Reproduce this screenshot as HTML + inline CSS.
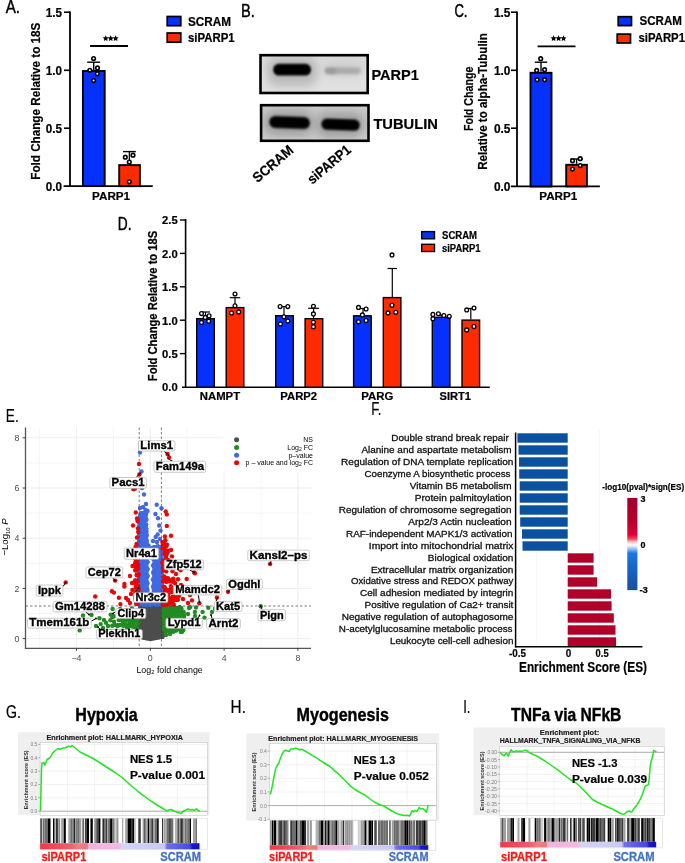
<!DOCTYPE html>
<html><head><meta charset="utf-8"><style>
html,body{margin:0;padding:0;background:#fff;}
svg{display:block;font-family:"Liberation Sans", sans-serif;will-change:transform;}
</style></head><body>
<svg width="685" height="863" viewBox="0 0 685 863">
<rect width="685" height="863" fill="#fff"/>
<text x="5.7" y="12.9" font-size="17.5" textLength="14.3" lengthAdjust="spacingAndGlyphs" fill="#000" stroke="#000" stroke-width="0.45">A.</text>
<line x1="70.0" y1="11.4" x2="70.0" y2="187.0" stroke="#000" stroke-width="1.8"/>
<line x1="63.6" y1="186.2" x2="152.7" y2="186.2" stroke="#000" stroke-width="1.8"/>
<line x1="64.0" y1="12.2" x2="70.0" y2="12.2" stroke="#000" stroke-width="1.6"/>
<line x1="64.0" y1="70.3" x2="70.0" y2="70.3" stroke="#000" stroke-width="1.6"/>
<line x1="64.0" y1="128.2" x2="70.0" y2="128.2" stroke="#000" stroke-width="1.6"/>
<text x="62.0" y="16.7" font-size="12" font-weight="bold" text-anchor="end" textLength="16.2" lengthAdjust="spacingAndGlyphs" fill="#000" stroke="#000" stroke-width="0.2">1.5</text>
<text x="62.0" y="74.8" font-size="12" font-weight="bold" text-anchor="end" textLength="16.2" lengthAdjust="spacingAndGlyphs" fill="#000" stroke="#000" stroke-width="0.2">1.0</text>
<text x="62.0" y="132.7" font-size="12" font-weight="bold" text-anchor="end" textLength="16.2" lengthAdjust="spacingAndGlyphs" fill="#000" stroke="#000" stroke-width="0.2">0.5</text>
<text x="62.0" y="190.7" font-size="12" font-weight="bold" text-anchor="end" textLength="16.2" lengthAdjust="spacingAndGlyphs" fill="#000" stroke="#000" stroke-width="0.2">0.0</text>
<text x="39.8" y="179.7" font-size="12.5" font-weight="bold" textLength="157.0" lengthAdjust="spacingAndGlyphs" fill="#000" transform="rotate(-90 39.8 179.7)" stroke="#000" stroke-width="0.2">Fold Change Relative to 18S</text>
<rect x="82.9" y="71.0" width="21.8" height="115.1" fill="#0630fb" stroke="#000" stroke-width="1.9"/>
<rect x="119.2" y="165.1" width="20.7" height="21.1" fill="#fe2a00" stroke="#000" stroke-width="1.9"/>
<line x1="93.7" y1="70.1" x2="93.7" y2="62.2" stroke="#000" stroke-width="1.4"/>
<line x1="87.2" y1="62.2" x2="100.2" y2="62.2" stroke="#000" stroke-width="1.4"/>
<line x1="129.4" y1="164.2" x2="129.4" y2="151.6" stroke="#000" stroke-width="1.4"/>
<line x1="123.0" y1="151.6" x2="135.8" y2="151.6" stroke="#000" stroke-width="1.4"/>
<circle cx="93.6" cy="58.5" r="1.80" fill="#fff" stroke="#000" stroke-width="1.6"/>
<circle cx="89.8" cy="70.3" r="1.80" fill="#fff" stroke="#000" stroke-width="1.6"/>
<circle cx="97.5" cy="67.9" r="1.80" fill="#fff" stroke="#000" stroke-width="1.6"/>
<circle cx="97.3" cy="73.8" r="1.80" fill="#fff" stroke="#000" stroke-width="1.6"/>
<circle cx="93.6" cy="80.6" r="1.80" fill="#fff" stroke="#000" stroke-width="1.6"/>
<circle cx="125.3" cy="157.2" r="1.80" fill="#fff" stroke="#000" stroke-width="1.6"/>
<circle cx="129.3" cy="162.0" r="1.80" fill="#fff" stroke="#000" stroke-width="1.6"/>
<circle cx="133.0" cy="155.2" r="1.80" fill="#fff" stroke="#000" stroke-width="1.6"/>
<circle cx="129.3" cy="181.8" r="1.80" fill="#fff" stroke="#000" stroke-width="1.6"/>
<line x1="90.1" y1="46.0" x2="128.0" y2="46.0" stroke="#000" stroke-width="1.8"/>
<polygon points="105.70,35.30 106.61,37.15 108.65,37.44 107.17,38.88 107.52,40.91 105.70,39.95 103.88,40.91 104.23,38.88 102.75,37.44 104.79,37.15" fill="#000"/>
<polygon points="110.70,35.30 111.61,37.15 113.65,37.44 112.17,38.88 112.52,40.91 110.70,39.95 108.88,40.91 109.23,38.88 107.75,37.44 109.79,37.15" fill="#000"/>
<polygon points="115.60,35.30 116.51,37.15 118.55,37.44 117.07,38.88 117.42,40.91 115.60,39.95 113.78,40.91 114.13,38.88 112.65,37.44 114.69,37.15" fill="#000"/>
<text x="111.1" y="199.9" font-size="11.7" font-weight="bold" text-anchor="middle" textLength="38.0" lengthAdjust="spacingAndGlyphs" fill="#000" stroke="#000" stroke-width="0.2">PARP1</text>
<rect x="167.2" y="16.5" width="13.6" height="9.2" fill="#0630fb" stroke="#000" stroke-width="1.7"/>
<rect x="167.2" y="33.0" width="13.6" height="9.2" fill="#fe2a00" stroke="#000" stroke-width="1.7"/>
<text x="188.0" y="26.0" font-size="12" font-weight="bold" textLength="43.0" lengthAdjust="spacingAndGlyphs" fill="#000" stroke="#000" stroke-width="0.2">SCRAM</text>
<text x="188.0" y="42.1" font-size="12" font-weight="bold" textLength="46.7" lengthAdjust="spacingAndGlyphs" fill="#000" stroke="#000" stroke-width="0.2">siPARP1</text>
<text x="240.9" y="16.9" font-size="17.5" textLength="13.8" lengthAdjust="spacingAndGlyphs" fill="#000" stroke="#000" stroke-width="0.45">B.</text>
<defs>
<filter id="bl08" x="-50%" y="-100%" width="200%" height="300%"><feGaussianBlur stdDeviation="0.8"/></filter>
<filter id="bl12" x="-50%" y="-100%" width="200%" height="300%"><feGaussianBlur stdDeviation="1.2"/></filter>
<filter id="bl18" x="-50%" y="-100%" width="200%" height="300%"><feGaussianBlur stdDeviation="1.6"/></filter>
<filter id="bl4" x="-50%" y="-100%" width="200%" height="300%"><feGaussianBlur stdDeviation="4"/></filter>
<linearGradient id="blotbg" x1="0" y1="0" x2="0" y2="1"><stop offset="0" stop-color="#d8d8d8"/><stop offset="0.5" stop-color="#e4e4e4"/><stop offset="1" stop-color="#dedede"/></linearGradient>
<linearGradient id="blotbg2" x1="0" y1="0" x2="0" y2="1"><stop offset="0" stop-color="#cacaca"/><stop offset="0.5" stop-color="#c4c4c4"/><stop offset="1" stop-color="#cdcdcd"/></linearGradient>
<clipPath id="clipb1"><rect x="261.8" y="56.5" width="104.6" height="35.2"/></clipPath>
<clipPath id="clipb2"><rect x="262.4" y="107" width="104.6" height="32"/></clipPath>
</defs>
<rect x="260.5" y="55.2" width="107.2" height="37.8" fill="url(#blotbg)"/>
<g clip-path="url(#clipb1)">
<rect x="266" y="58" width="52" height="28" rx="12" fill="#9a9a9a" opacity="0.55" filter="url(#bl4)"/>
<rect x="322" y="63" width="42" height="14" rx="7" fill="#b8b8b8" opacity="0.5" filter="url(#bl4)"/>
<rect x="273.2" y="63.8" width="37.8" height="11.8" rx="5.6" fill="#000" filter="url(#bl08)"/>
<rect x="325" y="67.6" width="35.5" height="6.4" rx="3.2" fill="#aaaaaa" filter="url(#bl18)"/><rect x="325.5" y="68.2" width="11" height="5.2" rx="2.6" fill="#9c9c9c" filter="url(#bl18)"/>
</g>
<rect x="260.5" y="55.2" width="107.2" height="37.8" fill="none" stroke="#000" stroke-width="2.6"/>
<rect x="261.1" y="105.2" width="107.4" height="35.6" fill="url(#blotbg2)"/>
<g clip-path="url(#clipb2)">
<rect x="264" y="110" width="50" height="26" rx="12" fill="#8a8a8a" opacity="0.6" filter="url(#bl4)"/>
<rect x="316" y="112" width="48" height="26" rx="12" fill="#8a8a8a" opacity="0.6" filter="url(#bl4)"/>
<rect x="269.3" y="116.5" width="40.6" height="12" rx="5.8" fill="#000" filter="url(#bl08)" transform="rotate(2 289.5 122.3)"/>
<rect x="321.4" y="118.9" width="38.4" height="11.4" rx="5.5" fill="#000" filter="url(#bl08)" transform="rotate(2 340.6 124.6)"/>
</g>
<rect x="261.1" y="105.2" width="107.4" height="35.6" fill="none" stroke="#000" stroke-width="2.6"/>
<text x="371.4" y="79.8" font-size="14.8" font-weight="bold" textLength="47.5" lengthAdjust="spacingAndGlyphs" fill="#000" stroke="#000" stroke-width="0.2">PARP1</text>
<text x="373.4" y="128.5" font-size="14.8" font-weight="bold" textLength="64.5" lengthAdjust="spacingAndGlyphs" fill="#000" stroke="#000" stroke-width="0.2">TUBULIN</text>
<text x="257.6" y="183.2" font-size="14" font-weight="bold" textLength="48.5" lengthAdjust="spacingAndGlyphs" fill="#000" transform="rotate(-40.5 257.6 183.2)" stroke="#000" stroke-width="0.2">SCRAM</text>
<text x="312.2" y="184.8" font-size="14" font-weight="bold" textLength="52.0" lengthAdjust="spacingAndGlyphs" fill="#000" transform="rotate(-40 312.2 184.8)" stroke="#000" stroke-width="0.2">siPARP1</text>
<text x="454.4" y="16.6" font-size="17.5" textLength="13.1" lengthAdjust="spacingAndGlyphs" fill="#000" stroke="#000" stroke-width="0.45">C.</text>
<line x1="517.0" y1="11.4" x2="517.0" y2="187.0" stroke="#000" stroke-width="1.8"/>
<line x1="510.8" y1="186.4" x2="599.9" y2="186.4" stroke="#000" stroke-width="1.8"/>
<line x1="511.0" y1="12.2" x2="517.0" y2="12.2" stroke="#000" stroke-width="1.6"/>
<line x1="511.0" y1="70.3" x2="517.0" y2="70.3" stroke="#000" stroke-width="1.6"/>
<line x1="511.0" y1="128.2" x2="517.0" y2="128.2" stroke="#000" stroke-width="1.6"/>
<text x="510.4" y="16.7" font-size="12" font-weight="bold" text-anchor="end" textLength="16.5" lengthAdjust="spacingAndGlyphs" fill="#000" stroke="#000" stroke-width="0.2">1.5</text>
<text x="510.4" y="74.8" font-size="12" font-weight="bold" text-anchor="end" textLength="16.5" lengthAdjust="spacingAndGlyphs" fill="#000" stroke="#000" stroke-width="0.2">1.0</text>
<text x="510.4" y="132.7" font-size="12" font-weight="bold" text-anchor="end" textLength="16.5" lengthAdjust="spacingAndGlyphs" fill="#000" stroke="#000" stroke-width="0.2">0.5</text>
<text x="510.4" y="190.9" font-size="12" font-weight="bold" text-anchor="end" textLength="16.5" lengthAdjust="spacingAndGlyphs" fill="#000" stroke="#000" stroke-width="0.2">0.0</text>
<text x="473.5" y="131.1" font-size="12.3" font-weight="bold" textLength="64.4" lengthAdjust="spacingAndGlyphs" fill="#000" transform="rotate(-90 473.5 131.1)" stroke="#000" stroke-width="0.2">Fold Change</text>
<text x="487.4" y="169.8" font-size="12.3" font-weight="bold" textLength="136.7" lengthAdjust="spacingAndGlyphs" fill="#000" transform="rotate(-90 487.4 169.8)" stroke="#000" stroke-width="0.2">Relative to alpha-Tubulin</text>
<rect x="530.5" y="72.8" width="21.0" height="113.7" fill="#0630fb" stroke="#000" stroke-width="1.9"/>
<rect x="566.2" y="164.8" width="20.7" height="21.6" fill="#fe2a00" stroke="#000" stroke-width="1.9"/>
<line x1="541.0" y1="71.8" x2="541.0" y2="62.2" stroke="#000" stroke-width="1.4"/>
<line x1="534.8" y1="62.2" x2="547.2" y2="62.2" stroke="#000" stroke-width="1.4"/>
<line x1="576.6" y1="163.9" x2="576.6" y2="159.0" stroke="#000" stroke-width="1.4"/>
<line x1="570.3" y1="159.0" x2="582.9" y2="159.0" stroke="#000" stroke-width="1.4"/>
<circle cx="540.7" cy="58.7" r="1.80" fill="#fff" stroke="#000" stroke-width="1.6"/>
<circle cx="536.7" cy="70.4" r="1.80" fill="#fff" stroke="#000" stroke-width="1.6"/>
<circle cx="544.6" cy="69.7" r="1.80" fill="#fff" stroke="#000" stroke-width="1.6"/>
<circle cx="537.1" cy="79.7" r="1.80" fill="#fff" stroke="#000" stroke-width="1.6"/>
<circle cx="544.6" cy="79.7" r="1.80" fill="#fff" stroke="#000" stroke-width="1.6"/>
<circle cx="572.5" cy="160.8" r="1.80" fill="#fff" stroke="#000" stroke-width="1.6"/>
<circle cx="580.2" cy="158.7" r="1.80" fill="#fff" stroke="#000" stroke-width="1.6"/>
<circle cx="580.2" cy="165.6" r="1.80" fill="#fff" stroke="#000" stroke-width="1.6"/>
<circle cx="572.5" cy="169.1" r="1.80" fill="#fff" stroke="#000" stroke-width="1.6"/>
<line x1="537.6" y1="46.4" x2="575.5" y2="46.4" stroke="#000" stroke-width="1.8"/>
<polygon points="553.60,35.30 554.51,37.15 556.55,37.44 555.07,38.88 555.42,40.91 553.60,39.95 551.78,40.91 552.13,38.88 550.65,37.44 552.69,37.15" fill="#000"/>
<polygon points="558.60,35.30 559.51,37.15 561.55,37.44 560.07,38.88 560.42,40.91 558.60,39.95 556.78,40.91 557.13,38.88 555.65,37.44 557.69,37.15" fill="#000"/>
<polygon points="563.50,35.30 564.41,37.15 566.45,37.44 564.97,38.88 565.32,40.91 563.50,39.95 561.68,40.91 562.03,38.88 560.55,37.44 562.59,37.15" fill="#000"/>
<text x="558.3" y="199.9" font-size="11.7" font-weight="bold" text-anchor="middle" textLength="38.0" lengthAdjust="spacingAndGlyphs" fill="#000" stroke="#000" stroke-width="0.2">PARP1</text>
<rect x="618.2" y="16.7" width="13.3" height="8.9" fill="#0630fb" stroke="#000" stroke-width="1.7"/>
<rect x="617.2" y="34.1" width="13.3" height="8.9" fill="#fe2a00" stroke="#000" stroke-width="1.7"/>
<text x="639.5" y="25.4" font-size="12" font-weight="bold" textLength="42.4" lengthAdjust="spacingAndGlyphs" fill="#000" stroke="#000" stroke-width="0.2">SCRAM</text>
<text x="638.5" y="42.3" font-size="12" font-weight="bold" textLength="46.5" lengthAdjust="spacingAndGlyphs" fill="#000" stroke="#000" stroke-width="0.2">siPARP1</text>
<text x="117.8" y="229.6" font-size="17.5" textLength="13.7" lengthAdjust="spacingAndGlyphs" fill="#000" stroke="#000" stroke-width="0.45">D.</text>
<line x1="185.6" y1="219.0" x2="185.6" y2="388.0" stroke="#000" stroke-width="1.6"/>
<line x1="182.0" y1="387.2" x2="489.8" y2="387.2" stroke="#000" stroke-width="1.6"/>
<text x="177.7" y="391.4" font-size="10.3" font-weight="bold" text-anchor="end" textLength="15.6" lengthAdjust="spacingAndGlyphs" fill="#000" stroke="#000" stroke-width="0.2">0.0</text>
<line x1="179.9" y1="353.6" x2="185.6" y2="353.6" stroke="#000" stroke-width="1.4"/>
<text x="177.7" y="358.0" font-size="10.3" font-weight="bold" text-anchor="end" textLength="15.6" lengthAdjust="spacingAndGlyphs" fill="#000" stroke="#000" stroke-width="0.2">0.5</text>
<line x1="179.9" y1="320.2" x2="185.6" y2="320.2" stroke="#000" stroke-width="1.4"/>
<text x="177.7" y="324.6" font-size="10.3" font-weight="bold" text-anchor="end" textLength="15.6" lengthAdjust="spacingAndGlyphs" fill="#000" stroke="#000" stroke-width="0.2">1.0</text>
<line x1="179.9" y1="286.8" x2="185.6" y2="286.8" stroke="#000" stroke-width="1.4"/>
<text x="177.7" y="291.2" font-size="10.3" font-weight="bold" text-anchor="end" textLength="15.6" lengthAdjust="spacingAndGlyphs" fill="#000" stroke="#000" stroke-width="0.2">1.5</text>
<line x1="179.9" y1="253.4" x2="185.6" y2="253.4" stroke="#000" stroke-width="1.4"/>
<text x="177.7" y="257.8" font-size="10.3" font-weight="bold" text-anchor="end" textLength="15.6" lengthAdjust="spacingAndGlyphs" fill="#000" stroke="#000" stroke-width="0.2">2.0</text>
<line x1="179.9" y1="220.0" x2="185.6" y2="220.0" stroke="#000" stroke-width="1.4"/>
<text x="177.7" y="224.4" font-size="10.3" font-weight="bold" text-anchor="end" textLength="15.6" lengthAdjust="spacingAndGlyphs" fill="#000" stroke="#000" stroke-width="0.2">2.5</text>
<text transform="translate(156.6,381.2) scale(1.15,1) rotate(-90)" x="0" y="0" font-size="10.6" font-weight="bold" textLength="150.4" lengthAdjust="spacingAndGlyphs" stroke="#000" stroke-width="0.2">Fold Change Relative to 18S</text>
<rect x="196.7" y="318.7" width="17.6" height="68.5" fill="#0630fb" stroke="#000" stroke-width="1.4"/>
<rect x="226.2" y="307.6" width="17.6" height="79.6" fill="#fe2a00" stroke="#000" stroke-width="1.4"/>
<rect x="275.7" y="315.7" width="17.6" height="71.5" fill="#0630fb" stroke="#000" stroke-width="1.4"/>
<rect x="305.1" y="318.7" width="17.6" height="68.5" fill="#fe2a00" stroke="#000" stroke-width="1.4"/>
<rect x="353.6" y="315.8" width="17.6" height="71.4" fill="#0630fb" stroke="#000" stroke-width="1.4"/>
<rect x="383.3" y="297.6" width="17.6" height="89.6" fill="#fe2a00" stroke="#000" stroke-width="1.4"/>
<rect x="432.3" y="317.3" width="17.6" height="69.9" fill="#0630fb" stroke="#000" stroke-width="1.4"/>
<rect x="462.0" y="320.1" width="17.6" height="67.1" fill="#fe2a00" stroke="#000" stroke-width="1.4"/>
<text x="199.8" y="400.0" font-size="10.6" font-weight="bold" textLength="40.3" lengthAdjust="spacingAndGlyphs" fill="#000" stroke="#000" stroke-width="0.2">NAMPT</text>
<text x="280.3" y="400.0" font-size="10.6" font-weight="bold" textLength="36.8" lengthAdjust="spacingAndGlyphs" fill="#000" stroke="#000" stroke-width="0.2">PARP2</text>
<text x="361.2" y="400.0" font-size="10.6" font-weight="bold" textLength="32.1" lengthAdjust="spacingAndGlyphs" fill="#000" stroke="#000" stroke-width="0.2">PARG</text>
<text x="439.5" y="400.0" font-size="10.6" font-weight="bold" textLength="31.5" lengthAdjust="spacingAndGlyphs" fill="#000" stroke="#000" stroke-width="0.2">SIRT1</text>
<line x1="205.5" y1="318.0" x2="205.5" y2="312.0" stroke="#000" stroke-width="1.2"/>
<line x1="201.0" y1="312.0" x2="210.0" y2="312.0" stroke="#000" stroke-width="1.2"/>
<line x1="235.0" y1="306.9" x2="235.0" y2="297.7" stroke="#000" stroke-width="1.2"/>
<line x1="229.8" y1="297.7" x2="240.2" y2="297.7" stroke="#000" stroke-width="1.2"/>
<line x1="284.0" y1="315.0" x2="284.0" y2="306.6" stroke="#000" stroke-width="1.2"/>
<line x1="279.5" y1="306.6" x2="288.5" y2="306.6" stroke="#000" stroke-width="1.2"/>
<line x1="313.6" y1="318.0" x2="313.6" y2="308.3" stroke="#000" stroke-width="1.2"/>
<line x1="308.1" y1="308.3" x2="319.1" y2="308.3" stroke="#000" stroke-width="1.2"/>
<line x1="363.0" y1="315.1" x2="363.0" y2="308.5" stroke="#000" stroke-width="1.2"/>
<line x1="358.5" y1="308.5" x2="367.5" y2="308.5" stroke="#000" stroke-width="1.2"/>
<line x1="392.3" y1="296.9" x2="392.3" y2="268.5" stroke="#000" stroke-width="1.2"/>
<line x1="387.6" y1="268.5" x2="397.0" y2="268.5" stroke="#000" stroke-width="1.2"/>
<line x1="441.0" y1="316.6" x2="441.0" y2="315.0" stroke="#000" stroke-width="1.2"/>
<line x1="437.0" y1="315.0" x2="445.0" y2="315.0" stroke="#000" stroke-width="1.2"/>
<line x1="470.8" y1="319.4" x2="470.8" y2="308.5" stroke="#000" stroke-width="1.2"/>
<line x1="466.3" y1="308.5" x2="475.3" y2="308.5" stroke="#000" stroke-width="1.2"/>
<circle cx="201.5" cy="313.6" r="1.90" fill="#fff" stroke="#000" stroke-width="1.3"/>
<circle cx="205.2" cy="317.4" r="1.90" fill="#fff" stroke="#000" stroke-width="1.3"/>
<circle cx="209.1" cy="315.8" r="1.90" fill="#fff" stroke="#000" stroke-width="1.3"/>
<circle cx="201.5" cy="322.4" r="1.90" fill="#fff" stroke="#000" stroke-width="1.3"/>
<circle cx="208.7" cy="321.3" r="1.90" fill="#fff" stroke="#000" stroke-width="1.3"/>
<circle cx="235.0" cy="294.0" r="1.90" fill="#fff" stroke="#000" stroke-width="1.3"/>
<circle cx="235.0" cy="305.8" r="1.90" fill="#fff" stroke="#000" stroke-width="1.3"/>
<circle cx="231.5" cy="313.0" r="1.90" fill="#fff" stroke="#000" stroke-width="1.3"/>
<circle cx="238.7" cy="311.9" r="1.90" fill="#fff" stroke="#000" stroke-width="1.3"/>
<circle cx="280.1" cy="306.6" r="1.90" fill="#fff" stroke="#000" stroke-width="1.3"/>
<circle cx="287.8" cy="306.6" r="1.90" fill="#fff" stroke="#000" stroke-width="1.3"/>
<circle cx="283.9" cy="316.8" r="1.90" fill="#fff" stroke="#000" stroke-width="1.3"/>
<circle cx="280.4" cy="324.0" r="1.90" fill="#fff" stroke="#000" stroke-width="1.3"/>
<circle cx="287.8" cy="320.9" r="1.90" fill="#fff" stroke="#000" stroke-width="1.3"/>
<circle cx="313.4" cy="306.3" r="1.90" fill="#fff" stroke="#000" stroke-width="1.3"/>
<circle cx="313.4" cy="313.9" r="1.90" fill="#fff" stroke="#000" stroke-width="1.3"/>
<circle cx="313.4" cy="322.3" r="1.90" fill="#fff" stroke="#000" stroke-width="1.3"/>
<circle cx="313.4" cy="326.7" r="1.90" fill="#fff" stroke="#000" stroke-width="1.3"/>
<circle cx="358.5" cy="307.4" r="1.90" fill="#fff" stroke="#000" stroke-width="1.3"/>
<circle cx="366.1" cy="309.0" r="1.90" fill="#fff" stroke="#000" stroke-width="1.3"/>
<circle cx="362.4" cy="314.9" r="1.90" fill="#fff" stroke="#000" stroke-width="1.3"/>
<circle cx="358.5" cy="321.7" r="1.90" fill="#fff" stroke="#000" stroke-width="1.3"/>
<circle cx="366.1" cy="320.6" r="1.90" fill="#fff" stroke="#000" stroke-width="1.3"/>
<circle cx="392.0" cy="254.9" r="1.90" fill="#fff" stroke="#000" stroke-width="1.3"/>
<circle cx="392.0" cy="305.3" r="1.90" fill="#fff" stroke="#000" stroke-width="1.3"/>
<circle cx="388.0" cy="312.9" r="1.90" fill="#fff" stroke="#000" stroke-width="1.3"/>
<circle cx="395.7" cy="312.3" r="1.90" fill="#fff" stroke="#000" stroke-width="1.3"/>
<circle cx="432.9" cy="314.4" r="1.90" fill="#fff" stroke="#000" stroke-width="1.3"/>
<circle cx="438.4" cy="313.8" r="1.90" fill="#fff" stroke="#000" stroke-width="1.3"/>
<circle cx="443.9" cy="315.5" r="1.90" fill="#fff" stroke="#000" stroke-width="1.3"/>
<circle cx="449.3" cy="316.2" r="1.90" fill="#fff" stroke="#000" stroke-width="1.3"/>
<circle cx="432.9" cy="318.8" r="1.90" fill="#fff" stroke="#000" stroke-width="1.3"/>
<circle cx="466.7" cy="309.9" r="1.90" fill="#fff" stroke="#000" stroke-width="1.3"/>
<circle cx="474.0" cy="308.0" r="1.90" fill="#fff" stroke="#000" stroke-width="1.3"/>
<circle cx="466.7" cy="329.9" r="1.90" fill="#fff" stroke="#000" stroke-width="1.3"/>
<circle cx="474.0" cy="326.6" r="1.90" fill="#fff" stroke="#000" stroke-width="1.3"/>
<rect x="421.7" y="231.6" width="12.8" height="7.2" fill="#0630fb" stroke="#000" stroke-width="1.4"/>
<rect x="421.7" y="244.3" width="12.8" height="7.2" fill="#fe2a00" stroke="#000" stroke-width="1.4"/>
<text x="442.0" y="239.0" font-size="10.4" font-weight="bold" textLength="35.1" lengthAdjust="spacingAndGlyphs" fill="#000" stroke="#000" stroke-width="0.2">SCRAM</text>
<text x="442.0" y="251.8" font-size="10.4" font-weight="bold" textLength="38.6" lengthAdjust="spacingAndGlyphs" fill="#000" stroke="#000" stroke-width="0.2">siPARP1</text>
<text x="5.8" y="422.2" font-size="17.5" textLength="12.9" lengthAdjust="spacingAndGlyphs" fill="#000" stroke="#000" stroke-width="0.15">E.</text>
<line x1="39.6" y1="427.5" x2="39.6" y2="648.3" stroke="#ebebeb" stroke-width="0.5"/>
<line x1="76.5" y1="427.5" x2="76.5" y2="648.3" stroke="#ebebeb" stroke-width="0.9"/>
<line x1="113.4" y1="427.5" x2="113.4" y2="648.3" stroke="#ebebeb" stroke-width="0.5"/>
<line x1="150.3" y1="427.5" x2="150.3" y2="648.3" stroke="#ebebeb" stroke-width="0.9"/>
<line x1="187.2" y1="427.5" x2="187.2" y2="648.3" stroke="#ebebeb" stroke-width="0.5"/>
<line x1="224.1" y1="427.5" x2="224.1" y2="648.3" stroke="#ebebeb" stroke-width="0.9"/>
<line x1="261.0" y1="427.5" x2="261.0" y2="648.3" stroke="#ebebeb" stroke-width="0.5"/>
<line x1="297.9" y1="427.5" x2="297.9" y2="648.3" stroke="#ebebeb" stroke-width="0.9"/>
<line x1="25.5" y1="638.6" x2="311.0" y2="638.6" stroke="#ebebeb" stroke-width="0.9"/>
<line x1="25.5" y1="613.5" x2="311.0" y2="613.5" stroke="#ebebeb" stroke-width="0.5"/>
<line x1="25.5" y1="588.4" x2="311.0" y2="588.4" stroke="#ebebeb" stroke-width="0.9"/>
<line x1="25.5" y1="563.3" x2="311.0" y2="563.3" stroke="#ebebeb" stroke-width="0.5"/>
<line x1="25.5" y1="538.2" x2="311.0" y2="538.2" stroke="#ebebeb" stroke-width="0.9"/>
<line x1="25.5" y1="513.1" x2="311.0" y2="513.1" stroke="#ebebeb" stroke-width="0.5"/>
<line x1="25.5" y1="488.0" x2="311.0" y2="488.0" stroke="#ebebeb" stroke-width="0.9"/>
<line x1="25.5" y1="462.9" x2="311.0" y2="462.9" stroke="#ebebeb" stroke-width="0.5"/>
<line x1="25.5" y1="437.8" x2="311.0" y2="437.8" stroke="#ebebeb" stroke-width="0.9"/>
<polygon points="138.6,605 163.2,605 163.2,638.6 150.5,641.2 138.6,638.6" fill="#4d4d4d"/>
<g fill="#4d4d4d"><circle cx="149.7" cy="624.5" r="2.2"/><circle cx="160.8" cy="620.8" r="2.2"/><circle cx="151.0" cy="625.4" r="2.2"/><circle cx="143.4" cy="622.5" r="2.2"/><circle cx="153.9" cy="631.7" r="2.2"/><circle cx="141.2" cy="615.9" r="2.2"/><circle cx="141.1" cy="631.5" r="2.2"/><circle cx="155.4" cy="607.8" r="2.2"/><circle cx="162.2" cy="636.0" r="2.2"/><circle cx="154.4" cy="626.0" r="2.2"/><circle cx="142.7" cy="607.0" r="2.2"/><circle cx="151.5" cy="608.4" r="2.2"/><circle cx="143.5" cy="614.1" r="2.2"/><circle cx="139.7" cy="620.7" r="2.2"/><circle cx="149.4" cy="633.6" r="2.2"/><circle cx="151.3" cy="627.1" r="2.2"/><circle cx="150.8" cy="627.9" r="2.2"/><circle cx="149.8" cy="615.5" r="2.2"/><circle cx="162.5" cy="636.9" r="2.2"/><circle cx="158.8" cy="628.5" r="2.2"/><circle cx="146.4" cy="613.8" r="2.2"/><circle cx="145.8" cy="608.7" r="2.2"/><circle cx="157.1" cy="619.0" r="2.2"/><circle cx="159.0" cy="618.5" r="2.2"/><circle cx="161.6" cy="632.5" r="2.2"/><circle cx="139.0" cy="612.9" r="2.2"/><circle cx="160.5" cy="621.0" r="2.2"/><circle cx="162.1" cy="618.6" r="2.2"/><circle cx="140.7" cy="625.9" r="2.2"/><circle cx="157.4" cy="614.9" r="2.2"/><circle cx="141.1" cy="616.8" r="2.2"/><circle cx="161.8" cy="629.7" r="2.2"/><circle cx="141.8" cy="614.1" r="2.2"/><circle cx="141.4" cy="608.4" r="2.2"/><circle cx="157.8" cy="612.0" r="2.2"/><circle cx="152.2" cy="620.8" r="2.2"/><circle cx="143.5" cy="629.4" r="2.2"/><circle cx="142.1" cy="626.5" r="2.2"/><circle cx="141.7" cy="619.5" r="2.2"/><circle cx="144.0" cy="615.0" r="2.2"/><circle cx="161.9" cy="631.1" r="2.2"/><circle cx="146.2" cy="634.5" r="2.2"/><circle cx="144.0" cy="618.8" r="2.2"/><circle cx="159.2" cy="626.4" r="2.2"/><circle cx="141.4" cy="637.1" r="2.2"/><circle cx="144.0" cy="614.6" r="2.2"/><circle cx="157.2" cy="616.8" r="2.2"/><circle cx="146.0" cy="608.8" r="2.2"/><circle cx="141.1" cy="624.5" r="2.2"/><circle cx="144.7" cy="625.4" r="2.2"/><circle cx="147.8" cy="621.0" r="2.2"/><circle cx="161.6" cy="621.3" r="2.2"/><circle cx="152.6" cy="634.2" r="2.2"/><circle cx="143.3" cy="611.3" r="2.2"/><circle cx="160.4" cy="631.7" r="2.2"/><circle cx="144.9" cy="612.5" r="2.2"/><circle cx="156.5" cy="636.0" r="2.2"/><circle cx="143.6" cy="636.2" r="2.2"/><circle cx="159.8" cy="625.2" r="2.2"/><circle cx="148.9" cy="609.8" r="2.2"/><circle cx="139.9" cy="636.1" r="2.2"/><circle cx="144.6" cy="628.6" r="2.2"/><circle cx="145.1" cy="632.4" r="2.2"/><circle cx="153.1" cy="615.9" r="2.2"/><circle cx="143.1" cy="629.0" r="2.2"/><circle cx="140.6" cy="613.5" r="2.2"/><circle cx="152.2" cy="633.8" r="2.2"/><circle cx="153.5" cy="615.4" r="2.2"/><circle cx="160.6" cy="612.8" r="2.2"/><circle cx="139.4" cy="614.7" r="2.2"/><circle cx="149.5" cy="608.4" r="2.2"/><circle cx="143.2" cy="618.0" r="2.2"/><circle cx="152.5" cy="610.7" r="2.2"/><circle cx="147.5" cy="634.9" r="2.2"/><circle cx="162.1" cy="626.6" r="2.2"/><circle cx="155.3" cy="625.0" r="2.2"/><circle cx="142.3" cy="607.6" r="2.2"/><circle cx="139.4" cy="634.4" r="2.2"/><circle cx="155.5" cy="636.9" r="2.2"/><circle cx="139.5" cy="626.0" r="2.2"/><circle cx="150.4" cy="630.1" r="2.2"/><circle cx="146.5" cy="638.2" r="2.2"/><circle cx="140.8" cy="623.3" r="2.2"/><circle cx="156.4" cy="634.8" r="2.2"/><circle cx="156.4" cy="628.6" r="2.2"/><circle cx="157.7" cy="635.1" r="2.2"/><circle cx="147.3" cy="628.3" r="2.2"/><circle cx="160.3" cy="633.4" r="2.2"/><circle cx="148.8" cy="631.8" r="2.2"/><circle cx="159.4" cy="624.2" r="2.2"/><circle cx="153.7" cy="618.7" r="2.2"/><circle cx="152.8" cy="626.0" r="2.2"/><circle cx="140.9" cy="626.2" r="2.2"/><circle cx="162.4" cy="633.3" r="2.2"/><circle cx="156.2" cy="618.7" r="2.2"/><circle cx="156.3" cy="624.8" r="2.2"/><circle cx="149.4" cy="633.4" r="2.2"/><circle cx="141.0" cy="629.7" r="2.2"/><circle cx="139.7" cy="624.9" r="2.2"/><circle cx="150.4" cy="613.9" r="2.2"/><circle cx="155.5" cy="622.2" r="2.2"/><circle cx="153.5" cy="635.8" r="2.2"/><circle cx="145.0" cy="606.9" r="2.2"/><circle cx="146.1" cy="628.0" r="2.2"/><circle cx="143.8" cy="611.8" r="2.2"/><circle cx="160.4" cy="626.8" r="2.2"/><circle cx="149.4" cy="635.2" r="2.2"/><circle cx="146.7" cy="627.6" r="2.2"/><circle cx="143.7" cy="620.0" r="2.2"/><circle cx="158.0" cy="635.0" r="2.2"/><circle cx="159.8" cy="618.4" r="2.2"/><circle cx="152.8" cy="616.6" r="2.2"/><circle cx="142.2" cy="621.9" r="2.2"/><circle cx="158.8" cy="632.9" r="2.2"/><circle cx="155.8" cy="636.4" r="2.2"/><circle cx="145.5" cy="611.8" r="2.2"/><circle cx="149.6" cy="615.4" r="2.2"/><circle cx="144.1" cy="619.5" r="2.2"/><circle cx="153.8" cy="622.2" r="2.2"/><circle cx="146.4" cy="633.1" r="2.2"/><circle cx="162.2" cy="620.3" r="2.2"/><circle cx="140.8" cy="607.5" r="2.2"/><circle cx="159.6" cy="607.8" r="2.2"/><circle cx="155.7" cy="624.5" r="2.2"/><circle cx="146.3" cy="631.6" r="2.2"/><circle cx="139.5" cy="610.7" r="2.2"/><circle cx="149.7" cy="607.3" r="2.2"/><circle cx="158.6" cy="613.9" r="2.2"/><circle cx="142.3" cy="608.0" r="2.2"/><circle cx="153.8" cy="620.7" r="2.2"/><circle cx="153.9" cy="627.3" r="2.2"/><circle cx="158.1" cy="636.4" r="2.2"/><circle cx="155.2" cy="612.8" r="2.2"/><circle cx="150.2" cy="612.3" r="2.2"/><circle cx="139.3" cy="621.0" r="2.2"/><circle cx="155.9" cy="612.1" r="2.2"/><circle cx="145.4" cy="617.4" r="2.2"/><circle cx="155.5" cy="622.9" r="2.2"/><circle cx="153.5" cy="630.6" r="2.2"/><circle cx="148.3" cy="631.8" r="2.2"/><circle cx="160.4" cy="609.2" r="2.2"/><circle cx="161.0" cy="628.7" r="2.2"/><circle cx="142.1" cy="620.6" r="2.2"/><circle cx="153.8" cy="635.4" r="2.2"/><circle cx="147.9" cy="624.7" r="2.2"/><circle cx="159.8" cy="631.1" r="2.2"/><circle cx="161.3" cy="620.7" r="2.2"/><circle cx="154.4" cy="613.0" r="2.2"/><circle cx="156.0" cy="632.3" r="2.2"/><circle cx="154.1" cy="629.3" r="2.2"/><circle cx="144.0" cy="634.7" r="2.2"/><circle cx="162.1" cy="636.4" r="2.2"/><circle cx="151.7" cy="631.9" r="2.2"/><circle cx="146.6" cy="635.4" r="2.2"/><circle cx="159.2" cy="617.3" r="2.2"/><circle cx="141.0" cy="620.1" r="2.2"/><circle cx="152.0" cy="631.1" r="2.2"/><circle cx="150.5" cy="607.4" r="2.2"/><circle cx="158.1" cy="608.5" r="2.2"/><circle cx="157.9" cy="611.9" r="2.2"/><circle cx="146.9" cy="631.5" r="2.2"/><circle cx="142.3" cy="611.1" r="2.2"/><circle cx="151.2" cy="629.8" r="2.2"/><circle cx="158.8" cy="627.9" r="2.2"/><circle cx="161.3" cy="621.6" r="2.2"/><circle cx="161.4" cy="609.1" r="2.2"/><circle cx="144.2" cy="623.0" r="2.2"/><circle cx="145.8" cy="629.5" r="2.2"/><circle cx="154.1" cy="623.1" r="2.2"/><circle cx="158.9" cy="623.9" r="2.2"/><circle cx="146.4" cy="618.6" r="2.2"/><circle cx="158.9" cy="634.4" r="2.2"/><circle cx="143.9" cy="633.1" r="2.2"/><circle cx="161.9" cy="622.5" r="2.2"/><circle cx="152.5" cy="612.9" r="2.2"/><circle cx="151.6" cy="622.7" r="2.2"/><circle cx="153.3" cy="607.4" r="2.2"/><circle cx="161.9" cy="622.3" r="2.2"/><circle cx="148.5" cy="632.1" r="2.2"/><circle cx="152.3" cy="622.2" r="2.2"/><circle cx="155.3" cy="608.6" r="2.2"/><circle cx="151.7" cy="619.8" r="2.2"/><circle cx="161.6" cy="634.8" r="2.2"/><circle cx="145.4" cy="621.4" r="2.2"/><circle cx="142.0" cy="620.0" r="2.2"/><circle cx="158.3" cy="634.5" r="2.2"/><circle cx="150.2" cy="616.7" r="2.2"/><circle cx="143.5" cy="625.8" r="2.2"/><circle cx="160.8" cy="610.5" r="2.2"/><circle cx="157.4" cy="607.2" r="2.2"/><circle cx="143.6" cy="613.6" r="2.2"/><circle cx="155.2" cy="616.7" r="2.2"/><circle cx="147.4" cy="626.2" r="2.2"/><circle cx="141.5" cy="629.1" r="2.2"/><circle cx="141.9" cy="622.3" r="2.2"/><circle cx="144.9" cy="612.7" r="2.2"/><circle cx="151.5" cy="620.5" r="2.2"/><circle cx="147.9" cy="619.7" r="2.2"/><circle cx="151.5" cy="611.6" r="2.2"/><circle cx="143.8" cy="626.3" r="2.2"/><circle cx="154.1" cy="623.3" r="2.2"/><circle cx="159.1" cy="625.5" r="2.2"/><circle cx="159.2" cy="613.7" r="2.2"/><circle cx="156.5" cy="632.0" r="2.2"/><circle cx="160.3" cy="616.2" r="2.2"/><circle cx="146.4" cy="635.7" r="2.2"/><circle cx="144.1" cy="637.8" r="2.2"/><circle cx="159.9" cy="610.6" r="2.2"/><circle cx="144.6" cy="629.3" r="2.2"/><circle cx="145.1" cy="609.6" r="2.2"/><circle cx="158.6" cy="619.6" r="2.2"/><circle cx="157.6" cy="610.4" r="2.2"/><circle cx="148.5" cy="628.4" r="2.2"/><circle cx="139.4" cy="612.7" r="2.2"/><circle cx="155.1" cy="635.3" r="2.2"/><circle cx="161.9" cy="610.0" r="2.2"/><circle cx="150.9" cy="630.9" r="2.2"/><circle cx="150.9" cy="628.6" r="2.2"/><circle cx="143.5" cy="608.7" r="2.2"/><circle cx="141.5" cy="607.7" r="2.2"/><circle cx="152.0" cy="623.0" r="2.2"/><circle cx="152.4" cy="611.2" r="2.2"/><circle cx="143.4" cy="612.9" r="2.2"/><circle cx="158.8" cy="637.2" r="2.2"/><circle cx="160.9" cy="609.4" r="2.2"/><circle cx="140.5" cy="635.8" r="2.2"/><circle cx="149.9" cy="631.1" r="2.2"/><circle cx="146.7" cy="621.3" r="2.2"/><circle cx="151.2" cy="620.3" r="2.2"/><circle cx="153.2" cy="606.9" r="2.2"/><circle cx="155.5" cy="633.1" r="2.2"/><circle cx="143.3" cy="620.7" r="2.2"/><circle cx="156.4" cy="619.2" r="2.2"/><circle cx="143.6" cy="611.7" r="2.2"/><circle cx="151.1" cy="607.0" r="2.2"/><circle cx="160.1" cy="631.2" r="2.2"/><circle cx="155.6" cy="633.6" r="2.2"/><circle cx="153.9" cy="619.4" r="2.2"/><circle cx="153.2" cy="622.6" r="2.2"/><circle cx="162.2" cy="631.1" r="2.2"/><circle cx="145.1" cy="635.2" r="2.2"/><circle cx="156.6" cy="630.9" r="2.2"/><circle cx="158.2" cy="619.1" r="2.2"/><circle cx="160.2" cy="633.6" r="2.2"/><circle cx="155.4" cy="630.7" r="2.2"/><circle cx="157.1" cy="619.2" r="2.2"/><circle cx="156.1" cy="608.7" r="2.2"/><circle cx="147.1" cy="621.4" r="2.2"/><circle cx="139.3" cy="617.4" r="2.2"/><circle cx="154.1" cy="626.3" r="2.2"/><circle cx="144.5" cy="636.2" r="2.2"/><circle cx="154.7" cy="617.2" r="2.2"/><circle cx="154.6" cy="624.5" r="2.2"/><circle cx="151.6" cy="619.0" r="2.2"/><circle cx="162.6" cy="626.1" r="2.2"/><circle cx="155.5" cy="630.5" r="2.2"/><circle cx="162.1" cy="607.2" r="2.2"/><circle cx="153.5" cy="630.0" r="2.2"/><circle cx="145.1" cy="619.1" r="2.2"/><circle cx="140.2" cy="612.5" r="2.2"/><circle cx="147.9" cy="609.6" r="2.2"/><circle cx="144.9" cy="635.0" r="2.2"/><circle cx="152.0" cy="622.8" r="2.2"/><circle cx="161.8" cy="623.9" r="2.2"/><circle cx="162.5" cy="626.0" r="2.2"/><circle cx="158.1" cy="608.9" r="2.2"/><circle cx="153.1" cy="630.7" r="2.2"/><circle cx="140.1" cy="635.1" r="2.2"/><circle cx="142.8" cy="621.2" r="2.2"/><circle cx="143.0" cy="621.9" r="2.2"/><circle cx="153.4" cy="608.4" r="2.2"/><circle cx="161.3" cy="619.4" r="2.2"/><circle cx="151.4" cy="625.7" r="2.2"/><circle cx="147.6" cy="615.6" r="2.2"/><circle cx="154.5" cy="624.3" r="2.2"/><circle cx="145.7" cy="629.1" r="2.2"/><circle cx="146.0" cy="606.9" r="2.2"/><circle cx="144.8" cy="607.8" r="2.2"/><circle cx="142.7" cy="630.0" r="2.2"/><circle cx="148.2" cy="635.2" r="2.2"/><circle cx="156.7" cy="608.1" r="2.2"/><circle cx="162.3" cy="635.3" r="2.2"/><circle cx="140.7" cy="634.4" r="2.2"/><circle cx="149.1" cy="621.8" r="2.2"/><circle cx="162.0" cy="614.0" r="2.2"/><circle cx="151.4" cy="636.7" r="2.2"/><circle cx="156.1" cy="621.2" r="2.2"/><circle cx="162.1" cy="631.5" r="2.2"/><circle cx="153.2" cy="610.2" r="2.2"/><circle cx="153.7" cy="621.0" r="2.2"/><circle cx="143.8" cy="608.1" r="2.2"/><circle cx="151.5" cy="610.5" r="2.2"/><circle cx="149.5" cy="628.0" r="2.2"/><circle cx="149.8" cy="614.9" r="2.2"/><circle cx="152.7" cy="619.9" r="2.2"/><circle cx="157.4" cy="623.1" r="2.2"/><circle cx="162.5" cy="635.5" r="2.2"/><circle cx="156.3" cy="614.0" r="2.2"/><circle cx="141.7" cy="634.2" r="2.2"/><circle cx="157.5" cy="626.0" r="2.2"/><circle cx="147.5" cy="615.1" r="2.2"/><circle cx="155.2" cy="624.4" r="2.2"/><circle cx="153.0" cy="626.7" r="2.2"/><circle cx="156.8" cy="612.5" r="2.2"/><circle cx="144.9" cy="637.3" r="2.2"/><circle cx="160.6" cy="633.6" r="2.2"/><circle cx="139.9" cy="608.4" r="2.2"/><circle cx="145.4" cy="619.9" r="2.2"/><circle cx="153.7" cy="609.8" r="2.2"/><circle cx="151.8" cy="608.8" r="2.2"/><circle cx="141.0" cy="627.4" r="2.2"/><circle cx="152.0" cy="626.7" r="2.2"/><circle cx="147.8" cy="621.8" r="2.2"/><circle cx="144.0" cy="617.3" r="2.2"/><circle cx="156.6" cy="632.8" r="2.2"/><circle cx="140.8" cy="610.2" r="2.2"/><circle cx="158.1" cy="625.9" r="2.2"/><circle cx="157.1" cy="613.2" r="2.2"/><circle cx="149.0" cy="614.8" r="2.2"/><circle cx="158.1" cy="618.0" r="2.2"/><circle cx="154.4" cy="637.9" r="2.2"/><circle cx="146.7" cy="623.9" r="2.2"/><circle cx="156.6" cy="635.4" r="2.2"/><circle cx="149.1" cy="618.3" r="2.2"/><circle cx="141.3" cy="633.6" r="2.2"/><circle cx="140.9" cy="609.1" r="2.2"/><circle cx="152.3" cy="622.0" r="2.2"/><circle cx="155.2" cy="615.9" r="2.2"/><circle cx="157.3" cy="608.9" r="2.2"/><circle cx="144.0" cy="627.2" r="2.2"/><circle cx="140.9" cy="615.9" r="2.2"/><circle cx="156.1" cy="628.3" r="2.2"/><circle cx="145.7" cy="611.0" r="2.2"/><circle cx="147.4" cy="629.6" r="2.2"/><circle cx="147.6" cy="610.2" r="2.2"/><circle cx="155.7" cy="624.4" r="2.2"/><circle cx="160.7" cy="635.4" r="2.2"/><circle cx="160.6" cy="620.0" r="2.2"/><circle cx="158.0" cy="616.0" r="2.2"/><circle cx="146.5" cy="619.2" r="2.2"/><circle cx="161.1" cy="634.0" r="2.2"/><circle cx="144.9" cy="617.9" r="2.2"/><circle cx="147.6" cy="618.1" r="2.2"/><circle cx="148.3" cy="618.9" r="2.2"/><circle cx="143.6" cy="624.1" r="2.2"/><circle cx="157.8" cy="623.4" r="2.2"/><circle cx="158.7" cy="624.0" r="2.2"/><circle cx="143.2" cy="630.2" r="2.2"/><circle cx="159.8" cy="615.2" r="2.2"/><circle cx="139.5" cy="622.3" r="2.2"/><circle cx="151.8" cy="624.7" r="2.2"/><circle cx="161.8" cy="626.4" r="2.2"/><circle cx="158.0" cy="608.5" r="2.2"/><circle cx="151.9" cy="631.8" r="2.2"/><circle cx="141.0" cy="609.0" r="2.2"/><circle cx="156.4" cy="634.7" r="2.2"/><circle cx="141.0" cy="626.1" r="2.2"/><circle cx="142.4" cy="629.7" r="2.2"/><circle cx="154.3" cy="614.3" r="2.2"/><circle cx="144.2" cy="630.5" r="2.2"/><circle cx="151.3" cy="631.1" r="2.2"/><circle cx="148.3" cy="617.3" r="2.2"/><circle cx="161.9" cy="627.1" r="2.2"/><circle cx="150.7" cy="623.8" r="2.2"/><circle cx="156.0" cy="628.8" r="2.2"/><circle cx="160.6" cy="619.1" r="2.2"/><circle cx="158.5" cy="627.2" r="2.2"/><circle cx="159.1" cy="631.5" r="2.2"/><circle cx="158.7" cy="634.1" r="2.2"/><circle cx="161.6" cy="626.1" r="2.2"/><circle cx="151.4" cy="629.3" r="2.2"/><circle cx="157.9" cy="619.6" r="2.2"/><circle cx="148.9" cy="611.2" r="2.2"/><circle cx="156.5" cy="637.6" r="2.2"/><circle cx="147.9" cy="611.8" r="2.2"/><circle cx="143.8" cy="619.8" r="2.2"/><circle cx="145.9" cy="637.2" r="2.2"/><circle cx="140.4" cy="616.0" r="2.2"/><circle cx="141.7" cy="626.6" r="2.2"/><circle cx="157.3" cy="612.1" r="2.2"/><circle cx="140.5" cy="620.6" r="2.2"/><circle cx="152.8" cy="635.6" r="2.2"/><circle cx="139.9" cy="609.8" r="2.2"/><circle cx="143.4" cy="613.3" r="2.2"/><circle cx="144.6" cy="629.0" r="2.2"/><circle cx="153.0" cy="613.6" r="2.2"/><circle cx="143.4" cy="615.3" r="2.2"/><circle cx="143.1" cy="630.1" r="2.2"/><circle cx="146.4" cy="623.9" r="2.2"/><circle cx="158.3" cy="621.4" r="2.2"/><circle cx="145.1" cy="634.5" r="2.2"/><circle cx="160.6" cy="617.0" r="2.2"/><circle cx="151.9" cy="637.2" r="2.2"/><circle cx="150.4" cy="613.6" r="2.2"/><circle cx="140.2" cy="635.6" r="2.2"/><circle cx="157.9" cy="618.5" r="2.2"/><circle cx="151.5" cy="623.1" r="2.2"/><circle cx="145.5" cy="637.7" r="2.2"/><circle cx="154.5" cy="614.0" r="2.2"/><circle cx="139.3" cy="621.0" r="2.2"/><circle cx="147.8" cy="631.9" r="2.2"/><circle cx="155.8" cy="625.6" r="2.2"/><circle cx="142.7" cy="611.4" r="2.2"/><circle cx="146.6" cy="614.7" r="2.2"/><circle cx="159.5" cy="622.5" r="2.2"/><circle cx="154.0" cy="638.1" r="2.2"/><circle cx="145.3" cy="623.3" r="2.2"/><circle cx="142.6" cy="630.5" r="2.2"/><circle cx="139.0" cy="631.6" r="2.2"/><circle cx="159.0" cy="632.0" r="2.2"/><circle cx="140.9" cy="614.8" r="2.2"/><circle cx="155.9" cy="609.6" r="2.2"/><circle cx="150.3" cy="621.6" r="2.2"/><circle cx="161.5" cy="624.5" r="2.2"/><circle cx="159.2" cy="615.9" r="2.2"/><circle cx="157.6" cy="619.5" r="2.2"/><circle cx="160.6" cy="609.3" r="2.2"/><circle cx="158.5" cy="613.0" r="2.2"/><circle cx="151.8" cy="623.4" r="2.2"/><circle cx="142.7" cy="632.4" r="2.2"/></g>
<g fill="#228b22"><circle cx="114.0" cy="621.7" r="2.2"/><circle cx="134.7" cy="617.0" r="2.2"/><circle cx="125.8" cy="618.1" r="2.2"/><circle cx="114.8" cy="624.9" r="2.2"/><circle cx="119.6" cy="619.7" r="2.2"/><circle cx="130.8" cy="620.4" r="2.2"/><circle cx="133.6" cy="620.9" r="2.2"/><circle cx="128.4" cy="618.8" r="2.2"/><circle cx="120.6" cy="615.8" r="2.2"/><circle cx="127.3" cy="615.1" r="2.2"/><circle cx="130.1" cy="622.6" r="2.2"/><circle cx="127.5" cy="625.3" r="2.2"/><circle cx="127.4" cy="627.0" r="2.2"/><circle cx="137.7" cy="619.5" r="2.2"/><circle cx="128.5" cy="619.0" r="2.2"/><circle cx="121.7" cy="618.9" r="2.2"/><circle cx="120.1" cy="618.6" r="2.2"/><circle cx="132.9" cy="623.8" r="2.2"/><circle cx="134.1" cy="619.2" r="2.2"/><circle cx="128.4" cy="617.0" r="2.2"/><circle cx="119.0" cy="614.6" r="2.2"/><circle cx="136.3" cy="617.8" r="2.2"/><circle cx="128.3" cy="627.3" r="2.2"/><circle cx="112.4" cy="617.1" r="2.2"/><circle cx="123.5" cy="616.2" r="2.2"/><circle cx="130.9" cy="613.5" r="2.2"/><circle cx="128.3" cy="625.8" r="2.2"/><circle cx="112.2" cy="625.7" r="2.2"/><circle cx="110.4" cy="620.3" r="2.2"/><circle cx="136.4" cy="626.9" r="2.2"/><circle cx="126.4" cy="615.0" r="2.2"/><circle cx="133.1" cy="614.4" r="2.2"/><circle cx="125.9" cy="614.6" r="2.2"/><circle cx="138.4" cy="622.2" r="2.2"/><circle cx="135.7" cy="628.3" r="2.2"/><circle cx="131.7" cy="623.3" r="2.2"/><circle cx="123.5" cy="625.4" r="2.2"/><circle cx="129.1" cy="615.5" r="2.2"/><circle cx="125.2" cy="619.6" r="2.2"/><circle cx="124.7" cy="624.4" r="2.2"/><circle cx="129.7" cy="622.1" r="2.2"/><circle cx="132.6" cy="626.2" r="2.2"/><circle cx="122.6" cy="620.4" r="2.2"/><circle cx="126.1" cy="617.5" r="2.2"/><circle cx="132.3" cy="618.3" r="2.2"/><circle cx="134.2" cy="625.9" r="2.2"/><circle cx="135.3" cy="614.1" r="2.2"/><circle cx="117.6" cy="625.3" r="2.2"/><circle cx="129.1" cy="619.6" r="2.2"/><circle cx="124.9" cy="616.3" r="2.2"/><circle cx="123.2" cy="617.1" r="2.2"/><circle cx="129.3" cy="614.7" r="2.2"/><circle cx="113.9" cy="616.2" r="2.2"/><circle cx="126.6" cy="613.0" r="2.2"/><circle cx="138.2" cy="626.4" r="2.2"/><circle cx="120.9" cy="615.5" r="2.2"/><circle cx="137.9" cy="615.8" r="2.2"/><circle cx="131.6" cy="626.1" r="2.2"/><circle cx="136.8" cy="616.3" r="2.2"/><circle cx="135.7" cy="627.6" r="2.2"/><circle cx="123.6" cy="615.0" r="2.2"/><circle cx="120.1" cy="616.9" r="2.2"/><circle cx="130.6" cy="625.4" r="2.2"/><circle cx="122.5" cy="620.3" r="2.2"/><circle cx="123.4" cy="618.9" r="2.2"/><circle cx="123.0" cy="624.0" r="2.2"/><circle cx="130.3" cy="618.2" r="2.2"/><circle cx="126.2" cy="615.3" r="2.2"/><circle cx="136.9" cy="626.4" r="2.2"/><circle cx="118.9" cy="615.2" r="2.2"/><circle cx="134.0" cy="619.1" r="2.2"/><circle cx="131.9" cy="616.7" r="2.2"/><circle cx="130.7" cy="625.7" r="2.2"/><circle cx="132.0" cy="624.8" r="2.2"/><circle cx="123.5" cy="625.7" r="2.2"/><circle cx="117.5" cy="626.0" r="2.2"/><circle cx="127.2" cy="628.3" r="2.2"/><circle cx="136.8" cy="615.7" r="2.2"/><circle cx="138.4" cy="616.2" r="2.2"/><circle cx="133.0" cy="614.9" r="2.2"/><circle cx="118.7" cy="620.1" r="2.2"/><circle cx="129.5" cy="616.3" r="2.2"/><circle cx="135.7" cy="626.8" r="2.2"/><circle cx="124.6" cy="613.8" r="2.2"/><circle cx="137.0" cy="622.5" r="2.2"/><circle cx="133.4" cy="614.1" r="2.2"/><circle cx="126.2" cy="617.7" r="2.2"/><circle cx="124.1" cy="619.0" r="2.2"/><circle cx="123.7" cy="613.3" r="2.2"/><circle cx="135.1" cy="618.8" r="2.2"/><circle cx="122.7" cy="621.4" r="2.2"/><circle cx="110.7" cy="614.6" r="2.2"/><circle cx="125.9" cy="620.9" r="2.2"/><circle cx="119.8" cy="625.0" r="2.2"/><circle cx="132.7" cy="626.4" r="2.2"/><circle cx="173.0" cy="620.3" r="2.2"/><circle cx="175.4" cy="620.1" r="2.2"/><circle cx="178.9" cy="622.4" r="2.2"/><circle cx="175.8" cy="629.7" r="2.2"/><circle cx="164.5" cy="618.9" r="2.2"/><circle cx="171.2" cy="630.7" r="2.2"/><circle cx="166.9" cy="621.1" r="2.2"/><circle cx="166.5" cy="625.8" r="2.2"/><circle cx="173.5" cy="625.4" r="2.2"/><circle cx="169.8" cy="629.1" r="2.2"/><circle cx="163.6" cy="612.6" r="2.2"/><circle cx="178.5" cy="629.0" r="2.2"/><circle cx="169.1" cy="609.0" r="2.2"/><circle cx="182.7" cy="620.2" r="2.2"/><circle cx="164.2" cy="619.0" r="2.2"/><circle cx="170.4" cy="609.6" r="2.2"/><circle cx="172.6" cy="613.8" r="2.2"/><circle cx="177.3" cy="609.7" r="2.2"/><circle cx="170.3" cy="617.3" r="2.2"/><circle cx="173.2" cy="617.9" r="2.2"/><circle cx="175.7" cy="630.5" r="2.2"/><circle cx="182.6" cy="629.7" r="2.2"/><circle cx="168.2" cy="613.1" r="2.2"/><circle cx="172.9" cy="623.1" r="2.2"/><circle cx="175.9" cy="615.7" r="2.2"/><circle cx="183.8" cy="614.8" r="2.2"/><circle cx="163.9" cy="609.3" r="2.2"/><circle cx="167.8" cy="625.3" r="2.2"/><circle cx="180.7" cy="608.0" r="2.2"/><circle cx="168.4" cy="613.1" r="2.2"/><circle cx="165.6" cy="631.2" r="2.2"/><circle cx="169.1" cy="620.1" r="2.2"/><circle cx="177.1" cy="615.1" r="2.2"/><circle cx="176.6" cy="610.7" r="2.2"/><circle cx="183.4" cy="612.3" r="2.2"/><circle cx="168.1" cy="631.0" r="2.2"/><circle cx="183.0" cy="630.1" r="2.2"/><circle cx="165.0" cy="625.3" r="2.2"/><circle cx="164.8" cy="625.3" r="2.2"/><circle cx="173.5" cy="629.3" r="2.2"/><circle cx="183.8" cy="618.2" r="2.2"/><circle cx="177.3" cy="623.6" r="2.2"/><circle cx="177.7" cy="616.2" r="2.2"/><circle cx="176.6" cy="608.7" r="2.2"/><circle cx="182.0" cy="625.1" r="2.2"/><circle cx="173.0" cy="612.1" r="2.2"/><circle cx="172.7" cy="624.0" r="2.2"/><circle cx="174.7" cy="609.7" r="2.2"/><circle cx="163.6" cy="616.9" r="2.2"/><circle cx="168.5" cy="612.7" r="2.2"/><circle cx="168.0" cy="617.4" r="2.2"/><circle cx="163.9" cy="628.7" r="2.2"/><circle cx="176.0" cy="625.3" r="2.2"/><circle cx="176.1" cy="615.9" r="2.2"/><circle cx="170.5" cy="608.8" r="2.2"/><circle cx="177.1" cy="608.4" r="2.2"/><circle cx="175.9" cy="627.2" r="2.2"/><circle cx="183.2" cy="627.3" r="2.2"/><circle cx="172.9" cy="607.4" r="2.2"/><circle cx="176.1" cy="623.0" r="2.2"/><circle cx="181.2" cy="622.3" r="2.2"/><circle cx="170.9" cy="607.1" r="2.2"/><circle cx="180.5" cy="622.6" r="2.2"/><circle cx="183.7" cy="621.8" r="2.2"/><circle cx="181.0" cy="626.3" r="2.2"/><circle cx="173.0" cy="629.4" r="2.2"/><circle cx="171.6" cy="607.3" r="2.2"/><circle cx="170.2" cy="615.8" r="2.2"/><circle cx="183.8" cy="616.9" r="2.2"/><circle cx="169.1" cy="624.3" r="2.2"/><circle cx="165.5" cy="614.6" r="2.2"/><circle cx="171.6" cy="610.1" r="2.2"/><circle cx="175.8" cy="617.6" r="2.2"/><circle cx="179.9" cy="615.5" r="2.2"/><circle cx="183.5" cy="611.9" r="2.2"/><circle cx="174.4" cy="612.7" r="2.2"/><circle cx="163.8" cy="614.5" r="2.2"/><circle cx="181.9" cy="614.3" r="2.2"/><circle cx="173.5" cy="620.1" r="2.2"/><circle cx="169.0" cy="620.4" r="2.2"/><circle cx="164.8" cy="615.7" r="2.2"/><circle cx="169.3" cy="627.4" r="2.2"/><circle cx="166.2" cy="625.7" r="2.2"/><circle cx="180.7" cy="631.7" r="2.2"/><circle cx="166.7" cy="621.2" r="2.2"/><circle cx="176.3" cy="622.1" r="2.2"/><circle cx="166.3" cy="631.2" r="2.2"/><circle cx="174.0" cy="613.7" r="2.2"/><circle cx="183.6" cy="616.6" r="2.2"/><circle cx="164.9" cy="623.7" r="2.2"/><circle cx="168.8" cy="612.5" r="2.2"/><circle cx="169.7" cy="622.2" r="2.2"/><circle cx="170.1" cy="623.6" r="2.2"/><circle cx="182.1" cy="631.8" r="2.2"/><circle cx="182.4" cy="613.3" r="2.2"/><circle cx="180.4" cy="609.2" r="2.2"/><circle cx="175.4" cy="608.9" r="2.2"/><circle cx="165.5" cy="630.7" r="2.2"/><circle cx="166.1" cy="624.9" r="2.2"/><circle cx="174.3" cy="607.0" r="2.2"/><circle cx="179.8" cy="608.5" r="2.2"/><circle cx="172.6" cy="607.7" r="2.2"/><circle cx="177.8" cy="608.0" r="2.2"/><circle cx="174.3" cy="630.1" r="2.2"/><circle cx="177.4" cy="609.9" r="2.2"/><circle cx="179.3" cy="621.5" r="2.2"/><circle cx="172.0" cy="620.1" r="2.2"/><circle cx="169.2" cy="614.2" r="2.2"/><circle cx="181.7" cy="615.7" r="2.2"/><circle cx="179.3" cy="616.2" r="2.2"/><circle cx="167.4" cy="607.0" r="2.2"/><circle cx="183.3" cy="625.8" r="2.2"/><circle cx="175.6" cy="608.6" r="2.2"/><circle cx="166.8" cy="608.2" r="2.2"/><circle cx="176.1" cy="622.6" r="2.2"/><circle cx="183.1" cy="614.4" r="2.2"/><circle cx="168.3" cy="612.5" r="2.2"/><circle cx="166.5" cy="607.7" r="2.2"/><circle cx="173.6" cy="617.5" r="2.2"/><circle cx="171.0" cy="630.8" r="2.2"/><circle cx="169.9" cy="627.7" r="2.2"/><circle cx="174.4" cy="609.6" r="2.2"/><circle cx="164.1" cy="622.2" r="2.2"/><circle cx="181.4" cy="608.3" r="2.2"/><circle cx="177.9" cy="612.8" r="2.2"/><circle cx="177.6" cy="627.8" r="2.2"/><circle cx="168.5" cy="610.9" r="2.2"/><circle cx="183.3" cy="629.9" r="2.2"/><circle cx="174.6" cy="608.3" r="2.2"/><circle cx="171.1" cy="629.8" r="2.2"/><circle cx="164.9" cy="614.4" r="2.2"/><circle cx="164.4" cy="629.0" r="2.2"/><circle cx="170.7" cy="609.1" r="2.2"/><circle cx="170.8" cy="612.1" r="2.2"/><circle cx="172.4" cy="622.4" r="2.2"/><circle cx="177.0" cy="609.4" r="2.2"/><circle cx="174.5" cy="608.4" r="2.2"/><circle cx="172.6" cy="627.2" r="2.2"/><circle cx="168.9" cy="627.6" r="2.2"/><circle cx="168.5" cy="616.8" r="2.2"/><circle cx="179.7" cy="607.1" r="2.2"/><circle cx="174.9" cy="620.4" r="2.2"/><circle cx="168.1" cy="612.0" r="2.2"/><circle cx="173.4" cy="614.0" r="2.2"/><circle cx="174.8" cy="609.2" r="2.2"/><circle cx="177.7" cy="617.4" r="2.2"/><circle cx="164.5" cy="610.0" r="2.2"/><circle cx="182.7" cy="628.2" r="2.2"/><circle cx="171.5" cy="631.6" r="2.2"/><circle cx="167.0" cy="625.2" r="2.2"/><circle cx="182.8" cy="612.2" r="2.2"/><circle cx="163.6" cy="610.2" r="2.2"/><circle cx="165.2" cy="627.1" r="2.2"/><circle cx="175.9" cy="618.9" r="2.2"/><circle cx="165.8" cy="623.1" r="2.2"/><circle cx="166.3" cy="610.3" r="2.2"/><circle cx="175.7" cy="623.1" r="2.2"/><circle cx="169.7" cy="610.6" r="2.2"/><circle cx="173.6" cy="607.7" r="2.2"/><circle cx="181.3" cy="624.0" r="2.2"/><circle cx="173.5" cy="629.8" r="2.2"/><circle cx="180.6" cy="627.7" r="2.2"/><circle cx="167.9" cy="615.6" r="2.2"/><circle cx="164.7" cy="626.1" r="2.2"/><circle cx="173.2" cy="631.7" r="2.2"/><circle cx="169.4" cy="617.8" r="2.2"/><circle cx="181.3" cy="631.2" r="2.2"/><circle cx="176.1" cy="608.6" r="2.2"/><circle cx="166.5" cy="621.2" r="2.2"/><circle cx="164.8" cy="618.5" r="2.2"/><circle cx="165.1" cy="617.4" r="2.2"/><circle cx="180.3" cy="625.5" r="2.2"/><circle cx="172.9" cy="618.0" r="2.2"/><circle cx="164.6" cy="626.7" r="2.2"/><circle cx="175.2" cy="617.2" r="2.2"/><circle cx="166.5" cy="618.5" r="2.2"/><circle cx="164.8" cy="610.0" r="2.2"/><circle cx="165.1" cy="617.6" r="2.2"/><circle cx="166.3" cy="627.7" r="2.2"/><circle cx="166.8" cy="613.9" r="2.2"/><circle cx="180.7" cy="621.6" r="2.2"/><circle cx="176.7" cy="622.8" r="2.2"/><circle cx="164.5" cy="612.0" r="2.2"/><circle cx="172.3" cy="628.1" r="2.2"/><circle cx="182.8" cy="621.8" r="2.2"/><circle cx="168.8" cy="608.2" r="2.2"/><circle cx="175.0" cy="617.2" r="2.2"/><circle cx="182.6" cy="612.2" r="2.2"/><circle cx="167.7" cy="607.4" r="2.2"/><circle cx="164.1" cy="627.2" r="2.2"/><circle cx="181.4" cy="610.8" r="2.2"/><circle cx="163.8" cy="621.4" r="2.2"/><circle cx="168.6" cy="622.4" r="2.2"/><circle cx="175.9" cy="614.2" r="2.2"/><circle cx="179.1" cy="613.5" r="2.2"/><circle cx="181.3" cy="624.0" r="2.2"/><circle cx="181.8" cy="615.6" r="2.2"/><circle cx="183.1" cy="621.6" r="2.2"/><circle cx="168.8" cy="623.2" r="2.2"/><circle cx="169.9" cy="609.8" r="2.2"/><circle cx="164.3" cy="622.3" r="2.2"/><circle cx="168.5" cy="609.5" r="2.2"/><circle cx="179.4" cy="610.5" r="2.2"/><circle cx="179.0" cy="613.8" r="2.2"/><circle cx="170.9" cy="630.3" r="2.2"/><circle cx="180.5" cy="627.9" r="2.2"/><circle cx="175.9" cy="630.4" r="2.2"/><circle cx="176.3" cy="621.6" r="2.2"/><circle cx="170.1" cy="616.5" r="2.2"/><circle cx="83.0" cy="615.5" r="2.2"/><circle cx="79.7" cy="630.4" r="2.2"/><circle cx="91.5" cy="614.9" r="2.2"/><circle cx="99.4" cy="618.2" r="2.2"/><circle cx="100.7" cy="624.1" r="2.2"/><circle cx="106.0" cy="622.8" r="2.2"/><circle cx="112.6" cy="609.0" r="2.2"/><circle cx="104.0" cy="620.0" r="2.2"/><circle cx="96.0" cy="626.0" r="2.2"/><circle cx="108.0" cy="626.0" r="2.2"/><circle cx="103.0" cy="628.0" r="2.2"/><circle cx="88.0" cy="620.0" r="2.2"/><circle cx="110.0" cy="631.0" r="2.2"/><circle cx="118.0" cy="632.0" r="2.2"/><circle cx="124.0" cy="631.0" r="2.2"/><circle cx="130.0" cy="632.0" r="2.2"/><circle cx="120.0" cy="609.0" r="2.2"/><circle cx="127.0" cy="610.0" r="2.2"/><circle cx="132.0" cy="608.5" r="2.2"/><circle cx="190.1" cy="607.1" r="2.2"/><circle cx="194.9" cy="611.9" r="2.2"/><circle cx="202.6" cy="611.9" r="2.2"/><circle cx="208.3" cy="607.7" r="2.2"/><circle cx="204.5" cy="617.6" r="2.2"/><circle cx="199.7" cy="620.5" r="2.2"/><circle cx="260.7" cy="606.2" r="2.2"/><circle cx="188.0" cy="614.0" r="2.2"/><circle cx="191.0" cy="621.0" r="2.2"/><circle cx="188.0" cy="626.0" r="2.2"/><circle cx="195.0" cy="616.0" r="2.2"/><circle cx="212.0" cy="612.0" r="2.2"/><circle cx="215.0" cy="608.5" r="2.2"/><circle cx="170.0" cy="634.0" r="2.2"/><circle cx="166.0" cy="635.0" r="2.2"/><circle cx="189.0" cy="608.0" r="2.2"/><circle cx="196.0" cy="607.5" r="2.2"/></g>
<g fill="#4169e1"><circle cx="142.0" cy="540.9" r="2.2"/><circle cx="139.6" cy="540.4" r="2.2"/><circle cx="143.7" cy="578.5" r="2.2"/><circle cx="142.5" cy="575.9" r="2.2"/><circle cx="139.9" cy="548.7" r="2.2"/><circle cx="143.6" cy="601.9" r="2.2"/><circle cx="147.4" cy="572.8" r="2.2"/><circle cx="138.9" cy="547.1" r="2.2"/><circle cx="146.2" cy="534.1" r="2.2"/><circle cx="144.7" cy="554.6" r="2.2"/><circle cx="138.9" cy="604.2" r="2.2"/><circle cx="145.2" cy="539.0" r="2.2"/><circle cx="142.7" cy="562.2" r="2.2"/><circle cx="141.9" cy="543.4" r="2.2"/><circle cx="142.9" cy="574.0" r="2.2"/><circle cx="141.5" cy="530.6" r="2.2"/><circle cx="146.4" cy="542.6" r="2.2"/><circle cx="148.6" cy="564.3" r="2.2"/><circle cx="146.3" cy="542.8" r="2.2"/><circle cx="140.3" cy="520.8" r="2.2"/><circle cx="145.8" cy="577.9" r="2.2"/><circle cx="140.7" cy="549.4" r="2.2"/><circle cx="147.5" cy="567.1" r="2.2"/><circle cx="139.7" cy="533.1" r="2.2"/><circle cx="140.4" cy="523.5" r="2.2"/><circle cx="143.0" cy="518.8" r="2.2"/><circle cx="148.4" cy="551.7" r="2.2"/><circle cx="144.1" cy="572.2" r="2.2"/><circle cx="146.8" cy="588.4" r="2.2"/><circle cx="142.8" cy="542.8" r="2.2"/><circle cx="143.1" cy="513.4" r="2.2"/><circle cx="143.0" cy="577.1" r="2.2"/><circle cx="149.0" cy="585.4" r="2.2"/><circle cx="145.7" cy="568.6" r="2.2"/><circle cx="139.0" cy="542.8" r="2.2"/><circle cx="142.4" cy="572.5" r="2.2"/><circle cx="139.9" cy="547.1" r="2.2"/><circle cx="144.1" cy="585.3" r="2.2"/><circle cx="147.4" cy="568.9" r="2.2"/><circle cx="140.4" cy="583.3" r="2.2"/><circle cx="148.2" cy="563.0" r="2.2"/><circle cx="142.5" cy="558.5" r="2.2"/><circle cx="140.3" cy="578.3" r="2.2"/><circle cx="149.1" cy="560.0" r="2.2"/><circle cx="146.2" cy="589.7" r="2.2"/><circle cx="140.9" cy="599.9" r="2.2"/><circle cx="145.3" cy="530.4" r="2.2"/><circle cx="139.7" cy="534.7" r="2.2"/><circle cx="144.8" cy="576.8" r="2.2"/><circle cx="142.2" cy="598.4" r="2.2"/><circle cx="142.6" cy="555.1" r="2.2"/><circle cx="140.1" cy="602.5" r="2.2"/><circle cx="140.2" cy="596.1" r="2.2"/><circle cx="144.5" cy="564.1" r="2.2"/><circle cx="144.6" cy="536.6" r="2.2"/><circle cx="148.3" cy="604.3" r="2.2"/><circle cx="147.3" cy="567.9" r="2.2"/><circle cx="140.1" cy="588.7" r="2.2"/><circle cx="141.8" cy="595.4" r="2.2"/><circle cx="141.3" cy="565.3" r="2.2"/><circle cx="144.5" cy="519.1" r="2.2"/><circle cx="139.1" cy="528.7" r="2.2"/><circle cx="149.1" cy="599.4" r="2.2"/><circle cx="145.6" cy="540.6" r="2.2"/><circle cx="145.8" cy="580.6" r="2.2"/><circle cx="142.8" cy="567.0" r="2.2"/><circle cx="140.9" cy="555.5" r="2.2"/><circle cx="140.3" cy="547.9" r="2.2"/><circle cx="144.7" cy="528.2" r="2.2"/><circle cx="144.2" cy="536.5" r="2.2"/><circle cx="144.7" cy="542.9" r="2.2"/><circle cx="145.5" cy="515.5" r="2.2"/><circle cx="145.8" cy="525.5" r="2.2"/><circle cx="148.8" cy="567.8" r="2.2"/><circle cx="143.7" cy="550.3" r="2.2"/><circle cx="145.3" cy="576.1" r="2.2"/><circle cx="146.7" cy="581.9" r="2.2"/><circle cx="143.9" cy="604.5" r="2.2"/><circle cx="147.5" cy="591.5" r="2.2"/><circle cx="143.1" cy="552.4" r="2.2"/><circle cx="144.7" cy="596.2" r="2.2"/><circle cx="144.3" cy="560.8" r="2.2"/><circle cx="143.3" cy="596.1" r="2.2"/><circle cx="142.1" cy="517.1" r="2.2"/><circle cx="146.3" cy="595.7" r="2.2"/><circle cx="146.4" cy="567.6" r="2.2"/><circle cx="146.6" cy="540.3" r="2.2"/><circle cx="145.0" cy="518.5" r="2.2"/><circle cx="140.1" cy="553.6" r="2.2"/><circle cx="144.0" cy="548.9" r="2.2"/><circle cx="139.3" cy="576.6" r="2.2"/><circle cx="144.3" cy="534.2" r="2.2"/><circle cx="142.0" cy="548.8" r="2.2"/><circle cx="141.3" cy="518.4" r="2.2"/><circle cx="148.3" cy="601.9" r="2.2"/><circle cx="145.7" cy="592.6" r="2.2"/><circle cx="143.2" cy="586.9" r="2.2"/><circle cx="141.1" cy="581.4" r="2.2"/><circle cx="144.7" cy="596.0" r="2.2"/><circle cx="139.8" cy="585.7" r="2.2"/><circle cx="140.1" cy="562.0" r="2.2"/><circle cx="141.3" cy="539.8" r="2.2"/><circle cx="142.2" cy="517.8" r="2.2"/><circle cx="148.1" cy="587.8" r="2.2"/><circle cx="142.9" cy="545.2" r="2.2"/><circle cx="144.9" cy="516.3" r="2.2"/><circle cx="139.1" cy="595.6" r="2.2"/><circle cx="142.0" cy="558.4" r="2.2"/><circle cx="148.5" cy="602.9" r="2.2"/><circle cx="143.7" cy="531.2" r="2.2"/><circle cx="141.9" cy="597.8" r="2.2"/><circle cx="143.7" cy="528.0" r="2.2"/><circle cx="147.9" cy="604.6" r="2.2"/><circle cx="140.9" cy="570.8" r="2.2"/><circle cx="140.8" cy="593.9" r="2.2"/><circle cx="139.3" cy="521.9" r="2.2"/><circle cx="146.3" cy="541.1" r="2.2"/><circle cx="148.2" cy="592.9" r="2.2"/><circle cx="146.2" cy="524.5" r="2.2"/><circle cx="146.0" cy="599.2" r="2.2"/><circle cx="143.4" cy="519.3" r="2.2"/><circle cx="141.1" cy="540.6" r="2.2"/><circle cx="146.2" cy="530.3" r="2.2"/><circle cx="140.7" cy="533.9" r="2.2"/><circle cx="145.7" cy="585.5" r="2.2"/><circle cx="142.7" cy="573.6" r="2.2"/><circle cx="148.0" cy="566.9" r="2.2"/><circle cx="141.2" cy="540.0" r="2.2"/><circle cx="148.4" cy="574.0" r="2.2"/><circle cx="141.7" cy="571.5" r="2.2"/><circle cx="139.7" cy="603.4" r="2.2"/><circle cx="143.4" cy="561.1" r="2.2"/><circle cx="144.3" cy="516.2" r="2.2"/><circle cx="145.0" cy="538.5" r="2.2"/><circle cx="141.4" cy="586.7" r="2.2"/><circle cx="139.7" cy="538.5" r="2.2"/><circle cx="146.7" cy="534.9" r="2.2"/><circle cx="141.7" cy="563.0" r="2.2"/><circle cx="140.7" cy="595.4" r="2.2"/><circle cx="143.6" cy="581.8" r="2.2"/><circle cx="142.8" cy="598.4" r="2.2"/><circle cx="144.0" cy="528.7" r="2.2"/><circle cx="144.6" cy="572.0" r="2.2"/><circle cx="142.5" cy="573.2" r="2.2"/><circle cx="146.9" cy="560.1" r="2.2"/><circle cx="144.1" cy="590.6" r="2.2"/><circle cx="145.9" cy="560.4" r="2.2"/><circle cx="145.1" cy="533.9" r="2.2"/><circle cx="143.4" cy="583.9" r="2.2"/><circle cx="147.0" cy="585.6" r="2.2"/><circle cx="141.3" cy="557.5" r="2.2"/><circle cx="141.1" cy="565.9" r="2.2"/><circle cx="144.0" cy="515.3" r="2.2"/><circle cx="145.0" cy="578.5" r="2.2"/><circle cx="144.8" cy="593.2" r="2.2"/><circle cx="140.7" cy="526.1" r="2.2"/><circle cx="139.0" cy="558.1" r="2.2"/><circle cx="143.3" cy="553.1" r="2.2"/><circle cx="141.5" cy="586.3" r="2.2"/><circle cx="139.6" cy="596.4" r="2.2"/><circle cx="144.7" cy="562.5" r="2.2"/><circle cx="140.3" cy="540.9" r="2.2"/><circle cx="139.2" cy="541.2" r="2.2"/><circle cx="145.3" cy="560.9" r="2.2"/><circle cx="141.6" cy="566.7" r="2.2"/><circle cx="139.7" cy="588.3" r="2.2"/><circle cx="140.6" cy="535.7" r="2.2"/><circle cx="140.5" cy="576.2" r="2.2"/><circle cx="147.4" cy="585.2" r="2.2"/><circle cx="139.4" cy="550.2" r="2.2"/><circle cx="142.6" cy="532.1" r="2.2"/><circle cx="143.9" cy="582.8" r="2.2"/><circle cx="143.5" cy="581.3" r="2.2"/><circle cx="139.2" cy="534.4" r="2.2"/><circle cx="142.9" cy="539.7" r="2.2"/><circle cx="143.2" cy="519.1" r="2.2"/><circle cx="139.2" cy="604.6" r="2.2"/><circle cx="146.7" cy="580.3" r="2.2"/><circle cx="141.2" cy="535.5" r="2.2"/><circle cx="144.5" cy="534.5" r="2.2"/><circle cx="143.6" cy="598.7" r="2.2"/><circle cx="142.6" cy="543.3" r="2.2"/><circle cx="149.0" cy="568.8" r="2.2"/><circle cx="139.2" cy="549.5" r="2.2"/><circle cx="145.6" cy="517.4" r="2.2"/><circle cx="142.4" cy="576.6" r="2.2"/><circle cx="147.8" cy="566.9" r="2.2"/><circle cx="148.0" cy="555.0" r="2.2"/><circle cx="142.9" cy="590.4" r="2.2"/><circle cx="142.8" cy="584.7" r="2.2"/><circle cx="141.0" cy="544.3" r="2.2"/><circle cx="140.7" cy="563.1" r="2.2"/><circle cx="140.5" cy="530.9" r="2.2"/><circle cx="141.0" cy="555.5" r="2.2"/><circle cx="142.0" cy="553.6" r="2.2"/><circle cx="149.1" cy="575.2" r="2.2"/><circle cx="142.8" cy="518.8" r="2.2"/><circle cx="146.0" cy="545.7" r="2.2"/><circle cx="141.7" cy="513.7" r="2.2"/><circle cx="140.7" cy="536.4" r="2.2"/><circle cx="142.9" cy="597.9" r="2.2"/><circle cx="146.2" cy="537.0" r="2.2"/><circle cx="142.6" cy="526.3" r="2.2"/><circle cx="148.5" cy="545.5" r="2.2"/><circle cx="146.8" cy="579.3" r="2.2"/><circle cx="142.1" cy="547.8" r="2.2"/><circle cx="139.7" cy="594.1" r="2.2"/><circle cx="142.2" cy="583.7" r="2.2"/><circle cx="144.2" cy="517.1" r="2.2"/><circle cx="142.9" cy="534.2" r="2.2"/><circle cx="139.2" cy="526.0" r="2.2"/><circle cx="145.0" cy="515.0" r="2.2"/><circle cx="142.0" cy="551.4" r="2.2"/><circle cx="144.5" cy="524.6" r="2.2"/><circle cx="146.1" cy="536.2" r="2.2"/><circle cx="146.3" cy="574.0" r="2.2"/><circle cx="140.3" cy="531.0" r="2.2"/><circle cx="141.7" cy="578.3" r="2.2"/><circle cx="143.0" cy="547.9" r="2.2"/><circle cx="141.8" cy="544.1" r="2.2"/><circle cx="141.0" cy="515.8" r="2.2"/><circle cx="139.1" cy="570.6" r="2.2"/><circle cx="144.7" cy="587.2" r="2.2"/><circle cx="145.8" cy="597.5" r="2.2"/><circle cx="141.0" cy="576.1" r="2.2"/><circle cx="145.7" cy="600.8" r="2.2"/><circle cx="145.4" cy="520.4" r="2.2"/><circle cx="143.2" cy="548.5" r="2.2"/><circle cx="139.4" cy="547.7" r="2.2"/><circle cx="142.2" cy="558.2" r="2.2"/><circle cx="141.7" cy="526.7" r="2.2"/><circle cx="143.0" cy="556.2" r="2.2"/><circle cx="140.5" cy="573.9" r="2.2"/><circle cx="141.3" cy="520.7" r="2.2"/><circle cx="142.4" cy="551.3" r="2.2"/><circle cx="140.4" cy="566.2" r="2.2"/><circle cx="146.1" cy="563.4" r="2.2"/><circle cx="146.1" cy="514.1" r="2.2"/><circle cx="142.9" cy="545.9" r="2.2"/><circle cx="139.5" cy="549.6" r="2.2"/><circle cx="139.4" cy="558.1" r="2.2"/><circle cx="144.9" cy="555.6" r="2.2"/><circle cx="142.2" cy="535.6" r="2.2"/><circle cx="139.0" cy="544.3" r="2.2"/><circle cx="148.1" cy="564.6" r="2.2"/><circle cx="141.5" cy="574.1" r="2.2"/><circle cx="140.7" cy="555.6" r="2.2"/><circle cx="145.2" cy="600.8" r="2.2"/><circle cx="142.6" cy="565.6" r="2.2"/><circle cx="148.6" cy="583.7" r="2.2"/><circle cx="145.3" cy="569.7" r="2.2"/><circle cx="143.1" cy="550.6" r="2.2"/><circle cx="141.7" cy="589.2" r="2.2"/><circle cx="147.9" cy="547.5" r="2.2"/><circle cx="140.2" cy="559.2" r="2.2"/><circle cx="142.0" cy="545.5" r="2.2"/><circle cx="140.8" cy="533.3" r="2.2"/><circle cx="145.9" cy="533.8" r="2.2"/><circle cx="138.8" cy="562.6" r="2.2"/><circle cx="142.9" cy="534.3" r="2.2"/><circle cx="143.9" cy="572.5" r="2.2"/><circle cx="144.5" cy="570.1" r="2.2"/><circle cx="144.6" cy="589.3" r="2.2"/><circle cx="142.4" cy="594.4" r="2.2"/><circle cx="142.1" cy="578.6" r="2.2"/><circle cx="146.0" cy="575.8" r="2.2"/><circle cx="148.8" cy="588.7" r="2.2"/><circle cx="140.5" cy="569.8" r="2.2"/><circle cx="143.9" cy="564.4" r="2.2"/><circle cx="142.6" cy="538.6" r="2.2"/><circle cx="146.6" cy="561.7" r="2.2"/><circle cx="141.3" cy="535.2" r="2.2"/><circle cx="142.2" cy="528.5" r="2.2"/><circle cx="144.1" cy="523.7" r="2.2"/><circle cx="139.5" cy="518.4" r="2.2"/><circle cx="139.9" cy="577.5" r="2.2"/><circle cx="140.0" cy="554.0" r="2.2"/><circle cx="146.8" cy="556.7" r="2.2"/><circle cx="140.5" cy="592.6" r="2.2"/><circle cx="141.4" cy="559.2" r="2.2"/><circle cx="147.1" cy="548.5" r="2.2"/><circle cx="146.2" cy="535.4" r="2.2"/><circle cx="146.2" cy="542.4" r="2.2"/><circle cx="142.3" cy="582.6" r="2.2"/><circle cx="147.6" cy="589.1" r="2.2"/><circle cx="144.7" cy="551.1" r="2.2"/><circle cx="146.2" cy="569.9" r="2.2"/><circle cx="147.4" cy="586.5" r="2.2"/><circle cx="140.1" cy="547.1" r="2.2"/><circle cx="145.8" cy="533.5" r="2.2"/><circle cx="140.7" cy="513.3" r="2.2"/><circle cx="144.9" cy="599.5" r="2.2"/><circle cx="146.0" cy="551.0" r="2.2"/><circle cx="145.4" cy="548.9" r="2.2"/><circle cx="148.5" cy="604.0" r="2.2"/><circle cx="139.3" cy="578.3" r="2.2"/><circle cx="140.0" cy="515.9" r="2.2"/><circle cx="141.8" cy="580.0" r="2.2"/><circle cx="142.2" cy="514.5" r="2.2"/><circle cx="144.4" cy="556.9" r="2.2"/><circle cx="142.7" cy="540.8" r="2.2"/><circle cx="147.1" cy="590.0" r="2.2"/><circle cx="141.8" cy="548.4" r="2.2"/><circle cx="145.2" cy="583.2" r="2.2"/><circle cx="149.0" cy="548.2" r="2.2"/><circle cx="146.0" cy="562.8" r="2.2"/><circle cx="140.6" cy="522.0" r="2.2"/><circle cx="143.9" cy="523.2" r="2.2"/><circle cx="142.2" cy="513.8" r="2.2"/><circle cx="144.7" cy="525.4" r="2.2"/><circle cx="145.3" cy="537.5" r="2.2"/><circle cx="141.2" cy="556.8" r="2.2"/><circle cx="142.6" cy="536.1" r="2.2"/><circle cx="139.3" cy="518.0" r="2.2"/><circle cx="139.6" cy="529.0" r="2.2"/><circle cx="143.8" cy="604.7" r="2.2"/><circle cx="140.9" cy="592.7" r="2.2"/><circle cx="143.8" cy="550.6" r="2.2"/><circle cx="147.2" cy="548.8" r="2.2"/><circle cx="139.4" cy="563.2" r="2.2"/><circle cx="145.6" cy="569.9" r="2.2"/><circle cx="141.7" cy="599.3" r="2.2"/><circle cx="147.8" cy="604.5" r="2.2"/><circle cx="143.4" cy="589.5" r="2.2"/><circle cx="146.3" cy="528.4" r="2.2"/><circle cx="139.1" cy="527.7" r="2.2"/><circle cx="140.0" cy="518.9" r="2.2"/><circle cx="142.5" cy="582.1" r="2.2"/><circle cx="142.0" cy="559.8" r="2.2"/><circle cx="138.9" cy="531.5" r="2.2"/><circle cx="144.3" cy="587.3" r="2.2"/><circle cx="147.0" cy="580.4" r="2.2"/><circle cx="143.0" cy="586.7" r="2.2"/><circle cx="147.4" cy="583.4" r="2.2"/><circle cx="148.7" cy="549.4" r="2.2"/><circle cx="146.1" cy="535.3" r="2.2"/><circle cx="144.8" cy="533.1" r="2.2"/><circle cx="142.8" cy="546.3" r="2.2"/><circle cx="145.6" cy="587.4" r="2.2"/><circle cx="142.6" cy="571.3" r="2.2"/><circle cx="142.5" cy="538.0" r="2.2"/><circle cx="139.8" cy="543.1" r="2.2"/><circle cx="146.5" cy="531.7" r="2.2"/><circle cx="146.5" cy="562.8" r="2.2"/><circle cx="145.9" cy="528.5" r="2.2"/><circle cx="139.9" cy="525.3" r="2.2"/><circle cx="142.4" cy="552.1" r="2.2"/><circle cx="138.9" cy="558.7" r="2.2"/><circle cx="143.0" cy="541.9" r="2.2"/><circle cx="144.4" cy="600.6" r="2.2"/><circle cx="140.9" cy="593.9" r="2.2"/><circle cx="142.1" cy="582.1" r="2.2"/><circle cx="139.9" cy="603.8" r="2.2"/><circle cx="143.3" cy="601.5" r="2.2"/><circle cx="141.1" cy="550.0" r="2.2"/><circle cx="146.1" cy="528.5" r="2.2"/><circle cx="141.6" cy="575.0" r="2.2"/><circle cx="140.7" cy="545.2" r="2.2"/><circle cx="145.4" cy="547.2" r="2.2"/><circle cx="145.5" cy="531.7" r="2.2"/><circle cx="145.2" cy="594.5" r="2.2"/><circle cx="147.7" cy="570.5" r="2.2"/><circle cx="144.1" cy="564.8" r="2.2"/><circle cx="140.0" cy="589.9" r="2.2"/><circle cx="146.0" cy="554.1" r="2.2"/><circle cx="145.7" cy="551.0" r="2.2"/><circle cx="142.8" cy="533.4" r="2.2"/><circle cx="145.0" cy="565.3" r="2.2"/><circle cx="144.2" cy="515.0" r="2.2"/><circle cx="145.3" cy="553.6" r="2.2"/><circle cx="145.0" cy="567.3" r="2.2"/><circle cx="143.7" cy="604.3" r="2.2"/><circle cx="146.5" cy="541.1" r="2.2"/><circle cx="146.5" cy="604.0" r="2.2"/><circle cx="143.0" cy="592.7" r="2.2"/><circle cx="140.1" cy="604.1" r="2.2"/><circle cx="143.9" cy="533.8" r="2.2"/><circle cx="147.5" cy="572.4" r="2.2"/><circle cx="148.6" cy="589.1" r="2.2"/><circle cx="147.1" cy="559.6" r="2.2"/><circle cx="147.8" cy="578.2" r="2.2"/><circle cx="141.4" cy="587.1" r="2.2"/><circle cx="143.5" cy="561.9" r="2.2"/><circle cx="141.7" cy="571.9" r="2.2"/><circle cx="139.6" cy="563.6" r="2.2"/><circle cx="147.0" cy="557.6" r="2.2"/><circle cx="141.3" cy="586.4" r="2.2"/><circle cx="147.7" cy="583.7" r="2.2"/><circle cx="144.5" cy="596.2" r="2.2"/><circle cx="142.6" cy="521.3" r="2.2"/><circle cx="139.2" cy="544.2" r="2.2"/><circle cx="147.8" cy="589.6" r="2.2"/><circle cx="140.0" cy="528.9" r="2.2"/><circle cx="142.8" cy="591.0" r="2.2"/><circle cx="145.2" cy="595.9" r="2.2"/><circle cx="139.5" cy="603.9" r="2.2"/><circle cx="141.0" cy="570.5" r="2.2"/><circle cx="147.9" cy="579.7" r="2.2"/><circle cx="140.8" cy="574.2" r="2.2"/><circle cx="143.3" cy="513.4" r="2.2"/><circle cx="142.3" cy="541.3" r="2.2"/><circle cx="145.3" cy="537.9" r="2.2"/><circle cx="145.1" cy="576.6" r="2.2"/><circle cx="140.7" cy="523.9" r="2.2"/><circle cx="146.0" cy="555.4" r="2.2"/><circle cx="140.1" cy="522.8" r="2.2"/><circle cx="148.6" cy="568.7" r="2.2"/><circle cx="142.5" cy="530.2" r="2.2"/><circle cx="149.1" cy="576.3" r="2.2"/><circle cx="146.5" cy="545.5" r="2.2"/><circle cx="142.0" cy="550.0" r="2.2"/><circle cx="140.3" cy="570.7" r="2.2"/><circle cx="143.2" cy="588.3" r="2.2"/><circle cx="143.1" cy="554.5" r="2.2"/><circle cx="144.1" cy="599.6" r="2.2"/><circle cx="142.4" cy="577.4" r="2.2"/><circle cx="141.2" cy="565.9" r="2.2"/><circle cx="141.8" cy="593.2" r="2.2"/><circle cx="141.8" cy="591.5" r="2.2"/><circle cx="145.8" cy="554.3" r="2.2"/><circle cx="148.5" cy="548.0" r="2.2"/><circle cx="146.5" cy="567.9" r="2.2"/><circle cx="143.5" cy="518.0" r="2.2"/><circle cx="143.2" cy="538.2" r="2.2"/><circle cx="143.4" cy="600.8" r="2.2"/><circle cx="141.8" cy="576.6" r="2.2"/><circle cx="145.8" cy="534.8" r="2.2"/><circle cx="143.1" cy="524.3" r="2.2"/><circle cx="143.2" cy="543.8" r="2.2"/><circle cx="147.3" cy="591.1" r="2.2"/><circle cx="144.9" cy="562.8" r="2.2"/><circle cx="139.8" cy="595.4" r="2.2"/><circle cx="139.7" cy="545.8" r="2.2"/><circle cx="142.7" cy="579.2" r="2.2"/><circle cx="145.8" cy="544.0" r="2.2"/><circle cx="148.1" cy="600.3" r="2.2"/><circle cx="139.0" cy="570.9" r="2.2"/><circle cx="143.7" cy="545.6" r="2.2"/><circle cx="143.6" cy="541.4" r="2.2"/><circle cx="145.8" cy="568.3" r="2.2"/><circle cx="148.9" cy="602.8" r="2.2"/><circle cx="149.1" cy="548.7" r="2.2"/><circle cx="147.4" cy="572.4" r="2.2"/><circle cx="146.1" cy="604.8" r="2.2"/><circle cx="139.5" cy="555.0" r="2.2"/><circle cx="143.0" cy="573.0" r="2.2"/><circle cx="141.1" cy="604.0" r="2.2"/><circle cx="141.0" cy="546.4" r="2.2"/><circle cx="140.3" cy="548.7" r="2.2"/><circle cx="146.5" cy="519.8" r="2.2"/><circle cx="140.5" cy="572.4" r="2.2"/><circle cx="145.3" cy="581.0" r="2.2"/><circle cx="141.4" cy="587.4" r="2.2"/><circle cx="146.4" cy="584.2" r="2.2"/><circle cx="140.0" cy="555.6" r="2.2"/><circle cx="139.0" cy="592.0" r="2.2"/><circle cx="148.6" cy="595.3" r="2.2"/><circle cx="139.1" cy="544.7" r="2.2"/><circle cx="144.4" cy="561.6" r="2.2"/><circle cx="140.0" cy="585.4" r="2.2"/><circle cx="141.9" cy="559.2" r="2.2"/><circle cx="140.1" cy="564.8" r="2.2"/><circle cx="140.1" cy="520.2" r="2.2"/><circle cx="144.1" cy="539.3" r="2.2"/><circle cx="143.1" cy="517.0" r="2.2"/><circle cx="141.1" cy="554.0" r="2.2"/><circle cx="144.6" cy="554.7" r="2.2"/><circle cx="148.9" cy="560.8" r="2.2"/><circle cx="143.0" cy="568.9" r="2.2"/><circle cx="147.8" cy="601.6" r="2.2"/><circle cx="143.1" cy="513.0" r="2.2"/><circle cx="140.4" cy="588.1" r="2.2"/><circle cx="146.4" cy="578.3" r="2.2"/><circle cx="140.4" cy="561.4" r="2.2"/><circle cx="139.1" cy="522.3" r="2.2"/><circle cx="141.9" cy="601.9" r="2.2"/><circle cx="145.5" cy="590.8" r="2.2"/><circle cx="139.3" cy="550.7" r="2.2"/><circle cx="152.6" cy="561.4" r="2.2"/><circle cx="153.0" cy="600.2" r="2.2"/><circle cx="155.3" cy="574.9" r="2.2"/><circle cx="158.7" cy="598.3" r="2.2"/><circle cx="161.7" cy="579.5" r="2.2"/><circle cx="157.1" cy="599.3" r="2.2"/><circle cx="155.9" cy="563.7" r="2.2"/><circle cx="159.6" cy="561.2" r="2.2"/><circle cx="155.7" cy="571.3" r="2.2"/><circle cx="156.8" cy="567.2" r="2.2"/><circle cx="156.3" cy="572.6" r="2.2"/><circle cx="152.3" cy="595.3" r="2.2"/><circle cx="152.4" cy="577.1" r="2.2"/><circle cx="157.5" cy="569.6" r="2.2"/><circle cx="154.1" cy="551.9" r="2.2"/><circle cx="155.7" cy="564.6" r="2.2"/><circle cx="156.9" cy="559.6" r="2.2"/><circle cx="159.7" cy="574.8" r="2.2"/><circle cx="151.9" cy="570.0" r="2.2"/><circle cx="161.9" cy="546.4" r="2.2"/><circle cx="158.0" cy="602.7" r="2.2"/><circle cx="155.6" cy="581.3" r="2.2"/><circle cx="155.7" cy="563.8" r="2.2"/><circle cx="158.2" cy="580.8" r="2.2"/><circle cx="155.1" cy="575.4" r="2.2"/><circle cx="157.2" cy="590.5" r="2.2"/><circle cx="152.4" cy="551.5" r="2.2"/><circle cx="154.4" cy="561.9" r="2.2"/><circle cx="160.2" cy="571.1" r="2.2"/><circle cx="160.8" cy="569.7" r="2.2"/><circle cx="154.8" cy="586.1" r="2.2"/><circle cx="152.7" cy="604.1" r="2.2"/><circle cx="160.5" cy="565.4" r="2.2"/><circle cx="155.1" cy="594.3" r="2.2"/><circle cx="160.1" cy="583.9" r="2.2"/><circle cx="152.4" cy="591.1" r="2.2"/><circle cx="152.3" cy="582.9" r="2.2"/><circle cx="157.6" cy="600.7" r="2.2"/><circle cx="158.5" cy="547.3" r="2.2"/><circle cx="161.6" cy="590.4" r="2.2"/><circle cx="157.9" cy="546.3" r="2.2"/><circle cx="159.5" cy="570.7" r="2.2"/><circle cx="158.9" cy="604.0" r="2.2"/><circle cx="161.4" cy="550.4" r="2.2"/><circle cx="160.0" cy="572.0" r="2.2"/><circle cx="159.7" cy="568.3" r="2.2"/><circle cx="156.5" cy="571.8" r="2.2"/><circle cx="153.0" cy="564.9" r="2.2"/><circle cx="159.5" cy="550.2" r="2.2"/><circle cx="153.0" cy="595.2" r="2.2"/><circle cx="158.8" cy="578.3" r="2.2"/><circle cx="153.0" cy="553.0" r="2.2"/><circle cx="155.1" cy="602.3" r="2.2"/><circle cx="157.7" cy="600.4" r="2.2"/><circle cx="154.0" cy="570.5" r="2.2"/><circle cx="157.4" cy="595.5" r="2.2"/><circle cx="153.1" cy="597.5" r="2.2"/><circle cx="156.8" cy="547.9" r="2.2"/><circle cx="156.3" cy="568.3" r="2.2"/><circle cx="158.9" cy="600.8" r="2.2"/><circle cx="157.0" cy="586.7" r="2.2"/><circle cx="155.9" cy="591.9" r="2.2"/><circle cx="152.9" cy="589.8" r="2.2"/><circle cx="153.5" cy="580.6" r="2.2"/><circle cx="153.9" cy="566.4" r="2.2"/><circle cx="153.5" cy="566.6" r="2.2"/><circle cx="158.0" cy="576.7" r="2.2"/><circle cx="155.9" cy="579.9" r="2.2"/><circle cx="160.6" cy="567.1" r="2.2"/><circle cx="157.9" cy="574.3" r="2.2"/><circle cx="162.1" cy="565.4" r="2.2"/><circle cx="159.1" cy="559.8" r="2.2"/><circle cx="154.5" cy="589.1" r="2.2"/><circle cx="157.8" cy="561.2" r="2.2"/><circle cx="152.5" cy="594.7" r="2.2"/><circle cx="155.8" cy="588.3" r="2.2"/><circle cx="156.3" cy="582.4" r="2.2"/><circle cx="157.7" cy="603.6" r="2.2"/><circle cx="161.4" cy="572.9" r="2.2"/><circle cx="156.9" cy="559.6" r="2.2"/><circle cx="159.7" cy="552.0" r="2.2"/><circle cx="155.0" cy="596.0" r="2.2"/><circle cx="152.2" cy="587.2" r="2.2"/><circle cx="157.8" cy="578.5" r="2.2"/><circle cx="155.3" cy="554.9" r="2.2"/><circle cx="161.8" cy="591.1" r="2.2"/><circle cx="160.3" cy="551.8" r="2.2"/><circle cx="160.0" cy="558.9" r="2.2"/><circle cx="153.9" cy="577.6" r="2.2"/><circle cx="158.2" cy="553.1" r="2.2"/><circle cx="159.8" cy="580.4" r="2.2"/><circle cx="161.2" cy="600.5" r="2.2"/><circle cx="159.0" cy="567.5" r="2.2"/><circle cx="161.8" cy="588.4" r="2.2"/><circle cx="154.9" cy="596.6" r="2.2"/><circle cx="159.4" cy="561.6" r="2.2"/><circle cx="154.4" cy="547.2" r="2.2"/><circle cx="157.4" cy="561.0" r="2.2"/><circle cx="154.9" cy="560.9" r="2.2"/><circle cx="153.2" cy="574.6" r="2.2"/><circle cx="154.7" cy="562.8" r="2.2"/><circle cx="154.7" cy="576.0" r="2.2"/><circle cx="161.0" cy="555.4" r="2.2"/><circle cx="160.8" cy="596.4" r="2.2"/><circle cx="158.2" cy="578.1" r="2.2"/><circle cx="159.5" cy="577.5" r="2.2"/><circle cx="158.7" cy="600.2" r="2.2"/><circle cx="159.9" cy="561.3" r="2.2"/><circle cx="152.4" cy="601.3" r="2.2"/><circle cx="155.6" cy="592.4" r="2.2"/><circle cx="154.3" cy="572.7" r="2.2"/><circle cx="155.7" cy="589.0" r="2.2"/><circle cx="161.7" cy="575.8" r="2.2"/><circle cx="157.7" cy="566.6" r="2.2"/><circle cx="154.2" cy="602.0" r="2.2"/><circle cx="153.0" cy="601.5" r="2.2"/><circle cx="158.7" cy="550.2" r="2.2"/><circle cx="161.3" cy="552.0" r="2.2"/><circle cx="157.7" cy="553.1" r="2.2"/><circle cx="162.2" cy="564.2" r="2.2"/><circle cx="161.0" cy="549.6" r="2.2"/><circle cx="158.8" cy="550.0" r="2.2"/><circle cx="152.1" cy="579.7" r="2.2"/><circle cx="162.1" cy="586.4" r="2.2"/><circle cx="160.8" cy="592.3" r="2.2"/><circle cx="157.3" cy="550.6" r="2.2"/><circle cx="157.3" cy="556.9" r="2.2"/><circle cx="157.3" cy="566.9" r="2.2"/><circle cx="157.0" cy="557.7" r="2.2"/><circle cx="159.2" cy="570.6" r="2.2"/><circle cx="156.9" cy="550.6" r="2.2"/><circle cx="156.9" cy="578.9" r="2.2"/><circle cx="162.0" cy="579.1" r="2.2"/><circle cx="153.2" cy="563.7" r="2.2"/><circle cx="155.3" cy="587.4" r="2.2"/><circle cx="161.7" cy="603.6" r="2.2"/><circle cx="161.8" cy="600.6" r="2.2"/><circle cx="160.8" cy="601.2" r="2.2"/><circle cx="152.0" cy="574.9" r="2.2"/><circle cx="158.0" cy="586.5" r="2.2"/><circle cx="158.2" cy="582.2" r="2.2"/><circle cx="161.6" cy="551.1" r="2.2"/><circle cx="157.3" cy="602.6" r="2.2"/><circle cx="152.1" cy="552.6" r="2.2"/><circle cx="160.9" cy="602.5" r="2.2"/><circle cx="152.1" cy="547.9" r="2.2"/><circle cx="160.5" cy="586.6" r="2.2"/><circle cx="157.3" cy="580.2" r="2.2"/><circle cx="159.8" cy="593.7" r="2.2"/><circle cx="151.8" cy="550.0" r="2.2"/><circle cx="160.1" cy="603.5" r="2.2"/><circle cx="160.6" cy="570.0" r="2.2"/><circle cx="155.3" cy="566.5" r="2.2"/><circle cx="152.0" cy="591.4" r="2.2"/><circle cx="154.6" cy="580.6" r="2.2"/><circle cx="157.3" cy="565.8" r="2.2"/><circle cx="158.9" cy="572.8" r="2.2"/><circle cx="154.3" cy="598.0" r="2.2"/><circle cx="153.6" cy="554.8" r="2.2"/><circle cx="154.5" cy="574.3" r="2.2"/><circle cx="160.0" cy="565.6" r="2.2"/><circle cx="154.3" cy="584.6" r="2.2"/><circle cx="154.5" cy="576.8" r="2.2"/><circle cx="154.5" cy="597.7" r="2.2"/><circle cx="153.7" cy="559.7" r="2.2"/><circle cx="155.0" cy="565.4" r="2.2"/><circle cx="159.4" cy="585.8" r="2.2"/><circle cx="160.1" cy="577.9" r="2.2"/><circle cx="152.6" cy="591.0" r="2.2"/><circle cx="154.4" cy="558.9" r="2.2"/><circle cx="156.2" cy="604.4" r="2.2"/><circle cx="155.7" cy="567.0" r="2.2"/><circle cx="161.4" cy="604.4" r="2.2"/><circle cx="155.9" cy="554.0" r="2.2"/><circle cx="160.1" cy="592.2" r="2.2"/><circle cx="155.4" cy="592.6" r="2.2"/><circle cx="155.8" cy="562.9" r="2.2"/><circle cx="158.0" cy="589.7" r="2.2"/><circle cx="156.8" cy="594.3" r="2.2"/><circle cx="151.9" cy="575.4" r="2.2"/><circle cx="155.8" cy="549.8" r="2.2"/><circle cx="161.4" cy="554.5" r="2.2"/><circle cx="154.0" cy="597.8" r="2.2"/><circle cx="161.9" cy="601.0" r="2.2"/><circle cx="155.4" cy="600.9" r="2.2"/><circle cx="153.3" cy="588.2" r="2.2"/><circle cx="161.7" cy="557.4" r="2.2"/><circle cx="153.2" cy="586.0" r="2.2"/><circle cx="161.1" cy="588.9" r="2.2"/><circle cx="161.8" cy="572.8" r="2.2"/><circle cx="155.7" cy="553.1" r="2.2"/><circle cx="154.7" cy="601.4" r="2.2"/><circle cx="152.6" cy="556.9" r="2.2"/><circle cx="155.4" cy="548.9" r="2.2"/><circle cx="155.0" cy="556.8" r="2.2"/><circle cx="153.1" cy="577.1" r="2.2"/><circle cx="157.5" cy="579.5" r="2.2"/><circle cx="159.8" cy="577.1" r="2.2"/><circle cx="161.7" cy="550.8" r="2.2"/><circle cx="154.1" cy="550.5" r="2.2"/><circle cx="155.0" cy="590.9" r="2.2"/><circle cx="161.5" cy="575.7" r="2.2"/><circle cx="153.5" cy="565.5" r="2.2"/><circle cx="157.8" cy="563.4" r="2.2"/><circle cx="160.1" cy="603.4" r="2.2"/><circle cx="156.6" cy="581.6" r="2.2"/><circle cx="160.7" cy="573.4" r="2.2"/><circle cx="153.8" cy="601.7" r="2.2"/><circle cx="162.1" cy="547.4" r="2.2"/><circle cx="159.8" cy="569.6" r="2.2"/><circle cx="152.3" cy="555.6" r="2.2"/><circle cx="153.6" cy="589.4" r="2.2"/><circle cx="154.0" cy="547.2" r="2.2"/><circle cx="154.1" cy="593.2" r="2.2"/><circle cx="157.0" cy="584.5" r="2.2"/><circle cx="156.7" cy="556.8" r="2.2"/><circle cx="152.0" cy="564.0" r="2.2"/><circle cx="152.2" cy="561.4" r="2.2"/><circle cx="158.3" cy="567.8" r="2.2"/><circle cx="156.8" cy="582.8" r="2.2"/><circle cx="155.1" cy="567.0" r="2.2"/><circle cx="161.1" cy="580.3" r="2.2"/><circle cx="156.2" cy="577.9" r="2.2"/><circle cx="156.6" cy="565.6" r="2.2"/><circle cx="161.4" cy="559.8" r="2.2"/><circle cx="161.6" cy="596.3" r="2.2"/><circle cx="161.1" cy="555.6" r="2.2"/><circle cx="157.1" cy="604.1" r="2.2"/><circle cx="154.8" cy="556.1" r="2.2"/><circle cx="159.4" cy="559.9" r="2.2"/><circle cx="157.9" cy="555.3" r="2.2"/><circle cx="161.7" cy="562.8" r="2.2"/><circle cx="152.8" cy="586.6" r="2.2"/><circle cx="155.4" cy="579.0" r="2.2"/><circle cx="157.0" cy="600.4" r="2.2"/><circle cx="157.2" cy="568.4" r="2.2"/><circle cx="151.8" cy="575.3" r="2.2"/><circle cx="154.6" cy="579.9" r="2.2"/><circle cx="158.4" cy="573.3" r="2.2"/><circle cx="152.7" cy="575.4" r="2.2"/><circle cx="156.9" cy="583.8" r="2.2"/><circle cx="162.0" cy="562.5" r="2.2"/><circle cx="156.4" cy="551.0" r="2.2"/><circle cx="160.2" cy="559.8" r="2.2"/><circle cx="160.5" cy="593.1" r="2.2"/><circle cx="154.5" cy="599.3" r="2.2"/><circle cx="157.1" cy="571.1" r="2.2"/><circle cx="157.6" cy="601.8" r="2.2"/><circle cx="156.9" cy="574.5" r="2.2"/><circle cx="154.9" cy="595.6" r="2.2"/><circle cx="157.1" cy="566.2" r="2.2"/><circle cx="153.9" cy="558.7" r="2.2"/><circle cx="160.6" cy="593.4" r="2.2"/><circle cx="162.1" cy="600.1" r="2.2"/><circle cx="159.0" cy="593.0" r="2.2"/><circle cx="159.3" cy="593.8" r="2.2"/><circle cx="160.2" cy="556.4" r="2.2"/><circle cx="160.4" cy="563.9" r="2.2"/><circle cx="154.4" cy="600.3" r="2.2"/><circle cx="152.0" cy="576.2" r="2.2"/><circle cx="155.4" cy="592.7" r="2.2"/><circle cx="158.2" cy="599.8" r="2.2"/><circle cx="161.6" cy="584.0" r="2.2"/><circle cx="152.5" cy="585.4" r="2.2"/><circle cx="152.9" cy="603.9" r="2.2"/><circle cx="160.9" cy="564.3" r="2.2"/><circle cx="153.8" cy="587.0" r="2.2"/><circle cx="159.8" cy="604.1" r="2.2"/><circle cx="158.3" cy="553.4" r="2.2"/><circle cx="159.4" cy="549.5" r="2.2"/><circle cx="160.9" cy="591.3" r="2.2"/><circle cx="160.0" cy="597.5" r="2.2"/><circle cx="157.8" cy="601.7" r="2.2"/><circle cx="158.5" cy="575.0" r="2.2"/><circle cx="155.8" cy="566.8" r="2.2"/><circle cx="152.0" cy="555.5" r="2.2"/><circle cx="160.2" cy="559.5" r="2.2"/><circle cx="158.7" cy="591.7" r="2.2"/><circle cx="159.1" cy="576.4" r="2.2"/><circle cx="155.1" cy="562.1" r="2.2"/><circle cx="153.8" cy="584.2" r="2.2"/><circle cx="159.0" cy="601.6" r="2.2"/><circle cx="155.3" cy="600.7" r="2.2"/><circle cx="161.4" cy="563.1" r="2.2"/><circle cx="161.8" cy="582.5" r="2.2"/><circle cx="161.9" cy="591.7" r="2.2"/><circle cx="155.3" cy="562.5" r="2.2"/><circle cx="157.3" cy="574.8" r="2.2"/><circle cx="152.2" cy="596.9" r="2.2"/><circle cx="157.4" cy="573.9" r="2.2"/><circle cx="159.6" cy="560.7" r="2.2"/><circle cx="153.9" cy="580.3" r="2.2"/><circle cx="154.3" cy="565.3" r="2.2"/><circle cx="152.5" cy="549.1" r="2.2"/><circle cx="155.5" cy="577.1" r="2.2"/><circle cx="161.8" cy="583.7" r="2.2"/><circle cx="156.2" cy="570.0" r="2.2"/><circle cx="154.3" cy="574.0" r="2.2"/><circle cx="161.9" cy="553.2" r="2.2"/><circle cx="156.3" cy="586.5" r="2.2"/><circle cx="159.8" cy="578.7" r="2.2"/><circle cx="158.5" cy="601.4" r="2.2"/><circle cx="161.3" cy="560.8" r="2.2"/><circle cx="157.5" cy="604.8" r="2.2"/><circle cx="157.3" cy="557.2" r="2.2"/><circle cx="159.8" cy="549.4" r="2.2"/><circle cx="153.4" cy="578.5" r="2.2"/><circle cx="154.7" cy="588.5" r="2.2"/><circle cx="159.4" cy="564.8" r="2.2"/><circle cx="159.9" cy="584.2" r="2.2"/><circle cx="159.2" cy="572.9" r="2.2"/><circle cx="156.3" cy="552.3" r="2.2"/><circle cx="156.8" cy="602.3" r="2.2"/><circle cx="161.1" cy="549.3" r="2.2"/><circle cx="152.5" cy="561.9" r="2.2"/><circle cx="159.1" cy="571.8" r="2.2"/><circle cx="153.1" cy="571.1" r="2.2"/><circle cx="157.8" cy="589.9" r="2.2"/><circle cx="156.0" cy="584.3" r="2.2"/><circle cx="159.0" cy="582.3" r="2.2"/><circle cx="152.3" cy="587.9" r="2.2"/><circle cx="153.1" cy="549.2" r="2.2"/><circle cx="156.8" cy="547.0" r="2.2"/><circle cx="152.6" cy="569.1" r="2.2"/><circle cx="156.7" cy="552.2" r="2.2"/><circle cx="161.8" cy="596.3" r="2.2"/><circle cx="156.9" cy="580.7" r="2.2"/><circle cx="155.1" cy="604.0" r="2.2"/><circle cx="153.1" cy="563.9" r="2.2"/><circle cx="154.1" cy="597.1" r="2.2"/><circle cx="157.1" cy="570.2" r="2.2"/><circle cx="156.0" cy="598.3" r="2.2"/><circle cx="154.5" cy="592.7" r="2.2"/><circle cx="159.2" cy="572.5" r="2.2"/><circle cx="155.6" cy="571.8" r="2.2"/><circle cx="156.6" cy="564.6" r="2.2"/><circle cx="158.4" cy="570.3" r="2.2"/><circle cx="155.0" cy="591.6" r="2.2"/><circle cx="156.6" cy="573.9" r="2.2"/><circle cx="161.0" cy="572.8" r="2.2"/><circle cx="155.7" cy="599.0" r="2.2"/><circle cx="162.1" cy="592.4" r="2.2"/><circle cx="156.0" cy="585.6" r="2.2"/><circle cx="159.6" cy="563.5" r="2.2"/><circle cx="159.4" cy="602.0" r="2.2"/><circle cx="158.7" cy="585.5" r="2.2"/><circle cx="156.4" cy="584.6" r="2.2"/><circle cx="154.2" cy="591.5" r="2.2"/><circle cx="157.5" cy="603.8" r="2.2"/><circle cx="155.4" cy="588.0" r="2.2"/><circle cx="152.0" cy="570.6" r="2.2"/><circle cx="159.8" cy="561.3" r="2.2"/><circle cx="158.2" cy="559.0" r="2.2"/><circle cx="156.0" cy="604.6" r="2.2"/><circle cx="153.9" cy="599.9" r="2.2"/><circle cx="152.4" cy="580.4" r="2.2"/><circle cx="160.4" cy="595.4" r="2.2"/><circle cx="155.9" cy="580.8" r="2.2"/><circle cx="159.3" cy="590.9" r="2.2"/><circle cx="159.6" cy="580.2" r="2.2"/><circle cx="154.4" cy="587.6" r="2.2"/><circle cx="157.7" cy="578.1" r="2.2"/><circle cx="162.2" cy="554.1" r="2.2"/><circle cx="160.0" cy="565.2" r="2.2"/><circle cx="159.4" cy="602.1" r="2.2"/><circle cx="154.7" cy="579.5" r="2.2"/><circle cx="157.3" cy="575.2" r="2.2"/><circle cx="153.6" cy="582.9" r="2.2"/><circle cx="161.2" cy="585.1" r="2.2"/><circle cx="154.8" cy="593.6" r="2.2"/><circle cx="156.2" cy="554.6" r="2.2"/><circle cx="158.2" cy="573.2" r="2.2"/><circle cx="157.4" cy="604.5" r="2.2"/><circle cx="157.8" cy="602.3" r="2.2"/><circle cx="155.5" cy="590.8" r="2.2"/><circle cx="152.6" cy="563.7" r="2.2"/><circle cx="159.1" cy="586.7" r="2.2"/><circle cx="160.5" cy="568.4" r="2.2"/><circle cx="154.7" cy="567.1" r="2.2"/><circle cx="157.4" cy="547.4" r="2.2"/><circle cx="150.1" cy="599.5" r="2.2"/><circle cx="149.4" cy="594.0" r="2.2"/><circle cx="151.6" cy="603.9" r="2.2"/><circle cx="149.7" cy="591.8" r="2.2"/><circle cx="149.4" cy="590.4" r="2.2"/><circle cx="151.4" cy="600.8" r="2.2"/><circle cx="149.8" cy="596.8" r="2.2"/><circle cx="151.1" cy="589.4" r="2.2"/><circle cx="151.5" cy="602.8" r="2.2"/><circle cx="149.6" cy="600.3" r="2.2"/><circle cx="151.1" cy="594.4" r="2.2"/><circle cx="151.6" cy="592.5" r="2.2"/><circle cx="150.4" cy="594.0" r="2.2"/><circle cx="150.3" cy="602.0" r="2.2"/><circle cx="150.7" cy="598.7" r="2.2"/><circle cx="152.0" cy="592.6" r="2.2"/><circle cx="149.7" cy="598.9" r="2.2"/><circle cx="149.5" cy="604.4" r="2.2"/><circle cx="150.0" cy="596.0" r="2.2"/><circle cx="150.3" cy="602.2" r="2.2"/><circle cx="151.7" cy="599.8" r="2.2"/><circle cx="149.5" cy="594.7" r="2.2"/><circle cx="151.1" cy="592.5" r="2.2"/><circle cx="151.6" cy="603.0" r="2.2"/><circle cx="149.7" cy="594.8" r="2.2"/><circle cx="149.7" cy="600.5" r="2.2"/><circle cx="149.1" cy="600.1" r="2.2"/><circle cx="149.2" cy="602.5" r="2.2"/><circle cx="150.6" cy="598.3" r="2.2"/><circle cx="149.3" cy="589.7" r="2.2"/><circle cx="150.1" cy="604.8" r="2.2"/><circle cx="150.8" cy="602.8" r="2.2"/><circle cx="149.2" cy="590.6" r="2.2"/><circle cx="149.1" cy="600.2" r="2.2"/><circle cx="149.5" cy="593.4" r="2.2"/><circle cx="151.0" cy="600.1" r="2.2"/><circle cx="150.0" cy="596.5" r="2.2"/><circle cx="149.9" cy="598.0" r="2.2"/><circle cx="150.1" cy="594.8" r="2.2"/><circle cx="149.7" cy="593.7" r="2.2"/><circle cx="149.8" cy="589.3" r="2.2"/><circle cx="149.9" cy="598.5" r="2.2"/><circle cx="149.8" cy="590.8" r="2.2"/><circle cx="151.5" cy="596.5" r="2.2"/><circle cx="150.5" cy="594.0" r="2.2"/><circle cx="151.7" cy="601.1" r="2.2"/><circle cx="150.9" cy="599.6" r="2.2"/><circle cx="151.1" cy="597.0" r="2.2"/><circle cx="150.2" cy="595.2" r="2.2"/><circle cx="150.5" cy="596.5" r="2.2"/><circle cx="150.6" cy="597.5" r="2.2"/><circle cx="151.4" cy="603.3" r="2.2"/><circle cx="149.7" cy="589.4" r="2.2"/><circle cx="149.9" cy="589.5" r="2.2"/><circle cx="151.4" cy="598.9" r="2.2"/><circle cx="149.9" cy="592.1" r="2.2"/><circle cx="151.6" cy="602.4" r="2.2"/><circle cx="151.1" cy="600.1" r="2.2"/><circle cx="151.2" cy="596.3" r="2.2"/><circle cx="150.2" cy="597.8" r="2.2"/><circle cx="151.6" cy="604.9" r="2.2"/><circle cx="151.8" cy="602.4" r="2.2"/><circle cx="149.2" cy="593.0" r="2.2"/><circle cx="151.9" cy="597.7" r="2.2"/><circle cx="150.5" cy="594.0" r="2.2"/><circle cx="151.6" cy="597.3" r="2.2"/><circle cx="152.0" cy="590.2" r="2.2"/><circle cx="152.0" cy="589.2" r="2.2"/><circle cx="149.4" cy="595.2" r="2.2"/><circle cx="150.9" cy="590.8" r="2.2"/><circle cx="150.7" cy="604.0" r="2.2"/><circle cx="150.3" cy="601.2" r="2.2"/><circle cx="150.8" cy="598.3" r="2.2"/><circle cx="149.5" cy="596.4" r="2.2"/><circle cx="151.7" cy="599.8" r="2.2"/><circle cx="149.7" cy="596.2" r="2.2"/><circle cx="150.6" cy="594.4" r="2.2"/><circle cx="150.7" cy="599.1" r="2.2"/><circle cx="149.1" cy="592.5" r="2.2"/><circle cx="151.0" cy="592.4" r="2.2"/><circle cx="156.7" cy="504.8" r="2.2"/><circle cx="161.5" cy="508.3" r="2.2"/><circle cx="155.4" cy="514.0" r="2.2"/><circle cx="158.0" cy="518.2" r="2.2"/><circle cx="159.2" cy="525.5" r="2.2"/><circle cx="160.5" cy="530.6" r="2.2"/><circle cx="157.6" cy="534.5" r="2.2"/><circle cx="155.7" cy="537.0" r="2.2"/><circle cx="140.0" cy="452.5" r="2.2"/><circle cx="141.5" cy="471.5" r="2.2"/><circle cx="142.0" cy="488.0" r="2.2"/><circle cx="144.0" cy="494.5" r="2.2"/><circle cx="143.0" cy="481.0" r="2.2"/><circle cx="146.0" cy="504.0" r="2.2"/><circle cx="140.0" cy="508.0" r="2.2"/><circle cx="143.0" cy="507.0" r="2.2"/><circle cx="145.5" cy="510.0" r="2.2"/><circle cx="147.5" cy="511.0" r="2.2"/><circle cx="153.0" cy="541.0" r="2.2"/><circle cx="157.0" cy="542.0" r="2.2"/><circle cx="160.0" cy="539.0" r="2.2"/></g>
<path d="M151.2,556 L149.4,559 L151.4,562 L149.3,565.5 L151.3,569 L149.5,572.5 L151.2,576 L149.4,579.5 L151.0,583 L149.7,586.5 L150.8,590 L150.3,593" fill="none" stroke="#fff" stroke-width="2.1" stroke-linejoin="miter"/>
<g fill="#e60808"><circle cx="135.1" cy="593.7" r="2.2"/><circle cx="136.1" cy="603.4" r="2.2"/><circle cx="137.0" cy="561.0" r="2.2"/><circle cx="137.3" cy="569.0" r="2.2"/><circle cx="138.1" cy="591.8" r="2.2"/><circle cx="137.8" cy="558.8" r="2.2"/><circle cx="134.9" cy="595.5" r="2.2"/><circle cx="135.4" cy="566.0" r="2.2"/><circle cx="134.9" cy="564.1" r="2.2"/><circle cx="136.7" cy="603.4" r="2.2"/><circle cx="136.1" cy="568.8" r="2.2"/><circle cx="138.1" cy="565.1" r="2.2"/><circle cx="137.3" cy="586.5" r="2.2"/><circle cx="138.5" cy="558.2" r="2.2"/><circle cx="137.1" cy="575.0" r="2.2"/><circle cx="138.1" cy="568.5" r="2.2"/><circle cx="137.7" cy="565.2" r="2.2"/><circle cx="136.8" cy="603.9" r="2.2"/><circle cx="135.8" cy="569.8" r="2.2"/><circle cx="138.5" cy="589.4" r="2.2"/><circle cx="135.1" cy="565.2" r="2.2"/><circle cx="135.7" cy="570.4" r="2.2"/><circle cx="138.2" cy="590.7" r="2.2"/><circle cx="138.7" cy="589.1" r="2.2"/><circle cx="137.3" cy="575.0" r="2.2"/><circle cx="137.7" cy="580.4" r="2.2"/><circle cx="135.0" cy="580.4" r="2.2"/><circle cx="136.3" cy="582.3" r="2.2"/><circle cx="135.0" cy="557.4" r="2.2"/><circle cx="138.7" cy="574.4" r="2.2"/><circle cx="136.1" cy="563.3" r="2.2"/><circle cx="137.2" cy="601.3" r="2.2"/><circle cx="135.5" cy="580.8" r="2.2"/><circle cx="136.8" cy="593.9" r="2.2"/><circle cx="137.1" cy="567.8" r="2.2"/><circle cx="135.6" cy="591.9" r="2.2"/><circle cx="135.1" cy="598.8" r="2.2"/><circle cx="134.9" cy="565.4" r="2.2"/><circle cx="136.7" cy="597.8" r="2.2"/><circle cx="137.3" cy="592.9" r="2.2"/><circle cx="137.8" cy="591.8" r="2.2"/><circle cx="135.0" cy="596.9" r="2.2"/><circle cx="135.4" cy="564.0" r="2.2"/><circle cx="135.0" cy="557.4" r="2.2"/><circle cx="138.3" cy="574.9" r="2.2"/><circle cx="135.1" cy="558.3" r="2.2"/><circle cx="138.2" cy="585.8" r="2.2"/><circle cx="138.5" cy="557.9" r="2.2"/><circle cx="135.3" cy="570.2" r="2.2"/><circle cx="135.6" cy="561.6" r="2.2"/><circle cx="135.6" cy="587.7" r="2.2"/><circle cx="135.5" cy="564.3" r="2.2"/><circle cx="136.9" cy="574.6" r="2.2"/><circle cx="135.4" cy="584.1" r="2.2"/><circle cx="136.8" cy="575.2" r="2.2"/><circle cx="135.8" cy="512.5" r="2.2"/><circle cx="137.0" cy="518.5" r="2.2"/><circle cx="137.5" cy="521.0" r="2.2"/><circle cx="133.0" cy="525.5" r="2.2"/><circle cx="138.0" cy="528.5" r="2.2"/><circle cx="137.0" cy="537.5" r="2.2"/><circle cx="136.5" cy="544.0" r="2.2"/><circle cx="138.2" cy="532.0" r="2.2"/><circle cx="135.5" cy="547.0" r="2.2"/><circle cx="164.8" cy="544.5" r="2.2"/><circle cx="165.5" cy="554.3" r="2.2"/><circle cx="164.0" cy="542.6" r="2.2"/><circle cx="166.9" cy="579.3" r="2.2"/><circle cx="164.3" cy="576.4" r="2.2"/><circle cx="167.2" cy="550.4" r="2.2"/><circle cx="164.3" cy="587.0" r="2.2"/><circle cx="164.2" cy="586.9" r="2.2"/><circle cx="167.0" cy="544.6" r="2.2"/><circle cx="163.8" cy="560.6" r="2.2"/><circle cx="166.2" cy="591.8" r="2.2"/><circle cx="165.9" cy="600.7" r="2.2"/><circle cx="163.3" cy="567.0" r="2.2"/><circle cx="166.7" cy="590.6" r="2.2"/><circle cx="162.9" cy="604.2" r="2.2"/><circle cx="166.2" cy="597.0" r="2.2"/><circle cx="164.2" cy="580.4" r="2.2"/><circle cx="167.3" cy="599.0" r="2.2"/><circle cx="165.3" cy="598.5" r="2.2"/><circle cx="167.5" cy="595.3" r="2.2"/><circle cx="165.7" cy="603.0" r="2.2"/><circle cx="163.0" cy="567.6" r="2.2"/><circle cx="165.2" cy="550.4" r="2.2"/><circle cx="166.4" cy="545.9" r="2.2"/><circle cx="165.6" cy="559.8" r="2.2"/><circle cx="164.0" cy="580.5" r="2.2"/><circle cx="163.3" cy="570.4" r="2.2"/><circle cx="166.8" cy="604.7" r="2.2"/><circle cx="163.7" cy="565.2" r="2.2"/><circle cx="165.9" cy="554.0" r="2.2"/><circle cx="166.7" cy="554.6" r="2.2"/><circle cx="165.2" cy="563.6" r="2.2"/><circle cx="162.3" cy="542.1" r="2.2"/><circle cx="162.3" cy="562.8" r="2.2"/><circle cx="163.7" cy="605.0" r="2.2"/><circle cx="165.6" cy="546.1" r="2.2"/><circle cx="166.0" cy="556.8" r="2.2"/><circle cx="164.8" cy="587.9" r="2.2"/><circle cx="166.8" cy="601.4" r="2.2"/><circle cx="164.5" cy="562.2" r="2.2"/><circle cx="164.4" cy="561.9" r="2.2"/><circle cx="166.2" cy="571.4" r="2.2"/><circle cx="165.9" cy="551.6" r="2.2"/><circle cx="166.4" cy="603.4" r="2.2"/><circle cx="163.4" cy="581.2" r="2.2"/><circle cx="163.1" cy="544.2" r="2.2"/><circle cx="164.5" cy="553.6" r="2.2"/><circle cx="166.1" cy="578.3" r="2.2"/><circle cx="165.8" cy="603.5" r="2.2"/><circle cx="162.6" cy="548.2" r="2.2"/><circle cx="165.5" cy="590.6" r="2.2"/><circle cx="175.7" cy="596.8" r="2.2"/><circle cx="172.1" cy="601.5" r="2.2"/><circle cx="169.8" cy="581.1" r="2.2"/><circle cx="173.3" cy="578.7" r="2.2"/><circle cx="168.0" cy="578.8" r="2.2"/><circle cx="167.1" cy="579.8" r="2.2"/><circle cx="171.9" cy="581.5" r="2.2"/><circle cx="172.8" cy="600.7" r="2.2"/><circle cx="169.5" cy="581.3" r="2.2"/><circle cx="173.7" cy="598.0" r="2.2"/><circle cx="176.5" cy="593.2" r="2.2"/><circle cx="172.6" cy="601.7" r="2.2"/><circle cx="173.8" cy="604.8" r="2.2"/><circle cx="168.7" cy="599.3" r="2.2"/><circle cx="173.2" cy="590.9" r="2.2"/><circle cx="165.1" cy="591.1" r="2.2"/><circle cx="168.4" cy="594.5" r="2.2"/><circle cx="171.6" cy="592.0" r="2.2"/><circle cx="165.8" cy="581.6" r="2.2"/><circle cx="172.9" cy="596.8" r="2.2"/><circle cx="177.9" cy="599.8" r="2.2"/><circle cx="168.8" cy="590.5" r="2.2"/><circle cx="171.6" cy="600.1" r="2.2"/><circle cx="170.1" cy="603.3" r="2.2"/><circle cx="171.3" cy="588.9" r="2.2"/><circle cx="171.2" cy="587.8" r="2.2"/><circle cx="178.0" cy="579.3" r="2.2"/><circle cx="170.2" cy="580.2" r="2.2"/><circle cx="173.8" cy="582.1" r="2.2"/><circle cx="166.9" cy="589.6" r="2.2"/><circle cx="172.8" cy="599.0" r="2.2"/><circle cx="170.8" cy="586.1" r="2.2"/><circle cx="169.8" cy="602.4" r="2.2"/><circle cx="167.8" cy="578.3" r="2.2"/><circle cx="176.5" cy="591.3" r="2.2"/><circle cx="166.7" cy="581.7" r="2.2"/><circle cx="176.6" cy="598.6" r="2.2"/><circle cx="165.8" cy="596.6" r="2.2"/><circle cx="167.8" cy="590.3" r="2.2"/><circle cx="172.9" cy="579.4" r="2.2"/><circle cx="177.2" cy="587.2" r="2.2"/><circle cx="166.9" cy="599.5" r="2.2"/><circle cx="166.4" cy="579.0" r="2.2"/><circle cx="173.5" cy="590.9" r="2.2"/><circle cx="176.7" cy="599.7" r="2.2"/><circle cx="167.7" cy="579.2" r="2.2"/><circle cx="172.8" cy="590.9" r="2.2"/><circle cx="168.9" cy="603.2" r="2.2"/><circle cx="167.7" cy="595.7" r="2.2"/><circle cx="166.0" cy="603.4" r="2.2"/><circle cx="177.3" cy="595.0" r="2.2"/><circle cx="169.2" cy="597.9" r="2.2"/><circle cx="176.7" cy="599.9" r="2.2"/><circle cx="165.5" cy="591.9" r="2.2"/><circle cx="65.7" cy="582.4" r="2.2"/><circle cx="115.1" cy="580.6" r="2.2"/><circle cx="124.4" cy="584.0" r="2.2"/><circle cx="124.4" cy="586.6" r="2.2"/><circle cx="111.9" cy="591.2" r="2.2"/><circle cx="113.9" cy="592.6" r="2.2"/><circle cx="95.2" cy="596.5" r="2.2"/><circle cx="118.9" cy="597.8" r="2.2"/><circle cx="120.4" cy="604.1" r="2.2"/><circle cx="132.3" cy="589.9" r="2.2"/><circle cx="128.0" cy="600.0" r="2.2"/><circle cx="130.0" cy="603.0" r="2.2"/><circle cx="126.0" cy="598.0" r="2.2"/><circle cx="131.0" cy="594.0" r="2.2"/><circle cx="132.0" cy="583.0" r="2.2"/><circle cx="130.0" cy="576.0" r="2.2"/><circle cx="132.5" cy="566.0" r="2.2"/><circle cx="139.4" cy="474.5" r="2.2"/><circle cx="139.0" cy="464.0" r="2.2"/><circle cx="133.5" cy="489.3" r="2.2"/><circle cx="135.0" cy="488.5" r="2.2"/><circle cx="165.7" cy="511.5" r="2.2"/><circle cx="166.8" cy="514.4" r="2.2"/><circle cx="166.8" cy="525.9" r="2.2"/><circle cx="171.0" cy="535.8" r="2.2"/><circle cx="164.9" cy="536.4" r="2.2"/><circle cx="165.3" cy="540.2" r="2.2"/><circle cx="164.3" cy="547.8" r="2.2"/><circle cx="167.6" cy="552.2" r="2.2"/><circle cx="172.0" cy="556.4" r="2.2"/><circle cx="172.5" cy="571.3" r="2.2"/><circle cx="180.6" cy="570.2" r="2.2"/><circle cx="186.7" cy="579.0" r="2.2"/><circle cx="194.9" cy="573.3" r="2.2"/><circle cx="190.1" cy="595.0" r="2.2"/><circle cx="199.3" cy="603.3" r="2.2"/><circle cx="192.0" cy="600.4" r="2.2"/><circle cx="216.9" cy="597.5" r="2.2"/><circle cx="228.0" cy="591.8" r="2.2"/><circle cx="270.1" cy="563.9" r="2.2"/><circle cx="167.5" cy="454.0" r="2.2"/><circle cx="169.0" cy="457.5" r="2.2"/><circle cx="194.2" cy="572.4" r="2.2"/><circle cx="177.0" cy="563.0" r="2.2"/><circle cx="183.0" cy="567.0" r="2.2"/><circle cx="186.0" cy="590.0" r="2.2"/><circle cx="183.0" cy="599.0" r="2.2"/><circle cx="188.0" cy="603.0" r="2.2"/><circle cx="181.0" cy="585.0" r="2.2"/><circle cx="176.0" cy="574.0" r="2.2"/><circle cx="170.0" cy="566.0" r="2.2"/><circle cx="168.0" cy="560.0" r="2.2"/><circle cx="171.0" cy="550.0" r="2.2"/><circle cx="175.0" cy="583.0" r="2.2"/><circle cx="179.0" cy="596.0" r="2.2"/></g>
<line x1="139.2" y1="427.5" x2="139.2" y2="648.3" stroke="#444" stroke-width="0.7" stroke-dasharray="2.5,2"/>
<line x1="161.4" y1="427.5" x2="161.4" y2="648.3" stroke="#444" stroke-width="0.7" stroke-dasharray="2.5,2"/>
<line x1="25.5" y1="606.0" x2="311.0" y2="606.0" stroke="#444" stroke-width="0.7" stroke-dasharray="2.5,2"/>
<line x1="25.5" y1="427.5" x2="25.5" y2="648.9" stroke="#555" stroke-width="1.3"/>
<line x1="24.9" y1="648.3" x2="311.0" y2="648.3" stroke="#555" stroke-width="1.3"/>
<line x1="22.6" y1="638.6" x2="25.5" y2="638.6" stroke="#333" stroke-width="0.9"/>
<text x="19.3" y="641.8" font-size="8.8" font-weight="normal" text-anchor="end" fill="#4d4d4d">0</text>
<line x1="22.6" y1="588.4" x2="25.5" y2="588.4" stroke="#333" stroke-width="0.9"/>
<text x="19.3" y="591.6" font-size="8.8" font-weight="normal" text-anchor="end" fill="#4d4d4d">2</text>
<line x1="22.6" y1="538.2" x2="25.5" y2="538.2" stroke="#333" stroke-width="0.9"/>
<text x="19.3" y="541.4" font-size="8.8" font-weight="normal" text-anchor="end" fill="#4d4d4d">4</text>
<line x1="22.6" y1="488.0" x2="25.5" y2="488.0" stroke="#333" stroke-width="0.9"/>
<text x="19.3" y="491.2" font-size="8.8" font-weight="normal" text-anchor="end" fill="#4d4d4d">6</text>
<line x1="22.6" y1="437.8" x2="25.5" y2="437.8" stroke="#333" stroke-width="0.9"/>
<text x="19.3" y="441.0" font-size="8.8" font-weight="normal" text-anchor="end" fill="#4d4d4d">8</text>
<line x1="76.5" y1="648.3" x2="76.5" y2="650.8" stroke="#333" stroke-width="0.9"/>
<text x="76.5" y="661.0" font-size="8.8" font-weight="normal" text-anchor="middle" fill="#4d4d4d">−4</text>
<line x1="150.3" y1="648.3" x2="150.3" y2="650.8" stroke="#333" stroke-width="0.9"/>
<text x="150.3" y="661.0" font-size="8.8" font-weight="normal" text-anchor="middle" fill="#4d4d4d">0</text>
<line x1="224.1" y1="648.3" x2="224.1" y2="650.8" stroke="#333" stroke-width="0.9"/>
<text x="224.1" y="661.0" font-size="8.8" font-weight="normal" text-anchor="middle" fill="#4d4d4d">4</text>
<line x1="297.9" y1="648.3" x2="297.9" y2="650.8" stroke="#333" stroke-width="0.9"/>
<text x="297.9" y="661.0" font-size="8.8" font-weight="normal" text-anchor="middle" fill="#4d4d4d">8</text>
<text x="8.3" y="537" font-size="9.6" transform="rotate(-90 8.3 537)" text-anchor="middle" fill="#000">−Log<tspan font-size="5.8" dy="1.8">10</tspan><tspan dy="-1.8"> </tspan><tspan font-style="italic">P</tspan></text>
<text x="169.6" y="672.6" font-size="8.9" text-anchor="middle" fill="#000">Log<tspan font-size="5.8" dy="1.8">2</tspan><tspan dy="-1.8"> fold change</tspan></text>
<rect x="223.0" y="426.8" width="90.0" height="45.8" fill="#fff"/>
<circle cx="236.6" cy="439.8" r="2.50" fill="#4d4d4d"/>
<circle cx="236.6" cy="447.5" r="2.50" fill="#228b22"/>
<circle cx="236.6" cy="455.2" r="2.50" fill="#4169e1"/>
<circle cx="236.6" cy="462.7" r="2.50" fill="#e60808"/>
<text x="313" y="442.4" font-size="7" text-anchor="end" fill="#000">NS</text>
<text x="313" y="450" font-size="7" text-anchor="end" fill="#000">Log<tspan font-size="5" dy="1.4">2</tspan><tspan dy="-1.4"> FC</tspan></text>
<text x="313" y="457.7" font-size="7" text-anchor="end" fill="#000">p–value</text>
<text x="313" y="465" font-size="7" text-anchor="end" fill="#000">p – value and log<tspan font-size="5" dy="1.4">2</tspan><tspan dy="-1.4"> FC</tspan></text>
<line x1="164.2" y1="451.4" x2="168.6" y2="455.0" stroke="#000" stroke-width="1.0"/>
<circle cx="168.6" cy="455.0" r="0.90" fill="#000"/>
<line x1="168.5" y1="458.7" x2="171.5" y2="460.9" stroke="#000" stroke-width="1.0"/>
<circle cx="171.5" cy="460.9" r="0.90" fill="#000"/>
<line x1="136.5" y1="477.2" x2="140.1" y2="473.3" stroke="#000" stroke-width="1.0"/>
<circle cx="140.1" cy="473.3" r="0.90" fill="#000"/>
<line x1="190.0" y1="570.1" x2="194.2" y2="572.4" stroke="#000" stroke-width="1.0"/>
<circle cx="194.2" cy="572.4" r="0.90" fill="#000"/>
<line x1="271.0" y1="561.0" x2="270.1" y2="563.9" stroke="#000" stroke-width="1.0"/>
<circle cx="270.1" cy="563.9" r="0.90" fill="#000"/>
<line x1="113.0" y1="578.2" x2="115.1" y2="580.6" stroke="#000" stroke-width="1.0"/>
<circle cx="115.1" cy="580.6" r="0.90" fill="#000"/>
<line x1="229.5" y1="589.9" x2="228.3" y2="591.7" stroke="#000" stroke-width="1.0"/>
<circle cx="228.3" cy="591.7" r="0.90" fill="#000"/>
<line x1="63.1" y1="586.5" x2="65.7" y2="582.4" stroke="#000" stroke-width="1.0"/>
<circle cx="65.7" cy="582.4" r="0.90" fill="#000"/>
<line x1="198.4" y1="595.2" x2="199.4" y2="602.2" stroke="#000" stroke-width="1.0"/>
<circle cx="199.4" cy="602.2" r="0.90" fill="#000"/>
<line x1="135.0" y1="592.4" x2="138.5" y2="588.0" stroke="#000" stroke-width="1.0"/>
<circle cx="138.5" cy="588.0" r="0.90" fill="#000"/>
<line x1="86.0" y1="612.2" x2="89.0" y2="614.5" stroke="#000" stroke-width="1.0"/>
<circle cx="89.0" cy="614.5" r="0.90" fill="#000"/>
<line x1="216.0" y1="601.3" x2="217.5" y2="597.8" stroke="#000" stroke-width="1.0"/>
<circle cx="217.5" cy="597.8" r="0.90" fill="#000"/>
<line x1="115.4" y1="612.0" x2="113.0" y2="613.5" stroke="#000" stroke-width="1.0"/>
<circle cx="113.0" cy="613.5" r="0.90" fill="#000"/>
<line x1="262.0" y1="609.2" x2="260.7" y2="606.2" stroke="#000" stroke-width="1.0"/>
<circle cx="260.7" cy="606.2" r="0.90" fill="#000"/>
<line x1="91.5" y1="621.0" x2="96.0" y2="618.5" stroke="#000" stroke-width="1.0"/>
<circle cx="96.0" cy="618.5" r="0.90" fill="#000"/>
<line x1="198.0" y1="618.0" x2="199.5" y2="615.5" stroke="#000" stroke-width="1.0"/>
<circle cx="199.5" cy="615.5" r="0.90" fill="#000"/>
<line x1="212.0" y1="618.3" x2="211.0" y2="615.0" stroke="#000" stroke-width="1.0"/>
<circle cx="211.0" cy="615.0" r="0.90" fill="#000"/>
<line x1="100.0" y1="629.2" x2="98.0" y2="627.0" stroke="#000" stroke-width="1.0"/>
<circle cx="98.0" cy="627.0" r="0.90" fill="#000"/>
<rect x="138.5" y="440.7" width="36.4" height="10.4" rx="1.6" fill="#fff" stroke="#b4b4b4" stroke-width="0.7"/>
<text x="140.3" y="449.2" font-size="11.2" font-weight="bold" textLength="32.8" lengthAdjust="spacingAndGlyphs" fill="#000" stroke="#000" stroke-width="0.35">Lims1</text>
<rect x="154.0" y="461.2" width="51.7" height="11.1" rx="1.6" fill="#fff" stroke="#b4b4b4" stroke-width="0.7"/>
<text x="155.8" y="470.4" font-size="11.2" font-weight="bold" textLength="48.1" lengthAdjust="spacingAndGlyphs" fill="#000" stroke="#000" stroke-width="0.35">Fam149a</text>
<rect x="109.8" y="477.5" width="36.6" height="10.8" rx="1.6" fill="#fff" stroke="#b4b4b4" stroke-width="0.7"/>
<text x="111.6" y="486.4" font-size="11.2" font-weight="bold" textLength="33.0" lengthAdjust="spacingAndGlyphs" fill="#000" stroke="#000" stroke-width="0.35">Pacs1</text>
<rect x="124.3" y="548.0" width="34.4" height="11.3" rx="1.6" fill="#fff" stroke="#b4b4b4" stroke-width="0.7"/>
<text x="126.1" y="557.4" font-size="11.2" font-weight="bold" textLength="30.8" lengthAdjust="spacingAndGlyphs" fill="#000" stroke="#000" stroke-width="0.35">Nr4a1</text>
<rect x="164.2" y="559.9" width="39.3" height="9.9" rx="1.6" fill="#fff" stroke="#b4b4b4" stroke-width="0.7"/>
<text x="166.0" y="567.9" font-size="11.2" font-weight="bold" textLength="35.7" lengthAdjust="spacingAndGlyphs" fill="#000" stroke="#000" stroke-width="0.35">Zfp512</text>
<rect x="247.8" y="550.1" width="61.5" height="10.6" rx="1.6" fill="#fff" stroke="#b4b4b4" stroke-width="0.7"/>
<text x="249.6" y="558.8" font-size="11.2" font-weight="bold" textLength="57.9" lengthAdjust="spacingAndGlyphs" fill="#000" stroke="#000" stroke-width="0.35">Kansl2–ps</text>
<rect x="86.0" y="566.9" width="36.7" height="11.0" rx="1.6" fill="#fff" stroke="#b4b4b4" stroke-width="0.7"/>
<text x="87.8" y="576.0" font-size="11.2" font-weight="bold" textLength="33.1" lengthAdjust="spacingAndGlyphs" fill="#000" stroke="#000" stroke-width="0.35">Cep72</text>
<rect x="226.5" y="579.2" width="35.7" height="10.4" rx="1.6" fill="#fff" stroke="#b4b4b4" stroke-width="0.7"/>
<text x="228.3" y="587.7" font-size="11.2" font-weight="bold" textLength="32.1" lengthAdjust="spacingAndGlyphs" fill="#000" stroke="#000" stroke-width="0.35">Ogdhl</text>
<rect x="36.2" y="585.0" width="26.6" height="11.1" rx="1.6" fill="#fff" stroke="#b4b4b4" stroke-width="0.7"/>
<text x="38.0" y="594.2" font-size="11.2" font-weight="bold" textLength="23.0" lengthAdjust="spacingAndGlyphs" fill="#000" stroke="#000" stroke-width="0.35">Ippk</text>
<rect x="173.4" y="585.5" width="48.5" height="9.4" rx="1.6" fill="#fff" stroke="#b4b4b4" stroke-width="0.7"/>
<text x="175.2" y="593.0" font-size="11.2" font-weight="bold" textLength="44.9" lengthAdjust="spacingAndGlyphs" fill="#000" stroke="#000" stroke-width="0.35">Mamdc2</text>
<rect x="133.7" y="592.7" width="34.2" height="9.9" rx="1.6" fill="#fff" stroke="#b4b4b4" stroke-width="0.7"/>
<text x="135.5" y="600.7" font-size="11.2" font-weight="bold" textLength="30.6" lengthAdjust="spacingAndGlyphs" fill="#000" stroke="#000" stroke-width="0.35">Nr3c2</text>
<rect x="53.2" y="601.3" width="53.7" height="10.6" rx="1.6" fill="#fff" stroke="#b4b4b4" stroke-width="0.7"/>
<text x="55.0" y="610.0" font-size="11.2" font-weight="bold" textLength="50.1" lengthAdjust="spacingAndGlyphs" fill="#000" stroke="#000" stroke-width="0.35">Gm14288</text>
<rect x="214.3" y="601.6" width="27.7" height="9.9" rx="1.6" fill="#fff" stroke="#b4b4b4" stroke-width="0.7"/>
<text x="216.1" y="609.6" font-size="11.2" font-weight="bold" textLength="24.1" lengthAdjust="spacingAndGlyphs" fill="#000" stroke="#000" stroke-width="0.35">Kat5</text>
<rect x="115.7" y="608.5" width="30.1" height="9.9" rx="1.6" fill="#fff" stroke="#b4b4b4" stroke-width="0.7"/>
<text x="117.5" y="616.5" font-size="11.2" font-weight="bold" textLength="26.5" lengthAdjust="spacingAndGlyphs" fill="#000" stroke="#000" stroke-width="0.35">Clip4</text>
<rect x="258.1" y="609.7" width="27.4" height="11.0" rx="1.6" fill="#fff" stroke="#b4b4b4" stroke-width="0.7"/>
<text x="259.9" y="618.8" font-size="11.2" font-weight="bold" textLength="23.8" lengthAdjust="spacingAndGlyphs" fill="#000" stroke="#000" stroke-width="0.35">Pign</text>
<rect x="27.5" y="618.3" width="63.7" height="9.9" rx="1.6" fill="#fff" stroke="#b4b4b4" stroke-width="0.7"/>
<text x="29.3" y="626.3" font-size="11.2" font-weight="bold" textLength="60.1" lengthAdjust="spacingAndGlyphs" fill="#000" stroke="#000" stroke-width="0.35">Tmem161b</text>
<rect x="165.9" y="618.3" width="36.4" height="9.9" rx="1.6" fill="#fff" stroke="#b4b4b4" stroke-width="0.7"/>
<text x="167.7" y="626.3" font-size="11.2" font-weight="bold" textLength="32.8" lengthAdjust="spacingAndGlyphs" fill="#000" stroke="#000" stroke-width="0.35">Lypd1</text>
<rect x="206.7" y="618.6" width="33.6" height="10.4" rx="1.6" fill="#fff" stroke="#b4b4b4" stroke-width="0.7"/>
<text x="208.5" y="627.1" font-size="11.2" font-weight="bold" textLength="30.0" lengthAdjust="spacingAndGlyphs" fill="#000" stroke="#000" stroke-width="0.35">Arnt2</text>
<rect x="96.4" y="629.5" width="45.9" height="9.4" rx="1.6" fill="#fff" stroke="#b4b4b4" stroke-width="0.7"/>
<text x="98.2" y="637.0" font-size="11.2" font-weight="bold" textLength="42.3" lengthAdjust="spacingAndGlyphs" fill="#000" stroke="#000" stroke-width="0.35">Plekhh1</text>
<text x="371.2" y="415.0" font-size="17.5" textLength="10.3" lengthAdjust="spacingAndGlyphs" fill="#000" stroke="#000" stroke-width="0.2">F.</text>
<line x1="536.4" y1="430.0" x2="536.4" y2="646.0" stroke="#f0f0f0" stroke-width="0.6"/>
<line x1="599.5" y1="430.0" x2="599.5" y2="646.0" stroke="#f0f0f0" stroke-width="0.6"/>
<rect x="517.4" y="433.3" width="50.3" height="9.4" fill="#0a52a0"/>
<text x="391.3" y="441.0" font-size="9.6" font-weight="normal" textLength="117.4" lengthAdjust="spacingAndGlyphs" fill="#111" stroke="#111" stroke-width="0.3">Double strand break repair</text>
<rect x="518.5" y="445.3" width="49.2" height="9.4" fill="#0a52a0"/>
<text x="361.5" y="452.9" font-size="9.6" font-weight="normal" textLength="150.1" lengthAdjust="spacingAndGlyphs" fill="#111" stroke="#111" stroke-width="0.3">Alanine and aspartate metabolism</text>
<rect x="519.0" y="457.3" width="48.7" height="9.4" fill="#0a52a0"/>
<text x="341.1" y="464.9" font-size="9.6" font-weight="normal" textLength="172.3" lengthAdjust="spacingAndGlyphs" fill="#111" stroke="#111" stroke-width="0.3">Regulation of DNA template replication</text>
<rect x="519.2" y="469.3" width="48.5" height="9.4" fill="#0a52a0"/>
<text x="364.5" y="476.9" font-size="9.6" font-weight="normal" textLength="145.9" lengthAdjust="spacingAndGlyphs" fill="#111" stroke="#111" stroke-width="0.3">Coenzyme A biosynthetic process</text>
<rect x="519.7" y="481.3" width="48.0" height="9.4" fill="#0a52a0"/>
<text x="409.7" y="488.8" font-size="9.6" font-weight="normal" textLength="101.9" lengthAdjust="spacingAndGlyphs" fill="#111" stroke="#111" stroke-width="0.3">Vitamin B5 metabolism</text>
<rect x="519.7" y="493.3" width="48.0" height="9.4" fill="#0a52a0"/>
<text x="414.7" y="500.8" font-size="9.6" font-weight="normal" textLength="96.9" lengthAdjust="spacingAndGlyphs" fill="#111" stroke="#111" stroke-width="0.3">Protein palmitoylation</text>
<rect x="519.7" y="505.3" width="48.0" height="9.4" fill="#0a52a0"/>
<text x="338.8" y="512.7" font-size="9.6" font-weight="normal" textLength="172.8" lengthAdjust="spacingAndGlyphs" fill="#111" stroke="#111" stroke-width="0.3">Regulation of chromosome segregation</text>
<rect x="520.2" y="517.3" width="47.5" height="9.4" fill="#0a52a0"/>
<text x="408.2" y="524.6" font-size="9.6" font-weight="normal" textLength="103.4" lengthAdjust="spacingAndGlyphs" fill="#111" stroke="#111" stroke-width="0.3">Arp2/3 Actin nucleation</text>
<rect x="522.0" y="529.3" width="45.7" height="9.4" fill="#0a52a0"/>
<text x="346.1" y="536.6" font-size="9.6" font-weight="normal" textLength="166.4" lengthAdjust="spacingAndGlyphs" fill="#111" stroke="#111" stroke-width="0.3">RAF-independent MAPK1/3 activation</text>
<rect x="522.5" y="541.3" width="45.2" height="9.4" fill="#0a52a0"/>
<text x="368.8" y="548.5" font-size="9.6" font-weight="normal" textLength="144.6" lengthAdjust="spacingAndGlyphs" fill="#111" stroke="#111" stroke-width="0.3">Import into mitochondrial matrix</text>
<rect x="567.7" y="553.3" width="25.9" height="9.4" fill="#b0002a"/>
<text x="427.8" y="560.5" font-size="9.6" font-weight="normal" textLength="85.6" lengthAdjust="spacingAndGlyphs" fill="#111" stroke="#111" stroke-width="0.3">Biological oxidation</text>
<rect x="567.7" y="565.3" width="25.9" height="9.4" fill="#b0002a"/>
<text x="370.9" y="572.5" font-size="9.6" font-weight="normal" textLength="142.5" lengthAdjust="spacingAndGlyphs" fill="#111" stroke="#111" stroke-width="0.3">Extracellular matrix organization</text>
<rect x="567.7" y="577.3" width="29.4" height="9.4" fill="#b0002a"/>
<text x="351.0" y="584.4" font-size="9.6" font-weight="normal" textLength="162.4" lengthAdjust="spacingAndGlyphs" fill="#111" stroke="#111" stroke-width="0.3">Oxidative stress and REDOX pathway</text>
<rect x="567.7" y="589.3" width="43.3" height="9.4" fill="#b0002a"/>
<text x="360.1" y="596.4" font-size="9.6" font-weight="normal" textLength="153.3" lengthAdjust="spacingAndGlyphs" fill="#111" stroke="#111" stroke-width="0.3">Cell adhesion mediated by integrin</text>
<rect x="567.7" y="601.3" width="43.9" height="9.4" fill="#b0002a"/>
<text x="364.5" y="608.3" font-size="9.6" font-weight="normal" textLength="148.9" lengthAdjust="spacingAndGlyphs" fill="#111" stroke="#111" stroke-width="0.3">Positive regulation of Ca2+ transit</text>
<rect x="567.7" y="613.3" width="46.1" height="9.4" fill="#b0002a"/>
<text x="341.7" y="620.2" font-size="9.6" font-weight="normal" textLength="171.7" lengthAdjust="spacingAndGlyphs" fill="#111" stroke="#111" stroke-width="0.3">Negative regulation of autophagosome</text>
<rect x="567.7" y="625.3" width="47.8" height="9.4" fill="#b0002a"/>
<text x="338.8" y="632.2" font-size="9.6" font-weight="normal" textLength="173.7" lengthAdjust="spacingAndGlyphs" fill="#111" stroke="#111" stroke-width="0.3">N-acetylglucosamine metabolic process</text>
<rect x="567.7" y="637.3" width="48.4" height="9.4" fill="#b0002a"/>
<text x="389.9" y="644.1" font-size="9.6" font-weight="normal" textLength="123.5" lengthAdjust="spacingAndGlyphs" fill="#111" stroke="#111" stroke-width="0.3">Leukocyte cell-cell adhesion</text>
<line x1="515.6" y1="432.5" x2="515.6" y2="647.5" stroke="#000" stroke-width="1.5"/>
<line x1="515.0" y1="646.8" x2="642.4" y2="646.8" stroke="#000" stroke-width="1.5"/>
<text x="517.4" y="657.4" font-size="10.5" font-weight="bold" text-anchor="middle" textLength="17.0" lengthAdjust="spacingAndGlyphs" fill="#000" stroke="#000" stroke-width="0.2">-0.5</text>
<text x="568.4" y="657.4" font-size="10.5" font-weight="bold" text-anchor="middle" textLength="5.5" lengthAdjust="spacingAndGlyphs" fill="#000" stroke="#000" stroke-width="0.2">0</text>
<text x="602.1" y="657.4" font-size="10.5" font-weight="bold" text-anchor="middle" textLength="13.0" lengthAdjust="spacingAndGlyphs" fill="#000" stroke="#000" stroke-width="0.2">0.5</text>
<text x="519.0" y="672.0" font-size="14.5" font-weight="bold" textLength="128.0" lengthAdjust="spacingAndGlyphs" fill="#000" stroke="#000" stroke-width="0.2">Enrichment Score (ES)</text>
<defs><linearGradient id="cbar" x1="0" y1="0" x2="0" y2="1">
<stop offset="0" stop-color="#9e0030"/><stop offset="0.25" stop-color="#b8002c"/><stop offset="0.4" stop-color="#e0003a"/>
<stop offset="0.445" stop-color="#ee4a5a"/><stop offset="0.478" stop-color="#f8c4cc"/><stop offset="0.51" stop-color="#ffffff"/><stop offset="0.545" stop-color="#b0ccf0"/>
<stop offset="0.6" stop-color="#1a78e0"/><stop offset="0.8" stop-color="#1560c0"/><stop offset="1" stop-color="#1a4f9c"/>
</linearGradient></defs>
<rect x="627.3" y="497.9" width="10.1" height="92.2" fill="url(#cbar)"/>
<text x="640.4" y="502.3" font-size="9" font-weight="bold" textLength="5.0" lengthAdjust="spacingAndGlyphs" fill="#000" stroke="#000" stroke-width="0.2">3</text>
<text x="640.4" y="548.0" font-size="9" font-weight="bold" textLength="5.0" lengthAdjust="spacingAndGlyphs" fill="#000" stroke="#000" stroke-width="0.2">0</text>
<text x="639.4" y="592.8" font-size="9" font-weight="bold" textLength="8.5" lengthAdjust="spacingAndGlyphs" fill="#000" stroke="#000" stroke-width="0.2">-3</text>
<text x="602.3" y="490.3" font-size="9.2" font-weight="bold" textLength="81.8" lengthAdjust="spacingAndGlyphs" fill="#000" stroke="#000" stroke-width="0.2">-log10(pval)*sign(ES)</text>
<text x="6.1" y="718.0" font-size="17.5" textLength="14.9" lengthAdjust="spacingAndGlyphs" fill="#000" stroke="#000" stroke-width="0.2">G.</text>
<text x="75.3" y="720.7" font-size="17.8" font-weight="bold" textLength="62.5" lengthAdjust="spacingAndGlyphs" fill="#000" stroke="#000" stroke-width="0.4">Hypoxia</text>
<rect x="17.9" y="732.2" width="191.7" height="83.1" fill="#efefef"/>
<rect x="40.1" y="742.6" width="167.2" height="72.7" fill="#fff" stroke="#c8c8c8" stroke-width="0.6"/>
<text x="114.7" y="739.6" font-size="7.4" font-weight="bold" text-anchor="middle" textLength="136.5" lengthAdjust="spacingAndGlyphs" fill="#222" stroke="#222" stroke-width="0.2">Enrichment plot: HALLMARK_HYPOXIA</text>
<line x1="67.5" y1="742.6" x2="67.5" y2="815.3" stroke="#e4e4e4" stroke-width="0.5"/>
<line x1="94.6" y1="742.6" x2="94.6" y2="815.3" stroke="#e4e4e4" stroke-width="0.5"/>
<line x1="122.5" y1="742.6" x2="122.5" y2="815.3" stroke="#e4e4e4" stroke-width="0.5"/>
<line x1="150.0" y1="742.6" x2="150.0" y2="815.3" stroke="#e4e4e4" stroke-width="0.5"/>
<line x1="177.4" y1="742.6" x2="177.4" y2="815.3" stroke="#e4e4e4" stroke-width="0.5"/>
<line x1="40.1" y1="744.4" x2="207.3" y2="744.4" stroke="#e4e4e4" stroke-width="0.5"/>
<line x1="38.1" y1="744.4" x2="40.1" y2="744.4" stroke="#888" stroke-width="0.6"/>
<text x="37.3" y="746.3" font-size="5.2" font-weight="normal" text-anchor="end" textLength="6.9" lengthAdjust="spacingAndGlyphs" fill="#808080">0.5</text>
<line x1="40.1" y1="757.7" x2="207.3" y2="757.7" stroke="#e4e4e4" stroke-width="0.5"/>
<line x1="38.1" y1="757.7" x2="40.1" y2="757.7" stroke="#888" stroke-width="0.6"/>
<text x="37.3" y="759.6" font-size="5.2" font-weight="normal" text-anchor="end" textLength="6.9" lengthAdjust="spacingAndGlyphs" fill="#808080">0.4</text>
<line x1="40.1" y1="771.1" x2="207.3" y2="771.1" stroke="#e4e4e4" stroke-width="0.5"/>
<line x1="38.1" y1="771.1" x2="40.1" y2="771.1" stroke="#888" stroke-width="0.6"/>
<text x="37.3" y="773.0" font-size="5.2" font-weight="normal" text-anchor="end" textLength="6.9" lengthAdjust="spacingAndGlyphs" fill="#808080">0.3</text>
<line x1="40.1" y1="784.5" x2="207.3" y2="784.5" stroke="#e4e4e4" stroke-width="0.5"/>
<line x1="38.1" y1="784.5" x2="40.1" y2="784.5" stroke="#888" stroke-width="0.6"/>
<text x="37.3" y="786.4" font-size="5.2" font-weight="normal" text-anchor="end" textLength="6.9" lengthAdjust="spacingAndGlyphs" fill="#808080">0.2</text>
<line x1="40.1" y1="797.8" x2="207.3" y2="797.8" stroke="#e4e4e4" stroke-width="0.5"/>
<line x1="38.1" y1="797.8" x2="40.1" y2="797.8" stroke="#888" stroke-width="0.6"/>
<text x="37.3" y="799.7" font-size="5.2" font-weight="normal" text-anchor="end" textLength="6.9" lengthAdjust="spacingAndGlyphs" fill="#808080">0.1</text>
<line x1="40.1" y1="811.2" x2="207.3" y2="811.2" stroke="#e4e4e4" stroke-width="0.5"/>
<line x1="38.1" y1="811.2" x2="40.1" y2="811.2" stroke="#888" stroke-width="0.6"/>
<text x="37.3" y="813.1" font-size="5.2" font-weight="normal" text-anchor="end" textLength="6.9" lengthAdjust="spacingAndGlyphs" fill="#808080">0.0</text>
<line x1="40.1" y1="811.2" x2="207.3" y2="811.2" stroke="#9a9a9a" stroke-width="0.8"/>
<text x="28.0" y="779.8" font-size="5.8" font-weight="bold" text-anchor="middle" textLength="59.0" lengthAdjust="spacingAndGlyphs" fill="#333" transform="rotate(-90 28.0 779.8)">Enrichment score (ES)</text>
<path d="M40.5,811.0 L41.0,790.0 L41.5,770.0 L42.0,763.0 L43.5,762.5 L45.0,765.0 L46.0,762.0 L47.0,759.5 L49.0,758.5 L50.5,757.0 L52.0,754.0 L54.0,751.5 L56.0,750.0 L58.0,748.5 L60.0,749.5 L62.0,748.3 L65.0,747.8 L67.0,747.0 L69.0,746.3 L70.5,746.8 L72.0,745.6 L74.0,747.0 L77.0,749.5 L80.0,752.0 L84.0,754.0 L88.0,756.0 L93.0,758.5 L98.0,761.5 L102.6,764.5 L108.0,768.0 L115.0,772.5 L122.0,777.5 L130.0,784.7 L135.0,789.0 L140.7,793.6 L146.0,797.5 L151.4,801.3 L157.0,805.0 L162.0,808.0 L166.7,810.8 L169.0,810.0 L171.3,809.4 L174.0,811.0 L177.4,812.3 L179.0,812.8 L181.3,813.5 L183.0,811.5 L185.0,810.5 L188.2,808.8 L190.0,810.0 L192.0,809.5 L194.0,810.3 L196.6,808.8 L198.0,810.5 L199.7,811.3" fill="none" stroke="#1fe61f" stroke-width="1.5" stroke-linejoin="round"/>
<rect x="40.1" y="818.5" width="167.2" height="31.3" fill="#fff" stroke="#d0d0d0" stroke-width="0.5"/>
<rect x="40.30" y="818.5" width="1.60" height="24.7" fill="rgb(60,60,60)"/><rect x="41.90" y="818.5" width="1.00" height="24.7" fill="rgb(205,205,205)"/><rect x="42.90" y="818.5" width="1.60" height="24.7" fill="rgb(110,110,110)"/><rect x="44.50" y="818.5" width="2.50" height="24.7" fill="rgb(110,110,110)"/><rect x="47.00" y="818.5" width="1.00" height="24.7" fill="rgb(110,110,110)"/><rect x="48.00" y="818.5" width="2.50" height="24.7" fill="rgb(0,0,0)"/><rect x="53.00" y="818.5" width="1.60" height="24.7" fill="rgb(0,0,0)"/><rect x="54.60" y="818.5" width="0.80" height="24.7" fill="rgb(160,160,160)"/><rect x="55.40" y="818.5" width="0.80" height="24.7" fill="rgb(160,160,160)"/><rect x="56.20" y="818.5" width="1.60" height="24.7" fill="rgb(0,0,0)"/><rect x="57.80" y="818.5" width="1.00" height="24.7" fill="rgb(160,160,160)"/><rect x="58.80" y="818.5" width="1.00" height="24.7" fill="rgb(110,110,110)"/><rect x="60.80" y="818.5" width="1.00" height="24.7" fill="rgb(160,160,160)"/><rect x="61.80" y="818.5" width="2.00" height="24.7" fill="rgb(160,160,160)"/><rect x="63.80" y="818.5" width="2.00" height="24.7" fill="rgb(0,0,0)"/><rect x="68.30" y="818.5" width="1.30" height="24.7" fill="rgb(160,160,160)"/><rect x="69.60" y="818.5" width="1.00" height="24.7" fill="rgb(110,110,110)"/><rect x="70.60" y="818.5" width="2.00" height="24.7" fill="rgb(110,110,110)"/><rect x="72.60" y="818.5" width="1.30" height="24.7" fill="rgb(110,110,110)"/><rect x="73.90" y="818.5" width="1.00" height="24.7" fill="rgb(0,0,0)"/><rect x="74.90" y="818.5" width="1.00" height="24.7" fill="rgb(160,160,160)"/><rect x="75.90" y="818.5" width="1.00" height="24.7" fill="rgb(110,110,110)"/><rect x="76.90" y="818.5" width="0.80" height="24.7" fill="rgb(110,110,110)"/><rect x="77.70" y="818.5" width="2.00" height="24.7" fill="rgb(110,110,110)"/><rect x="79.70" y="818.5" width="1.60" height="24.7" fill="rgb(160,160,160)"/><rect x="82.60" y="818.5" width="1.00" height="24.7" fill="rgb(0,0,0)"/><rect x="84.90" y="818.5" width="1.60" height="24.7" fill="rgb(60,60,60)"/><rect x="86.50" y="818.5" width="2.50" height="24.7" fill="rgb(0,0,0)"/><rect x="90.00" y="818.5" width="0.80" height="24.7" fill="rgb(110,110,110)"/><rect x="90.80" y="818.5" width="2.00" height="24.7" fill="rgb(0,0,0)"/><rect x="94.40" y="818.5" width="1.00" height="24.7" fill="rgb(110,110,110)"/><rect x="95.40" y="818.5" width="2.00" height="24.7" fill="rgb(110,110,110)"/><rect x="97.40" y="818.5" width="1.00" height="24.7" fill="rgb(0,0,0)"/><rect x="98.40" y="818.5" width="2.00" height="24.7" fill="rgb(0,0,0)"/><rect x="102.40" y="818.5" width="0.80" height="24.7" fill="rgb(60,60,60)"/><rect x="103.20" y="818.5" width="1.30" height="24.7" fill="rgb(0,0,0)"/><rect x="104.50" y="818.5" width="1.00" height="24.7" fill="rgb(110,110,110)"/><rect x="105.50" y="818.5" width="1.60" height="24.7" fill="rgb(60,60,60)"/><rect x="107.10" y="818.5" width="1.00" height="24.7" fill="rgb(160,160,160)"/><rect x="108.10" y="818.5" width="2.00" height="24.7" fill="rgb(110,110,110)"/><rect x="110.10" y="818.5" width="2.50" height="24.7" fill="rgb(0,0,0)"/><rect x="112.60" y="818.5" width="0.80" height="24.7" fill="rgb(160,160,160)"/><rect x="113.40" y="818.5" width="0.80" height="24.7" fill="rgb(60,60,60)"/><rect x="114.20" y="818.5" width="1.30" height="24.7" fill="rgb(160,160,160)"/><rect x="116.50" y="818.5" width="1.00" height="24.7" fill="rgb(110,110,110)"/><rect x="117.50" y="818.5" width="0.80" height="24.7" fill="rgb(110,110,110)"/><rect x="122.40" y="818.5" width="0.80" height="24.7" fill="rgb(110,110,110)"/><rect x="125.20" y="818.5" width="2.50" height="24.7" fill="rgb(160,160,160)"/><rect x="127.70" y="818.5" width="1.30" height="24.7" fill="rgb(0,0,0)"/><rect x="129.00" y="818.5" width="2.50" height="24.7" fill="rgb(0,0,0)"/><rect x="131.50" y="818.5" width="1.30" height="24.7" fill="rgb(0,0,0)"/><rect x="132.80" y="818.5" width="1.60" height="24.7" fill="rgb(0,0,0)"/><rect x="134.40" y="818.5" width="1.60" height="24.7" fill="rgb(205,205,205)"/><rect x="138.00" y="818.5" width="1.30" height="24.7" fill="rgb(110,110,110)"/><rect x="139.30" y="818.5" width="1.30" height="24.7" fill="rgb(0,0,0)"/><rect x="142.60" y="818.5" width="1.60" height="24.7" fill="rgb(160,160,160)"/><rect x="144.20" y="818.5" width="1.30" height="24.7" fill="rgb(60,60,60)"/><rect x="145.50" y="818.5" width="1.00" height="24.7" fill="rgb(110,110,110)"/><rect x="146.50" y="818.5" width="1.30" height="24.7" fill="rgb(160,160,160)"/><rect x="147.80" y="818.5" width="1.60" height="24.7" fill="rgb(0,0,0)"/><rect x="150.40" y="818.5" width="1.00" height="24.7" fill="rgb(60,60,60)"/><rect x="151.40" y="818.5" width="1.60" height="24.7" fill="rgb(60,60,60)"/><rect x="153.00" y="818.5" width="1.60" height="24.7" fill="rgb(160,160,160)"/><rect x="154.60" y="818.5" width="2.50" height="24.7" fill="rgb(110,110,110)"/><rect x="157.10" y="818.5" width="1.60" height="24.7" fill="rgb(0,0,0)"/><rect x="162.20" y="818.5" width="1.00" height="24.7" fill="rgb(0,0,0)"/><rect x="164.00" y="818.5" width="1.30" height="24.7" fill="rgb(160,160,160)"/><rect x="165.30" y="818.5" width="1.60" height="24.7" fill="rgb(160,160,160)"/><rect x="166.90" y="818.5" width="2.50" height="24.7" fill="rgb(110,110,110)"/><rect x="169.40" y="818.5" width="1.30" height="24.7" fill="rgb(0,0,0)"/><rect x="170.70" y="818.5" width="1.30" height="24.7" fill="rgb(110,110,110)"/><rect x="172.00" y="818.5" width="1.30" height="24.7" fill="rgb(110,110,110)"/><rect x="174.90" y="818.5" width="0.80" height="24.7" fill="rgb(160,160,160)"/><rect x="175.70" y="818.5" width="1.00" height="24.7" fill="rgb(160,160,160)"/><rect x="176.70" y="818.5" width="1.00" height="24.7" fill="rgb(160,160,160)"/><rect x="177.70" y="818.5" width="1.00" height="24.7" fill="rgb(0,0,0)"/><rect x="178.70" y="818.5" width="1.00" height="24.7" fill="rgb(110,110,110)"/><rect x="179.70" y="818.5" width="0.80" height="24.7" fill="rgb(160,160,160)"/><rect x="180.50" y="818.5" width="1.30" height="24.7" fill="rgb(0,0,0)"/><rect x="181.80" y="818.5" width="0.80" height="24.7" fill="rgb(60,60,60)"/><rect x="182.60" y="818.5" width="0.80" height="24.7" fill="rgb(0,0,0)"/><rect x="184.40" y="818.5" width="2.00" height="24.7" fill="rgb(110,110,110)"/><rect x="186.40" y="818.5" width="0.80" height="24.7" fill="rgb(110,110,110)"/><rect x="187.20" y="818.5" width="2.50" height="24.7" fill="rgb(110,110,110)"/><rect x="189.70" y="818.5" width="1.30" height="24.7" fill="rgb(0,0,0)"/><rect x="193.00" y="818.5" width="2.50" height="24.7" fill="rgb(160,160,160)"/><rect x="195.50" y="818.5" width="1.50" height="24.7" fill="rgb(110,110,110)"/>
<defs><linearGradient id="Ggrad" x1="0" y1="0" x2="1" y2="0"><stop offset="0.000" stop-color="#ee3a44"/><stop offset="0.100" stop-color="#f04a58"/><stop offset="0.200" stop-color="#e86474"/><stop offset="0.240" stop-color="#f08080"/><stop offset="0.295" stop-color="#e87878"/><stop offset="0.305" stop-color="#f0b4de"/><stop offset="0.500" stop-color="#f4b8e4"/><stop offset="0.515" stop-color="#d4d4f8"/><stop offset="0.780" stop-color="#c8c8f4"/><stop offset="0.795" stop-color="#7070e8"/><stop offset="0.940" stop-color="#4848e0"/><stop offset="0.955" stop-color="#1818c8"/><stop offset="1.000" stop-color="#1010c0"/></linearGradient></defs>
<rect x="40.1" y="843.2" width="159.4" height="6.1" fill="url(#Ggrad)"/>
<text x="129.9" y="763.3" font-size="11.4" font-weight="bold" textLength="42.2" lengthAdjust="spacingAndGlyphs" fill="#000" stroke="#000" stroke-width="0.2">NES 1.5</text>
<text x="129.9" y="779.3" font-size="11.4" font-weight="bold" textLength="75.1" lengthAdjust="spacingAndGlyphs" fill="#000" stroke="#000" stroke-width="0.2">P-value 0.001</text>
<text x="41.4" y="861.0" font-size="13.2" font-weight="bold" textLength="44.9" lengthAdjust="spacingAndGlyphs" fill="#f81a1a" stroke="#f81a1a" stroke-width="0.35">siPARP1</text>
<text x="160.3" y="861.0" font-size="13.2" font-weight="bold" textLength="40.7" lengthAdjust="spacingAndGlyphs" fill="#4472c4" stroke="#4472c4" stroke-width="0.35">SCRAM</text>
<text x="230.6" y="713.3" font-size="17.5" textLength="15.3" lengthAdjust="spacingAndGlyphs" fill="#000" stroke="#000" stroke-width="0.2">H.</text>
<text x="296.5" y="720.5" font-size="17.8" font-weight="bold" textLength="92.4" lengthAdjust="spacingAndGlyphs" fill="#000" stroke="#000" stroke-width="0.4">Myogenesis</text>
<rect x="246.2" y="733.4" width="193.0" height="87.1" fill="#efefef"/>
<rect x="269.6" y="743.6" width="166.7" height="76.9" fill="#fff" stroke="#c8c8c8" stroke-width="0.6"/>
<text x="343.2" y="741.1" font-size="7.4" font-weight="bold" text-anchor="middle" textLength="149.7" lengthAdjust="spacingAndGlyphs" fill="#222" stroke="#222" stroke-width="0.2">Enrichment plot: HALLMARK_MYOGENESIS</text>
<line x1="297.0" y1="743.6" x2="297.0" y2="820.5" stroke="#e4e4e4" stroke-width="0.5"/>
<line x1="324.5" y1="743.6" x2="324.5" y2="820.5" stroke="#e4e4e4" stroke-width="0.5"/>
<line x1="352.0" y1="743.6" x2="352.0" y2="820.5" stroke="#e4e4e4" stroke-width="0.5"/>
<line x1="379.5" y1="743.6" x2="379.5" y2="820.5" stroke="#e4e4e4" stroke-width="0.5"/>
<line x1="407.0" y1="743.6" x2="407.0" y2="820.5" stroke="#e4e4e4" stroke-width="0.5"/>
<line x1="269.6" y1="751.0" x2="436.3" y2="751.0" stroke="#e4e4e4" stroke-width="0.5"/>
<line x1="267.6" y1="751.0" x2="269.6" y2="751.0" stroke="#888" stroke-width="0.6"/>
<text x="266.8" y="752.9" font-size="5.2" font-weight="normal" text-anchor="end" textLength="6.9" lengthAdjust="spacingAndGlyphs" fill="#808080">0.4</text>
<line x1="269.6" y1="764.7" x2="436.3" y2="764.7" stroke="#e4e4e4" stroke-width="0.5"/>
<line x1="267.6" y1="764.7" x2="269.6" y2="764.7" stroke="#888" stroke-width="0.6"/>
<text x="266.8" y="766.6" font-size="5.2" font-weight="normal" text-anchor="end" textLength="6.9" lengthAdjust="spacingAndGlyphs" fill="#808080">0.3</text>
<line x1="269.6" y1="778.3" x2="436.3" y2="778.3" stroke="#e4e4e4" stroke-width="0.5"/>
<line x1="267.6" y1="778.3" x2="269.6" y2="778.3" stroke="#888" stroke-width="0.6"/>
<text x="266.8" y="780.2" font-size="5.2" font-weight="normal" text-anchor="end" textLength="6.9" lengthAdjust="spacingAndGlyphs" fill="#808080">0.2</text>
<line x1="269.6" y1="792.0" x2="436.3" y2="792.0" stroke="#e4e4e4" stroke-width="0.5"/>
<line x1="267.6" y1="792.0" x2="269.6" y2="792.0" stroke="#888" stroke-width="0.6"/>
<text x="266.8" y="793.9" font-size="5.2" font-weight="normal" text-anchor="end" textLength="6.9" lengthAdjust="spacingAndGlyphs" fill="#808080">0.1</text>
<line x1="269.6" y1="805.6" x2="436.3" y2="805.6" stroke="#e4e4e4" stroke-width="0.5"/>
<line x1="267.6" y1="805.6" x2="269.6" y2="805.6" stroke="#888" stroke-width="0.6"/>
<text x="266.8" y="807.5" font-size="5.2" font-weight="normal" text-anchor="end" textLength="6.9" lengthAdjust="spacingAndGlyphs" fill="#808080">0.0</text>
<line x1="269.6" y1="819.3" x2="436.3" y2="819.3" stroke="#e4e4e4" stroke-width="0.5"/>
<line x1="267.6" y1="819.3" x2="269.6" y2="819.3" stroke="#888" stroke-width="0.6"/>
<text x="266.8" y="821.2" font-size="5.2" font-weight="normal" text-anchor="end" textLength="9.2" lengthAdjust="spacingAndGlyphs" fill="#808080">-0.1</text>
<line x1="269.6" y1="805.6" x2="436.3" y2="805.6" stroke="#9a9a9a" stroke-width="0.8"/>
<text x="256.3" y="782.0" font-size="5.8" font-weight="bold" text-anchor="middle" textLength="59.0" lengthAdjust="spacingAndGlyphs" fill="#333" transform="rotate(-90 256.3 782.0)">Enrichment score (ES)</text>
<path d="M270.3,794.4 L271.5,790.0 L273.0,782.0 L274.0,776.7 L275.6,768.7 L277.0,766.0 L278.8,763.0 L280.5,758.0 L282.8,752.6 L285.2,750.2 L287.0,750.8 L289.2,751.5 L290.8,748.9 L293.0,749.0 L295.7,748.1 L298.0,748.8 L299.5,750.0 L301.3,749.1 L305.0,751.0 L310.1,754.2 L315.0,757.0 L319.7,760.2 L325.0,763.5 L330.0,766.5 L335.0,771.1 L340.0,775.5 L345.0,780.5 L350.1,785.8 L355.0,789.5 L360.0,792.5 L365.3,795.4 L370.0,799.0 L375.0,802.5 L379.0,804.5 L383.0,805.6 L387.0,808.0 L391.0,810.5 L395.8,813.1 L398.0,814.0 L400.7,814.7 L404.0,815.5 L407.0,815.2 L409.5,816.0 L410.5,814.5 L411.9,810.7 L413.5,812.0 L415.0,810.5 L417.0,811.5 L419.1,807.5 L421.0,809.0 L423.0,808.5 L425.0,810.5 L426.4,812.3 L427.5,808.0 L428.0,805.1" fill="none" stroke="#1fe61f" stroke-width="1.5" stroke-linejoin="round"/>
<rect x="269.8" y="820.5" width="166.0" height="29.8" fill="#fff" stroke="#d0d0d0" stroke-width="0.5"/>
<rect x="270.00" y="820.5" width="2.00" height="24.7" fill="rgb(160,160,160)"/><rect x="272.00" y="820.5" width="1.00" height="24.7" fill="rgb(0,0,0)"/><rect x="273.00" y="820.5" width="0.80" height="24.7" fill="rgb(110,110,110)"/><rect x="273.80" y="820.5" width="2.50" height="24.7" fill="rgb(0,0,0)"/><rect x="277.60" y="820.5" width="1.00" height="24.7" fill="rgb(110,110,110)"/><rect x="278.60" y="820.5" width="1.30" height="24.7" fill="rgb(60,60,60)"/><rect x="279.90" y="820.5" width="2.50" height="24.7" fill="rgb(60,60,60)"/><rect x="282.40" y="820.5" width="1.60" height="24.7" fill="rgb(110,110,110)"/><rect x="284.00" y="820.5" width="1.30" height="24.7" fill="rgb(60,60,60)"/><rect x="285.30" y="820.5" width="1.30" height="24.7" fill="rgb(60,60,60)"/><rect x="286.60" y="820.5" width="0.80" height="24.7" fill="rgb(60,60,60)"/><rect x="287.40" y="820.5" width="1.00" height="24.7" fill="rgb(110,110,110)"/><rect x="290.00" y="820.5" width="1.00" height="24.7" fill="rgb(110,110,110)"/><rect x="291.00" y="820.5" width="1.00" height="24.7" fill="rgb(60,60,60)"/><rect x="292.00" y="820.5" width="2.00" height="24.7" fill="rgb(110,110,110)"/><rect x="294.00" y="820.5" width="2.00" height="24.7" fill="rgb(110,110,110)"/><rect x="296.00" y="820.5" width="1.60" height="24.7" fill="rgb(0,0,0)"/><rect x="297.60" y="820.5" width="2.50" height="24.7" fill="rgb(160,160,160)"/><rect x="300.10" y="820.5" width="1.60" height="24.7" fill="rgb(60,60,60)"/><rect x="301.70" y="820.5" width="2.50" height="24.7" fill="rgb(0,0,0)"/><rect x="304.20" y="820.5" width="1.60" height="24.7" fill="rgb(0,0,0)"/><rect x="306.80" y="820.5" width="2.50" height="24.7" fill="rgb(160,160,160)"/><rect x="310.30" y="820.5" width="1.30" height="24.7" fill="rgb(110,110,110)"/><rect x="315.70" y="820.5" width="1.00" height="24.7" fill="rgb(160,160,160)"/><rect x="316.70" y="820.5" width="1.00" height="24.7" fill="rgb(160,160,160)"/><rect x="317.70" y="820.5" width="1.30" height="24.7" fill="rgb(160,160,160)"/><rect x="319.00" y="820.5" width="1.00" height="24.7" fill="rgb(110,110,110)"/><rect x="320.00" y="820.5" width="1.00" height="24.7" fill="rgb(110,110,110)"/><rect x="321.00" y="820.5" width="2.50" height="24.7" fill="rgb(0,0,0)"/><rect x="323.50" y="820.5" width="1.60" height="24.7" fill="rgb(160,160,160)"/><rect x="325.10" y="820.5" width="1.00" height="24.7" fill="rgb(0,0,0)"/><rect x="326.10" y="820.5" width="1.60" height="24.7" fill="rgb(110,110,110)"/><rect x="327.70" y="820.5" width="2.00" height="24.7" fill="rgb(0,0,0)"/><rect x="329.70" y="820.5" width="1.60" height="24.7" fill="rgb(160,160,160)"/><rect x="331.30" y="820.5" width="2.50" height="24.7" fill="rgb(110,110,110)"/><rect x="333.80" y="820.5" width="1.60" height="24.7" fill="rgb(110,110,110)"/><rect x="335.40" y="820.5" width="2.00" height="24.7" fill="rgb(0,0,0)"/><rect x="337.40" y="820.5" width="2.00" height="24.7" fill="rgb(160,160,160)"/><rect x="339.40" y="820.5" width="1.30" height="24.7" fill="rgb(205,205,205)"/><rect x="340.70" y="820.5" width="2.50" height="24.7" fill="rgb(160,160,160)"/><rect x="343.20" y="820.5" width="0.80" height="24.7" fill="rgb(0,0,0)"/><rect x="344.00" y="820.5" width="0.80" height="24.7" fill="rgb(205,205,205)"/><rect x="344.80" y="820.5" width="2.50" height="24.7" fill="rgb(160,160,160)"/><rect x="347.30" y="820.5" width="0.80" height="24.7" fill="rgb(110,110,110)"/><rect x="348.10" y="820.5" width="1.30" height="24.7" fill="rgb(160,160,160)"/><rect x="349.40" y="820.5" width="1.00" height="24.7" fill="rgb(110,110,110)"/><rect x="350.40" y="820.5" width="2.00" height="24.7" fill="rgb(160,160,160)"/><rect x="352.40" y="820.5" width="0.80" height="24.7" fill="rgb(160,160,160)"/><rect x="357.80" y="820.5" width="1.60" height="24.7" fill="rgb(205,205,205)"/><rect x="359.40" y="820.5" width="1.60" height="24.7" fill="rgb(205,205,205)"/><rect x="361.00" y="820.5" width="1.00" height="24.7" fill="rgb(160,160,160)"/><rect x="362.00" y="820.5" width="2.50" height="24.7" fill="rgb(160,160,160)"/><rect x="364.50" y="820.5" width="2.00" height="24.7" fill="rgb(0,0,0)"/><rect x="366.50" y="820.5" width="1.00" height="24.7" fill="rgb(160,160,160)"/><rect x="368.50" y="820.5" width="2.50" height="24.7" fill="rgb(0,0,0)"/><rect x="371.00" y="820.5" width="1.00" height="24.7" fill="rgb(60,60,60)"/><rect x="372.00" y="820.5" width="1.00" height="24.7" fill="rgb(0,0,0)"/><rect x="374.30" y="820.5" width="0.80" height="24.7" fill="rgb(60,60,60)"/><rect x="375.10" y="820.5" width="1.60" height="24.7" fill="rgb(60,60,60)"/><rect x="378.00" y="820.5" width="2.00" height="24.7" fill="rgb(110,110,110)"/><rect x="380.00" y="820.5" width="0.80" height="24.7" fill="rgb(160,160,160)"/><rect x="380.80" y="820.5" width="0.80" height="24.7" fill="rgb(0,0,0)"/><rect x="381.60" y="820.5" width="1.60" height="24.7" fill="rgb(110,110,110)"/><rect x="383.20" y="820.5" width="2.00" height="24.7" fill="rgb(110,110,110)"/><rect x="385.20" y="820.5" width="0.80" height="24.7" fill="rgb(110,110,110)"/><rect x="386.00" y="820.5" width="2.00" height="24.7" fill="rgb(110,110,110)"/><rect x="389.00" y="820.5" width="1.00" height="24.7" fill="rgb(110,110,110)"/><rect x="390.00" y="820.5" width="0.80" height="24.7" fill="rgb(110,110,110)"/><rect x="391.80" y="820.5" width="2.50" height="24.7" fill="rgb(160,160,160)"/><rect x="394.30" y="820.5" width="1.30" height="24.7" fill="rgb(60,60,60)"/><rect x="395.60" y="820.5" width="2.50" height="24.7" fill="rgb(110,110,110)"/><rect x="398.10" y="820.5" width="1.30" height="24.7" fill="rgb(110,110,110)"/><rect x="399.40" y="820.5" width="1.30" height="24.7" fill="rgb(160,160,160)"/><rect x="400.70" y="820.5" width="1.00" height="24.7" fill="rgb(60,60,60)"/><rect x="401.70" y="820.5" width="2.00" height="24.7" fill="rgb(110,110,110)"/><rect x="403.70" y="820.5" width="1.00" height="24.7" fill="rgb(60,60,60)"/><rect x="404.70" y="820.5" width="2.00" height="24.7" fill="rgb(0,0,0)"/><rect x="406.70" y="820.5" width="1.60" height="24.7" fill="rgb(0,0,0)"/><rect x="408.30" y="820.5" width="1.00" height="24.7" fill="rgb(110,110,110)"/><rect x="409.30" y="820.5" width="0.80" height="24.7" fill="rgb(0,0,0)"/><rect x="410.10" y="820.5" width="2.00" height="24.7" fill="rgb(110,110,110)"/><rect x="412.10" y="820.5" width="1.00" height="24.7" fill="rgb(160,160,160)"/><rect x="413.10" y="820.5" width="1.30" height="24.7" fill="rgb(110,110,110)"/><rect x="414.40" y="820.5" width="0.80" height="24.7" fill="rgb(60,60,60)"/><rect x="416.00" y="820.5" width="2.50" height="24.7" fill="rgb(60,60,60)"/><rect x="418.50" y="820.5" width="2.50" height="24.7" fill="rgb(60,60,60)"/><rect x="421.00" y="820.5" width="1.30" height="24.7" fill="rgb(110,110,110)"/><rect x="422.30" y="820.5" width="1.30" height="24.7" fill="rgb(0,0,0)"/><rect x="423.60" y="820.5" width="2.00" height="24.7" fill="rgb(0,0,0)"/><rect x="425.60" y="820.5" width="1.00" height="24.7" fill="rgb(60,60,60)"/><rect x="426.60" y="820.5" width="0.90" height="24.7" fill="rgb(110,110,110)"/>
<defs><linearGradient id="Hgrad" x1="0" y1="0" x2="1" y2="0"><stop offset="0.000" stop-color="#ee3a44"/><stop offset="0.100" stop-color="#f04a58"/><stop offset="0.200" stop-color="#e86474"/><stop offset="0.240" stop-color="#f08080"/><stop offset="0.295" stop-color="#e87878"/><stop offset="0.305" stop-color="#f0b4de"/><stop offset="0.500" stop-color="#f4b8e4"/><stop offset="0.515" stop-color="#d4d4f8"/><stop offset="0.780" stop-color="#c8c8f4"/><stop offset="0.795" stop-color="#7070e8"/><stop offset="0.940" stop-color="#4848e0"/><stop offset="0.955" stop-color="#1818c8"/><stop offset="1.000" stop-color="#1010c0"/></linearGradient></defs>
<rect x="269.8" y="845.2" width="158.5" height="4.6" fill="url(#Hgrad)"/>
<text x="353.8" y="764.1" font-size="11.4" font-weight="bold" textLength="41.3" lengthAdjust="spacingAndGlyphs" fill="#000" stroke="#000" stroke-width="0.2">NES 1.3</text>
<text x="353.8" y="780.2" font-size="11.4" font-weight="bold" textLength="75.0" lengthAdjust="spacingAndGlyphs" fill="#000" stroke="#000" stroke-width="0.2">P-value 0.052</text>
<text x="269.1" y="861.1" font-size="13.2" font-weight="bold" textLength="44.5" lengthAdjust="spacingAndGlyphs" fill="#f81a1a" stroke="#f81a1a" stroke-width="0.35">siPARP1</text>
<text x="388.7" y="861.1" font-size="13.2" font-weight="bold" textLength="39.8" lengthAdjust="spacingAndGlyphs" fill="#4472c4" stroke="#4472c4" stroke-width="0.35">SCRAM</text>
<text x="463.2" y="712.5" font-size="17.5" textLength="7.2" lengthAdjust="spacingAndGlyphs" fill="#000" stroke="#000" stroke-width="0.2">I.</text>
<text x="511.1" y="720.8" font-size="17.8" font-weight="bold" textLength="110.3" lengthAdjust="spacingAndGlyphs" fill="#000" stroke="#000" stroke-width="0.4">TNFa via NFkB</text>
<rect x="473.7" y="727.5" width="191.4" height="87.8" fill="#efefef"/>
<rect x="499.8" y="746.3" width="164.4" height="69.0" fill="#fff" stroke="#c8c8c8" stroke-width="0.6"/>
<text x="569.5" y="734.7" font-size="7.4" font-weight="bold" text-anchor="middle" textLength="59.3" lengthAdjust="spacingAndGlyphs" fill="#222" stroke="#222" stroke-width="0.2">Enrichment plot:</text>
<text x="570.0" y="743.2" font-size="7.4" font-weight="bold" text-anchor="middle" textLength="140.7" lengthAdjust="spacingAndGlyphs" fill="#222" stroke="#222" stroke-width="0.2">HALLMARK_TNFA_SIGNALING_VIA_NFKB</text>
<line x1="527.0" y1="746.3" x2="527.0" y2="815.3" stroke="#e4e4e4" stroke-width="0.5"/>
<line x1="554.0" y1="746.3" x2="554.0" y2="815.3" stroke="#e4e4e4" stroke-width="0.5"/>
<line x1="581.0" y1="746.3" x2="581.0" y2="815.3" stroke="#e4e4e4" stroke-width="0.5"/>
<line x1="608.0" y1="746.3" x2="608.0" y2="815.3" stroke="#e4e4e4" stroke-width="0.5"/>
<line x1="635.0" y1="746.3" x2="635.0" y2="815.3" stroke="#e4e4e4" stroke-width="0.5"/>
<line x1="499.8" y1="752.3" x2="664.2" y2="752.3" stroke="#e4e4e4" stroke-width="0.5"/>
<line x1="497.8" y1="752.3" x2="499.8" y2="752.3" stroke="#888" stroke-width="0.6"/>
<text x="497.0" y="754.2" font-size="5.2" font-weight="normal" text-anchor="end" textLength="9.6" lengthAdjust="spacingAndGlyphs" fill="#808080">0.00</text>
<line x1="499.8" y1="759.6" x2="664.2" y2="759.6" stroke="#e4e4e4" stroke-width="0.5"/>
<line x1="497.8" y1="759.6" x2="499.8" y2="759.6" stroke="#888" stroke-width="0.6"/>
<text x="497.0" y="761.5" font-size="5.2" font-weight="normal" text-anchor="end" textLength="12.0" lengthAdjust="spacingAndGlyphs" fill="#808080">-0.05</text>
<line x1="499.8" y1="766.9" x2="664.2" y2="766.9" stroke="#e4e4e4" stroke-width="0.5"/>
<line x1="497.8" y1="766.9" x2="499.8" y2="766.9" stroke="#888" stroke-width="0.6"/>
<text x="497.0" y="768.8" font-size="5.2" font-weight="normal" text-anchor="end" textLength="12.0" lengthAdjust="spacingAndGlyphs" fill="#808080">-0.10</text>
<line x1="499.8" y1="774.3" x2="664.2" y2="774.3" stroke="#e4e4e4" stroke-width="0.5"/>
<line x1="497.8" y1="774.3" x2="499.8" y2="774.3" stroke="#888" stroke-width="0.6"/>
<text x="497.0" y="776.2" font-size="5.2" font-weight="normal" text-anchor="end" textLength="12.0" lengthAdjust="spacingAndGlyphs" fill="#808080">-0.15</text>
<line x1="499.8" y1="781.6" x2="664.2" y2="781.6" stroke="#e4e4e4" stroke-width="0.5"/>
<line x1="497.8" y1="781.6" x2="499.8" y2="781.6" stroke="#888" stroke-width="0.6"/>
<text x="497.0" y="783.5" font-size="5.2" font-weight="normal" text-anchor="end" textLength="12.0" lengthAdjust="spacingAndGlyphs" fill="#808080">-0.20</text>
<line x1="499.8" y1="788.9" x2="664.2" y2="788.9" stroke="#e4e4e4" stroke-width="0.5"/>
<line x1="497.8" y1="788.9" x2="499.8" y2="788.9" stroke="#888" stroke-width="0.6"/>
<text x="497.0" y="790.8" font-size="5.2" font-weight="normal" text-anchor="end" textLength="12.0" lengthAdjust="spacingAndGlyphs" fill="#808080">-0.25</text>
<line x1="499.8" y1="796.2" x2="664.2" y2="796.2" stroke="#e4e4e4" stroke-width="0.5"/>
<line x1="497.8" y1="796.2" x2="499.8" y2="796.2" stroke="#888" stroke-width="0.6"/>
<text x="497.0" y="798.1" font-size="5.2" font-weight="normal" text-anchor="end" textLength="12.0" lengthAdjust="spacingAndGlyphs" fill="#808080">-0.30</text>
<line x1="499.8" y1="803.6" x2="664.2" y2="803.6" stroke="#e4e4e4" stroke-width="0.5"/>
<line x1="497.8" y1="803.6" x2="499.8" y2="803.6" stroke="#888" stroke-width="0.6"/>
<text x="497.0" y="805.5" font-size="5.2" font-weight="normal" text-anchor="end" textLength="12.0" lengthAdjust="spacingAndGlyphs" fill="#808080">-0.35</text>
<line x1="499.8" y1="810.9" x2="664.2" y2="810.9" stroke="#e4e4e4" stroke-width="0.5"/>
<line x1="497.8" y1="810.9" x2="499.8" y2="810.9" stroke="#888" stroke-width="0.6"/>
<text x="497.0" y="812.8" font-size="5.2" font-weight="normal" text-anchor="end" textLength="12.0" lengthAdjust="spacingAndGlyphs" fill="#808080">-0.40</text>
<line x1="499.8" y1="752.3" x2="664.2" y2="752.3" stroke="#9a9a9a" stroke-width="0.8"/>
<text x="484.0" y="781.0" font-size="5.8" font-weight="bold" text-anchor="middle" textLength="59.0" lengthAdjust="spacingAndGlyphs" fill="#333" transform="rotate(-90 484.0 781.0)">Enrichment score (ES)</text>
<path d="M500.1,752.3 L502.0,754.5 L504.2,755.8 L505.5,754.0 L506.6,753.4 L508.2,756.2 L509.5,753.0 L511.1,749.7 L512.5,751.5 L514.0,751.8 L516.0,750.8 L518.0,751.5 L520.0,751.0 L522.0,751.4 L524.0,750.6 L525.8,750.2 L528.0,751.5 L530.0,753.0 L533.0,754.5 L536.3,755.8 L540.0,758.0 L544.3,760.7 L550.0,764.5 L555.0,768.0 L559.6,771.4 L565.0,775.5 L570.0,779.5 L575.8,782.8 L580.0,786.5 L585.0,791.5 L592.4,799.5 L597.0,802.0 L602.0,804.5 L608.2,807.3 L611.7,808.7 L616.0,811.0 L620.4,813.5 L622.0,814.0 L623.9,814.3 L626.0,812.5 L629.2,810.8 L631.0,812.0 L632.0,811.7 L634.0,808.5 L637.1,804.7 L639.0,801.5 L640.6,798.6 L642.5,794.0 L645.0,786.3 L646.5,785.5 L648.5,784.6 L649.3,777.6 L650.2,766.2 L651.0,762.0 L652.0,758.3 L653.0,754.0 L653.7,750.4 L655.0,751.2 L656.4,752.2" fill="none" stroke="#1fe61f" stroke-width="1.5" stroke-linejoin="round"/>
<rect x="500.2" y="818.1" width="162.3" height="29.8" fill="#fff" stroke="#d0d0d0" stroke-width="0.5"/>
<rect x="500.40" y="818.1" width="2.00" height="23.7" fill="rgb(160,160,160)"/><rect x="502.40" y="818.1" width="1.00" height="23.7" fill="rgb(0,0,0)"/><rect x="503.40" y="818.1" width="1.60" height="23.7" fill="rgb(160,160,160)"/><rect x="505.00" y="818.1" width="1.00" height="23.7" fill="rgb(160,160,160)"/><rect x="507.00" y="818.1" width="2.50" height="23.7" fill="rgb(160,160,160)"/><rect x="509.50" y="818.1" width="1.60" height="23.7" fill="rgb(110,110,110)"/><rect x="511.10" y="818.1" width="1.30" height="23.7" fill="rgb(0,0,0)"/><rect x="512.40" y="818.1" width="1.60" height="23.7" fill="rgb(0,0,0)"/><rect x="516.90" y="818.1" width="1.60" height="23.7" fill="rgb(205,205,205)"/><rect x="518.50" y="818.1" width="0.80" height="23.7" fill="rgb(110,110,110)"/><rect x="521.30" y="818.1" width="1.30" height="23.7" fill="rgb(0,0,0)"/><rect x="522.60" y="818.1" width="2.50" height="23.7" fill="rgb(0,0,0)"/><rect x="528.40" y="818.1" width="2.00" height="23.7" fill="rgb(160,160,160)"/><rect x="534.70" y="818.1" width="1.60" height="23.7" fill="rgb(0,0,0)"/><rect x="536.30" y="818.1" width="2.00" height="23.7" fill="rgb(110,110,110)"/><rect x="538.30" y="818.1" width="2.50" height="23.7" fill="rgb(110,110,110)"/><rect x="540.80" y="818.1" width="2.50" height="23.7" fill="rgb(205,205,205)"/><rect x="544.10" y="818.1" width="2.00" height="23.7" fill="rgb(0,0,0)"/><rect x="546.10" y="818.1" width="2.00" height="23.7" fill="rgb(160,160,160)"/><rect x="548.10" y="818.1" width="1.60" height="23.7" fill="rgb(110,110,110)"/><rect x="549.70" y="818.1" width="1.00" height="23.7" fill="rgb(110,110,110)"/><rect x="550.70" y="818.1" width="0.80" height="23.7" fill="rgb(205,205,205)"/><rect x="551.50" y="818.1" width="1.60" height="23.7" fill="rgb(0,0,0)"/><rect x="553.10" y="818.1" width="1.30" height="23.7" fill="rgb(0,0,0)"/><rect x="554.40" y="818.1" width="1.00" height="23.7" fill="rgb(110,110,110)"/><rect x="555.40" y="818.1" width="2.50" height="23.7" fill="rgb(160,160,160)"/><rect x="557.90" y="818.1" width="1.00" height="23.7" fill="rgb(160,160,160)"/><rect x="558.90" y="818.1" width="1.00" height="23.7" fill="rgb(0,0,0)"/><rect x="559.90" y="818.1" width="0.80" height="23.7" fill="rgb(160,160,160)"/><rect x="560.70" y="818.1" width="1.60" height="23.7" fill="rgb(110,110,110)"/><rect x="562.30" y="818.1" width="1.00" height="23.7" fill="rgb(110,110,110)"/><rect x="563.30" y="818.1" width="1.00" height="23.7" fill="rgb(0,0,0)"/><rect x="564.30" y="818.1" width="1.00" height="23.7" fill="rgb(0,0,0)"/><rect x="565.30" y="818.1" width="0.80" height="23.7" fill="rgb(110,110,110)"/><rect x="566.10" y="818.1" width="0.80" height="23.7" fill="rgb(205,205,205)"/><rect x="566.90" y="818.1" width="1.30" height="23.7" fill="rgb(110,110,110)"/><rect x="570.20" y="818.1" width="1.30" height="23.7" fill="rgb(0,0,0)"/><rect x="572.80" y="818.1" width="1.00" height="23.7" fill="rgb(110,110,110)"/><rect x="573.80" y="818.1" width="1.30" height="23.7" fill="rgb(0,0,0)"/><rect x="575.10" y="818.1" width="2.00" height="23.7" fill="rgb(110,110,110)"/><rect x="578.10" y="818.1" width="1.60" height="23.7" fill="rgb(60,60,60)"/><rect x="579.70" y="818.1" width="1.60" height="23.7" fill="rgb(60,60,60)"/><rect x="582.30" y="818.1" width="0.80" height="23.7" fill="rgb(60,60,60)"/><rect x="583.10" y="818.1" width="1.60" height="23.7" fill="rgb(60,60,60)"/><rect x="586.70" y="818.1" width="2.00" height="23.7" fill="rgb(0,0,0)"/><rect x="588.70" y="818.1" width="1.60" height="23.7" fill="rgb(0,0,0)"/><rect x="591.10" y="818.1" width="1.60" height="23.7" fill="rgb(0,0,0)"/><rect x="592.70" y="818.1" width="2.50" height="23.7" fill="rgb(60,60,60)"/><rect x="595.20" y="818.1" width="0.80" height="23.7" fill="rgb(110,110,110)"/><rect x="596.00" y="818.1" width="2.00" height="23.7" fill="rgb(0,0,0)"/><rect x="598.00" y="818.1" width="1.00" height="23.7" fill="rgb(60,60,60)"/><rect x="599.00" y="818.1" width="1.30" height="23.7" fill="rgb(110,110,110)"/><rect x="600.30" y="818.1" width="1.30" height="23.7" fill="rgb(0,0,0)"/><rect x="601.60" y="818.1" width="1.60" height="23.7" fill="rgb(110,110,110)"/><rect x="603.20" y="818.1" width="2.00" height="23.7" fill="rgb(60,60,60)"/><rect x="607.70" y="818.1" width="1.30" height="23.7" fill="rgb(0,0,0)"/><rect x="609.00" y="818.1" width="1.00" height="23.7" fill="rgb(60,60,60)"/><rect x="610.00" y="818.1" width="1.30" height="23.7" fill="rgb(0,0,0)"/><rect x="611.30" y="818.1" width="2.50" height="23.7" fill="rgb(160,160,160)"/><rect x="615.10" y="818.1" width="1.00" height="23.7" fill="rgb(60,60,60)"/><rect x="616.10" y="818.1" width="0.80" height="23.7" fill="rgb(110,110,110)"/><rect x="616.90" y="818.1" width="1.00" height="23.7" fill="rgb(0,0,0)"/><rect x="617.90" y="818.1" width="2.00" height="23.7" fill="rgb(60,60,60)"/><rect x="619.90" y="818.1" width="0.80" height="23.7" fill="rgb(60,60,60)"/><rect x="620.70" y="818.1" width="0.80" height="23.7" fill="rgb(60,60,60)"/><rect x="621.50" y="818.1" width="1.60" height="23.7" fill="rgb(60,60,60)"/><rect x="623.10" y="818.1" width="2.00" height="23.7" fill="rgb(160,160,160)"/><rect x="625.10" y="818.1" width="1.00" height="23.7" fill="rgb(205,205,205)"/><rect x="627.10" y="818.1" width="2.50" height="23.7" fill="rgb(60,60,60)"/><rect x="629.60" y="818.1" width="1.60" height="23.7" fill="rgb(160,160,160)"/><rect x="631.20" y="818.1" width="0.80" height="23.7" fill="rgb(0,0,0)"/><rect x="632.00" y="818.1" width="2.50" height="23.7" fill="rgb(0,0,0)"/><rect x="634.50" y="818.1" width="2.00" height="23.7" fill="rgb(60,60,60)"/><rect x="636.50" y="818.1" width="1.30" height="23.7" fill="rgb(110,110,110)"/><rect x="637.80" y="818.1" width="1.30" height="23.7" fill="rgb(60,60,60)"/><rect x="639.10" y="818.1" width="0.80" height="23.7" fill="rgb(60,60,60)"/><rect x="641.20" y="818.1" width="2.50" height="23.7" fill="rgb(0,0,0)"/><rect x="643.70" y="818.1" width="1.60" height="23.7" fill="rgb(110,110,110)"/><rect x="645.30" y="818.1" width="1.00" height="23.7" fill="rgb(0,0,0)"/><rect x="646.30" y="818.1" width="0.80" height="23.7" fill="rgb(110,110,110)"/><rect x="647.10" y="818.1" width="1.00" height="23.7" fill="rgb(0,0,0)"/><rect x="648.10" y="818.1" width="2.50" height="23.7" fill="rgb(60,60,60)"/><rect x="650.60" y="818.1" width="1.00" height="23.7" fill="rgb(110,110,110)"/><rect x="651.60" y="818.1" width="1.00" height="23.7" fill="rgb(60,60,60)"/><rect x="652.60" y="818.1" width="1.60" height="23.7" fill="rgb(0,0,0)"/><rect x="654.20" y="818.1" width="0.80" height="23.7" fill="rgb(0,0,0)"/>
<defs><linearGradient id="Igrad" x1="0" y1="0" x2="1" y2="0"><stop offset="0.000" stop-color="#ee3a44"/><stop offset="0.100" stop-color="#f04a58"/><stop offset="0.200" stop-color="#e86474"/><stop offset="0.240" stop-color="#f08080"/><stop offset="0.295" stop-color="#e87878"/><stop offset="0.305" stop-color="#f0b4de"/><stop offset="0.500" stop-color="#f4b8e4"/><stop offset="0.515" stop-color="#d4d4f8"/><stop offset="0.780" stop-color="#c8c8f4"/><stop offset="0.795" stop-color="#7070e8"/><stop offset="0.940" stop-color="#4848e0"/><stop offset="0.955" stop-color="#1818c8"/><stop offset="1.000" stop-color="#1010c0"/></linearGradient></defs>
<rect x="500.2" y="841.8" width="156.0" height="5.6" fill="url(#Igrad)"/>
<text x="571.9" y="767.4" font-size="11.4" font-weight="bold" textLength="45.5" lengthAdjust="spacingAndGlyphs" fill="#000" stroke="#000" stroke-width="0.2">NES -1.3</text>
<text x="571.9" y="783.2" font-size="11.4" font-weight="bold" textLength="75.3" lengthAdjust="spacingAndGlyphs" fill="#000" stroke="#000" stroke-width="0.2">P-value 0.039</text>
<text x="501.0" y="861.3" font-size="13.2" font-weight="bold" textLength="45.9" lengthAdjust="spacingAndGlyphs" fill="#f81a1a" stroke="#f81a1a" stroke-width="0.35">siPARP1</text>
<text x="613.4" y="861.3" font-size="13.2" font-weight="bold" textLength="41.1" lengthAdjust="spacingAndGlyphs" fill="#4472c4" stroke="#4472c4" stroke-width="0.35">SCRAM</text>
</svg>
</body></html>
